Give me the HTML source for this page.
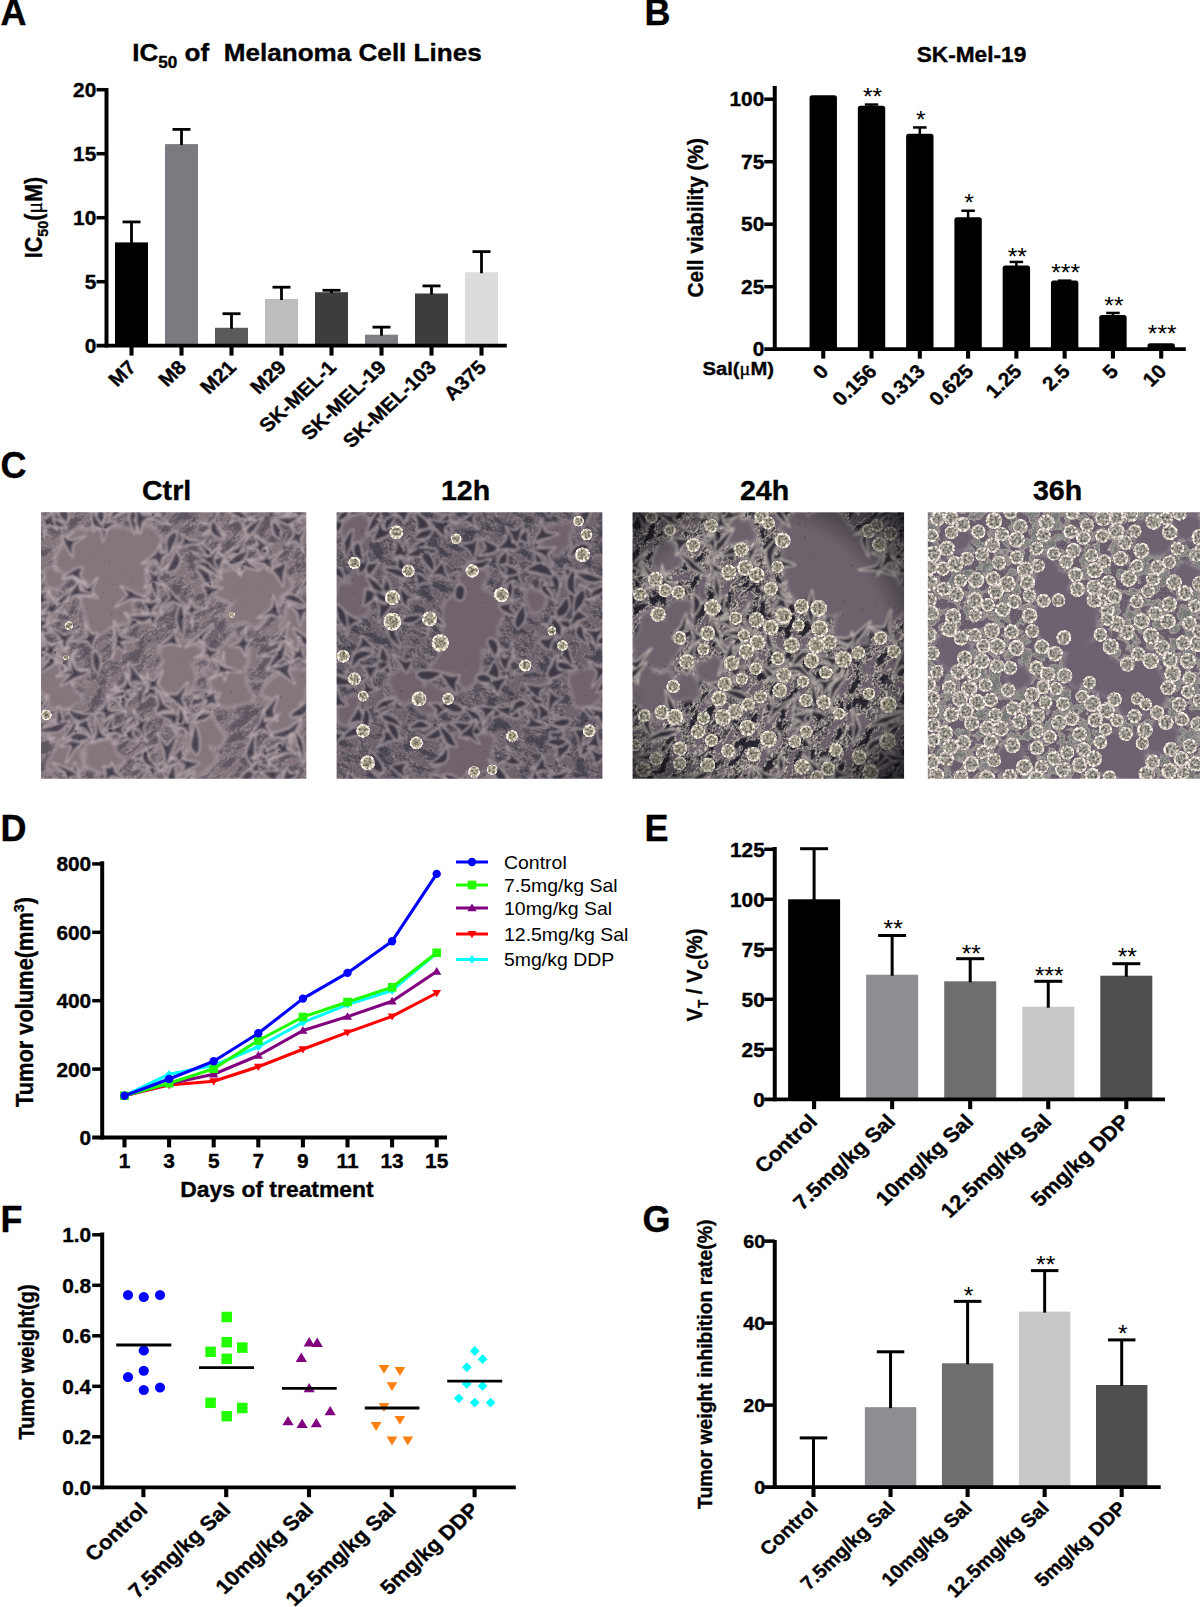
<!DOCTYPE html>
<html lang="en"><head><meta charset="utf-8"><title>Figure</title>
<style>
html,body{margin:0;padding:0;background:#fff}
svg{display:block}
text{font-family:"Liberation Sans",Arial,Helvetica,sans-serif}
.sym{font-family:"Liberation Serif","DejaVu Serif",serif;font-weight:normal}
</style></head><body>
<svg width="1200" height="1607" viewBox="0 0 1200 1607">
<rect width="1200" height="1607" fill="#fff"/>

<text transform="translate(0.50 25.00)" font-size="36" font-weight="bold" text-anchor="start" fill="#000" stroke="#000" stroke-width="0.35">A</text>
<text transform="translate(644.50 25.00)" font-size="36" font-weight="bold" text-anchor="start" fill="#000" stroke="#000" stroke-width="0.35">B</text>
<text transform="translate(0.50 478.30)" font-size="36" font-weight="bold" text-anchor="start" fill="#000" stroke="#000" stroke-width="0.35">C</text>
<text transform="translate(0.50 840.50)" font-size="36" font-weight="bold" text-anchor="start" fill="#000" stroke="#000" stroke-width="0.35">D</text>
<text transform="translate(644.50 840.50)" font-size="36" font-weight="bold" text-anchor="start" fill="#000" stroke="#000" stroke-width="0.35">E</text>
<text transform="translate(0.50 1231.80)" font-size="36" font-weight="bold" text-anchor="start" fill="#000" stroke="#000" stroke-width="0.35">F</text>
<text transform="translate(642.50 1231.80)" font-size="36" font-weight="bold" text-anchor="start" fill="#000" stroke="#000" stroke-width="0.35">G</text>
<g id="panelA">
<rect x="115.00" y="242.40" width="33.00" height="103.30" fill="#000000"/>
<line x1="131.50" y1="221.92" x2="131.50" y2="243.40" stroke="#000" stroke-width="2.8" stroke-linecap="butt"/>
<line x1="122.50" y1="221.92" x2="140.50" y2="221.92" stroke="#000" stroke-width="2.8" stroke-linecap="butt"/>
<rect x="165.00" y="144.10" width="33.00" height="201.60" fill="#7b7a80"/>
<line x1="181.50" y1="129.38" x2="181.50" y2="145.10" stroke="#000" stroke-width="2.8" stroke-linecap="butt"/>
<line x1="172.50" y1="129.38" x2="190.50" y2="129.38" stroke="#000" stroke-width="2.8" stroke-linecap="butt"/>
<rect x="215.00" y="327.78" width="33.00" height="17.92" fill="#5a5a5a"/>
<line x1="231.50" y1="313.70" x2="231.50" y2="328.78" stroke="#000" stroke-width="2.8" stroke-linecap="butt"/>
<line x1="222.50" y1="313.70" x2="240.50" y2="313.70" stroke="#000" stroke-width="2.8" stroke-linecap="butt"/>
<rect x="265.00" y="298.98" width="33.00" height="46.72" fill="#bdbdbd"/>
<line x1="281.50" y1="287.20" x2="281.50" y2="299.98" stroke="#000" stroke-width="2.8" stroke-linecap="butt"/>
<line x1="272.50" y1="287.20" x2="290.50" y2="287.20" stroke="#000" stroke-width="2.8" stroke-linecap="butt"/>
<rect x="315.00" y="292.20" width="33.00" height="53.50" fill="#3d3d3d"/>
<line x1="331.50" y1="290.28" x2="331.50" y2="293.20" stroke="#000" stroke-width="2.8" stroke-linecap="butt"/>
<line x1="322.50" y1="290.28" x2="340.50" y2="290.28" stroke="#000" stroke-width="2.8" stroke-linecap="butt"/>
<rect x="365.00" y="334.69" width="33.00" height="11.01" fill="#7f7e84"/>
<line x1="381.50" y1="327.14" x2="381.50" y2="335.69" stroke="#000" stroke-width="2.8" stroke-linecap="butt"/>
<line x1="372.50" y1="327.14" x2="390.50" y2="327.14" stroke="#000" stroke-width="2.8" stroke-linecap="butt"/>
<rect x="415.00" y="293.48" width="33.00" height="52.22" fill="#3d3d3d"/>
<line x1="431.50" y1="285.92" x2="431.50" y2="294.48" stroke="#000" stroke-width="2.8" stroke-linecap="butt"/>
<line x1="422.50" y1="285.92" x2="440.50" y2="285.92" stroke="#000" stroke-width="2.8" stroke-linecap="butt"/>
<rect x="465.00" y="272.23" width="33.00" height="73.47" fill="#dcdcdc"/>
<line x1="481.50" y1="251.62" x2="481.50" y2="273.23" stroke="#000" stroke-width="2.8" stroke-linecap="butt"/>
<line x1="472.50" y1="251.62" x2="490.50" y2="251.62" stroke="#000" stroke-width="2.8" stroke-linecap="butt"/>
<line x1="106.50" y1="87.90" x2="106.50" y2="347.60" stroke="#000" stroke-width="4.0" stroke-linecap="butt"/>
<line x1="96.50" y1="345.70" x2="506.80" y2="345.70" stroke="#000" stroke-width="3.8" stroke-linecap="butt"/>
<line x1="96.50" y1="281.70" x2="106.50" y2="281.70" stroke="#000" stroke-width="3.5" stroke-linecap="butt"/>
<line x1="96.50" y1="217.70" x2="106.50" y2="217.70" stroke="#000" stroke-width="3.5" stroke-linecap="butt"/>
<line x1="96.50" y1="153.70" x2="106.50" y2="153.70" stroke="#000" stroke-width="3.5" stroke-linecap="butt"/>
<line x1="96.50" y1="89.70" x2="106.50" y2="89.70" stroke="#000" stroke-width="3.5" stroke-linecap="butt"/>
<line x1="131.50" y1="345.70" x2="131.50" y2="355.60" stroke="#000" stroke-width="4.1" stroke-linecap="butt"/>
<line x1="181.50" y1="345.70" x2="181.50" y2="355.60" stroke="#000" stroke-width="4.1" stroke-linecap="butt"/>
<line x1="231.50" y1="345.70" x2="231.50" y2="355.60" stroke="#000" stroke-width="4.1" stroke-linecap="butt"/>
<line x1="281.50" y1="345.70" x2="281.50" y2="355.60" stroke="#000" stroke-width="4.1" stroke-linecap="butt"/>
<line x1="331.50" y1="345.70" x2="331.50" y2="355.60" stroke="#000" stroke-width="4.1" stroke-linecap="butt"/>
<line x1="381.50" y1="345.70" x2="381.50" y2="355.60" stroke="#000" stroke-width="4.1" stroke-linecap="butt"/>
<line x1="431.50" y1="345.70" x2="431.50" y2="355.60" stroke="#000" stroke-width="4.1" stroke-linecap="butt"/>
<line x1="481.50" y1="345.70" x2="481.50" y2="355.60" stroke="#000" stroke-width="4.1" stroke-linecap="butt"/>
<text transform="translate(96.30 353.00) scale(1.07 1)" font-size="19.5" font-weight="bold" text-anchor="end" fill="#000" stroke="#000" stroke-width="0.35">0</text>
<text transform="translate(96.30 289.00) scale(1.07 1)" font-size="19.5" font-weight="bold" text-anchor="end" fill="#000" stroke="#000" stroke-width="0.35">5</text>
<text transform="translate(96.30 225.00) scale(1.07 1)" font-size="19.5" font-weight="bold" text-anchor="end" fill="#000" stroke="#000" stroke-width="0.35">10</text>
<text transform="translate(96.30 161.00) scale(1.07 1)" font-size="19.5" font-weight="bold" text-anchor="end" fill="#000" stroke="#000" stroke-width="0.35">15</text>
<text transform="translate(96.30 97.00) scale(1.07 1)" font-size="19.5" font-weight="bold" text-anchor="end" fill="#000" stroke="#000" stroke-width="0.35">20</text>
<text transform="translate(307.00 61.00) scale(1.07 1)" font-size="24.4" font-weight="bold" text-anchor="middle" fill="#000" stroke="#000" stroke-width="0.35">IC<tspan font-size="16" dy="6.5">50</tspan><tspan dy="-6.5"> of&#160; Melanoma Cell Lines</tspan></text>
<text transform="translate(42.20 217.50) scale(1.07 1) rotate(-90)" font-size="21.6" font-weight="bold" text-anchor="middle" fill="#000" stroke="#000" stroke-width="0.35">IC<tspan font-size="14.4" dy="5.5">50</tspan><tspan dy="-5.5">(</tspan><tspan class="sym">μ</tspan>M)</text>
<text transform="translate(137.50 368.50) scale(1.07 1) rotate(-45)" font-size="19.5" font-weight="bold" text-anchor="end" fill="#000" stroke="#000" stroke-width="0.35">M7</text>
<text transform="translate(187.50 368.50) scale(1.07 1) rotate(-45)" font-size="19.5" font-weight="bold" text-anchor="end" fill="#000" stroke="#000" stroke-width="0.35">M8</text>
<text transform="translate(237.50 368.50) scale(1.07 1) rotate(-45)" font-size="19.5" font-weight="bold" text-anchor="end" fill="#000" stroke="#000" stroke-width="0.35">M21</text>
<text transform="translate(287.50 368.50) scale(1.07 1) rotate(-45)" font-size="19.5" font-weight="bold" text-anchor="end" fill="#000" stroke="#000" stroke-width="0.35">M29</text>
<text transform="translate(337.50 368.50) scale(1.07 1) rotate(-45)" font-size="19.5" font-weight="bold" text-anchor="end" fill="#000" stroke="#000" stroke-width="0.35">SK-MEL-1</text>
<text transform="translate(387.50 368.50) scale(1.07 1) rotate(-45)" font-size="19.5" font-weight="bold" text-anchor="end" fill="#000" stroke="#000" stroke-width="0.35">SK-MEL-19</text>
<text transform="translate(437.50 368.50) scale(1.07 1) rotate(-45)" font-size="19.5" font-weight="bold" text-anchor="end" fill="#000" stroke="#000" stroke-width="0.35">SK-MEL-103</text>
<text transform="translate(487.50 368.50) scale(1.07 1) rotate(-45)" font-size="19.5" font-weight="bold" text-anchor="end" fill="#000" stroke="#000" stroke-width="0.35">A375</text>
</g>
<g id="panelB">
<rect x="809.55" y="95.30" width="27.4" height="254.90" rx="2.6" fill="#000"/>
<rect x="857.83" y="105.80" width="27.4" height="244.40" rx="2.6" fill="#000"/>
<line x1="871.53" y1="104.55" x2="871.53" y2="107.80" stroke="#000" stroke-width="2.5" stroke-linecap="butt"/>
<line x1="864.78" y1="104.55" x2="878.28" y2="104.55" stroke="#000" stroke-width="2.5" stroke-linecap="butt"/>
<text transform="translate(872.53 105.20) scale(1.07 1)" font-size="23" font-weight="normal" text-anchor="middle" fill="#000">**</text>
<rect x="906.11" y="133.80" width="27.4" height="216.40" rx="2.6" fill="#000"/>
<line x1="919.81" y1="127.45" x2="919.81" y2="135.80" stroke="#000" stroke-width="2.5" stroke-linecap="butt"/>
<line x1="913.06" y1="127.45" x2="926.56" y2="127.45" stroke="#000" stroke-width="2.5" stroke-linecap="butt"/>
<text transform="translate(920.81 127.70) scale(1.07 1)" font-size="23" font-weight="normal" text-anchor="middle" fill="#000">*</text>
<rect x="954.39" y="217.30" width="27.4" height="132.90" rx="2.6" fill="#000"/>
<line x1="968.09" y1="210.75" x2="968.09" y2="219.30" stroke="#000" stroke-width="2.5" stroke-linecap="butt"/>
<line x1="961.34" y1="210.75" x2="974.84" y2="210.75" stroke="#000" stroke-width="2.5" stroke-linecap="butt"/>
<text transform="translate(969.09 211.20) scale(1.07 1)" font-size="23" font-weight="normal" text-anchor="middle" fill="#000">*</text>
<rect x="1002.67" y="265.50" width="27.4" height="84.70" rx="2.6" fill="#000"/>
<line x1="1016.37" y1="261.95" x2="1016.37" y2="267.50" stroke="#000" stroke-width="2.5" stroke-linecap="butt"/>
<line x1="1009.62" y1="261.95" x2="1023.12" y2="261.95" stroke="#000" stroke-width="2.5" stroke-linecap="butt"/>
<text transform="translate(1017.37 264.70) scale(1.07 1)" font-size="23" font-weight="normal" text-anchor="middle" fill="#000">**</text>
<rect x="1050.95" y="280.50" width="27.4" height="69.70" rx="2.6" fill="#000"/>
<line x1="1064.65" y1="280.65" x2="1064.65" y2="282.50" stroke="#000" stroke-width="2.5" stroke-linecap="butt"/>
<line x1="1057.90" y1="280.65" x2="1071.40" y2="280.65" stroke="#000" stroke-width="2.5" stroke-linecap="butt"/>
<text transform="translate(1065.65 281.00) scale(1.07 1)" font-size="23" font-weight="normal" text-anchor="middle" fill="#000">***</text>
<rect x="1099.23" y="315.00" width="27.4" height="35.20" rx="2.6" fill="#000"/>
<line x1="1112.93" y1="312.95" x2="1112.93" y2="317.00" stroke="#000" stroke-width="2.5" stroke-linecap="butt"/>
<line x1="1106.18" y1="312.95" x2="1119.68" y2="312.95" stroke="#000" stroke-width="2.5" stroke-linecap="butt"/>
<text transform="translate(1113.93 313.50) scale(1.07 1)" font-size="23" font-weight="normal" text-anchor="middle" fill="#000">**</text>
<rect x="1147.51" y="343.30" width="27.4" height="6.90" rx="2.6" fill="#000"/>
<text transform="translate(1162.21 342.00) scale(1.07 1)" font-size="23" font-weight="normal" text-anchor="middle" fill="#000">***</text>
<line x1="774.75" y1="86.00" x2="774.75" y2="351.10" stroke="#000" stroke-width="4.0" stroke-linecap="butt"/>
<line x1="764.25" y1="349.20" x2="1185.80" y2="349.20" stroke="#000" stroke-width="3.8" stroke-linecap="butt"/>
<line x1="764.25" y1="286.70" x2="774.75" y2="286.70" stroke="#000" stroke-width="3.5" stroke-linecap="butt"/>
<line x1="764.25" y1="224.20" x2="774.75" y2="224.20" stroke="#000" stroke-width="3.5" stroke-linecap="butt"/>
<line x1="764.25" y1="161.70" x2="774.75" y2="161.70" stroke="#000" stroke-width="3.5" stroke-linecap="butt"/>
<line x1="764.25" y1="99.20" x2="774.75" y2="99.20" stroke="#000" stroke-width="3.5" stroke-linecap="butt"/>
<line x1="823.25" y1="349.20" x2="823.25" y2="358.60" stroke="#000" stroke-width="4.1" stroke-linecap="butt"/>
<line x1="871.53" y1="349.20" x2="871.53" y2="358.60" stroke="#000" stroke-width="4.1" stroke-linecap="butt"/>
<line x1="919.81" y1="349.20" x2="919.81" y2="358.60" stroke="#000" stroke-width="4.1" stroke-linecap="butt"/>
<line x1="968.09" y1="349.20" x2="968.09" y2="358.60" stroke="#000" stroke-width="4.1" stroke-linecap="butt"/>
<line x1="1016.37" y1="349.20" x2="1016.37" y2="358.60" stroke="#000" stroke-width="4.1" stroke-linecap="butt"/>
<line x1="1064.65" y1="349.20" x2="1064.65" y2="358.60" stroke="#000" stroke-width="4.1" stroke-linecap="butt"/>
<line x1="1112.93" y1="349.20" x2="1112.93" y2="358.60" stroke="#000" stroke-width="4.1" stroke-linecap="butt"/>
<line x1="1161.21" y1="349.20" x2="1161.21" y2="358.60" stroke="#000" stroke-width="4.1" stroke-linecap="butt"/>
<text transform="translate(764.30 356.20) scale(1.07 1)" font-size="19.5" font-weight="bold" text-anchor="end" fill="#000" stroke="#000" stroke-width="0.35">0</text>
<text transform="translate(764.30 293.70) scale(1.07 1)" font-size="19.5" font-weight="bold" text-anchor="end" fill="#000" stroke="#000" stroke-width="0.35">25</text>
<text transform="translate(764.30 231.20) scale(1.07 1)" font-size="19.5" font-weight="bold" text-anchor="end" fill="#000" stroke="#000" stroke-width="0.35">50</text>
<text transform="translate(764.30 168.70) scale(1.07 1)" font-size="19.5" font-weight="bold" text-anchor="end" fill="#000" stroke="#000" stroke-width="0.35">75</text>
<text transform="translate(764.30 106.20) scale(1.07 1)" font-size="19.5" font-weight="bold" text-anchor="end" fill="#000" stroke="#000" stroke-width="0.35">100</text>
<text transform="translate(971.50 61.80) scale(1.07 1)" font-size="21.2" font-weight="bold" text-anchor="middle" fill="#000" stroke="#000" stroke-width="0.35">SK-Mel-19</text>
<text transform="translate(702.80 217.80) scale(1.07 1) rotate(-90)" font-size="20.8" font-weight="bold" text-anchor="middle" fill="#000" stroke="#000" stroke-width="0.35">Cell viability (%)</text>
<text transform="translate(774.00 374.60) scale(1.07 1)" font-size="18.9" font-weight="bold" text-anchor="end" fill="#000" stroke="#000" stroke-width="0.35">Sal(<tspan class="sym">μ</tspan>M)</text>
<text transform="translate(829.75 372.50) scale(1.07 1) rotate(-45)" font-size="19.5" font-weight="bold" text-anchor="end" fill="#000" stroke="#000" stroke-width="0.35">0</text>
<text transform="translate(878.03 372.50) scale(1.07 1) rotate(-45)" font-size="19.5" font-weight="bold" text-anchor="end" fill="#000" stroke="#000" stroke-width="0.35">0.156</text>
<text transform="translate(926.31 372.50) scale(1.07 1) rotate(-45)" font-size="19.5" font-weight="bold" text-anchor="end" fill="#000" stroke="#000" stroke-width="0.35">0.313</text>
<text transform="translate(974.59 372.50) scale(1.07 1) rotate(-45)" font-size="19.5" font-weight="bold" text-anchor="end" fill="#000" stroke="#000" stroke-width="0.35">0.625</text>
<text transform="translate(1022.87 372.50) scale(1.07 1) rotate(-45)" font-size="19.5" font-weight="bold" text-anchor="end" fill="#000" stroke="#000" stroke-width="0.35">1.25</text>
<text transform="translate(1071.15 372.50) scale(1.07 1) rotate(-45)" font-size="19.5" font-weight="bold" text-anchor="end" fill="#000" stroke="#000" stroke-width="0.35">2.5</text>
<text transform="translate(1119.43 372.50) scale(1.07 1) rotate(-45)" font-size="19.5" font-weight="bold" text-anchor="end" fill="#000" stroke="#000" stroke-width="0.35">5</text>
<text transform="translate(1167.71 372.50) scale(1.07 1) rotate(-45)" font-size="19.5" font-weight="bold" text-anchor="end" fill="#000" stroke="#000" stroke-width="0.35">10</text>
</g>
<g id="panelC">
<defs>
<clipPath id="pc0"><rect x="41.0" y="512.3" width="265.3" height="266.5"/></clipPath>
<clipPath id="pc1"><rect x="336.6" y="512.3" width="265.8" height="266.5"/></clipPath>
<clipPath id="pc2"><rect x="632.5" y="512.3" width="271.6" height="266.5"/></clipPath>
<clipPath id="pc3"><rect x="927.8" y="512.3" width="272.2" height="266.5"/></clipPath>
<filter id="lens" x="0" y="0" width="1" height="1"><feGaussianBlur stdDeviation="0.65"/></filter>
<filter id="soft" x="-0.1" y="-0.1" width="1.2" height="1.2"><feGaussianBlur stdDeviation="2.2"/></filter>
<filter id="soft2" x="-0.1" y="-0.1" width="1.2" height="1.2"><feGaussianBlur stdDeviation="0.8"/></filter>
<radialGradient id="rc"><stop offset="0" stop-color="#8d8678"/><stop offset="0.55" stop-color="#a39c8c"/><stop offset="0.8" stop-color="#efe9dc"/><stop offset="0.93" stop-color="#d9c8cc"/><stop offset="1" stop-color="#d9c8cc" stop-opacity="0"/></radialGradient>
<radialGradient id="rc2"><stop offset="0" stop-color="#aaa596"/><stop offset="0.5" stop-color="#8d887e"/><stop offset="0.78" stop-color="#dad5c4"/><stop offset="0.93" stop-color="#c4b5bc"/><stop offset="1" stop-color="#c4b5bc" stop-opacity="0"/></radialGradient>
<radialGradient id="rc3"><stop offset="0" stop-color="#a29e97"/><stop offset="0.5" stop-color="#8e8a87"/><stop offset="0.76" stop-color="#dad4c8"/><stop offset="0.9" stop-color="#cbb9c1"/><stop offset="1" stop-color="#c9b3bf" stop-opacity="0"/></radialGradient>
<radialGradient id="vg" cx="0.47" cy="0.5" r="0.75"><stop offset="0.62" stop-color="#000" stop-opacity="0"/><stop offset="1" stop-color="#05030c" stop-opacity="0.85"/></radialGradient>
<filter id="tx0" x="0" y="0" width="1" height="1" color-interpolation-filters="sRGB">
<feTurbulence type="fractalNoise" baseFrequency="0.055 0.125" numOctaves="3" seed="11" result="n"/>
<feColorMatrix in="n" type="matrix" values="3.4 0 0 0 -1.28  3.4 0 0 0 -1.28  3.4 0 0 0 -1.28  0 0 0 0 1" result="g"/>
<feComponentTransfer in="g" result="t"><feFuncR type="table" tableValues="0.376 0.416 0.541 0.439 0.400 0.455 0.612 0.549 0.522 0.518 0.518"/><feFuncG type="table" tableValues="0.345 0.384 0.494 0.404 0.369 0.416 0.561 0.494 0.467 0.463 0.463"/><feFuncB type="table" tableValues="0.388 0.424 0.522 0.439 0.412 0.447 0.580 0.518 0.494 0.490 0.490"/></feComponentTransfer>
<feTurbulence type="fractalNoise" baseFrequency="0.55" numOctaves="2" seed="18" result="f"/>
<feColorMatrix in="f" type="matrix" values="1 0 0 0 0  1 0 0 0 0  1 0 0 0 0  0 0 0 0 1" result="fg"/>
<feComposite in="t" in2="fg" operator="arithmetic" k1="0" k2="1" k3="0.12" k4="-0.06"/>
</filter>
<filter id="tx1" x="0" y="0" width="1" height="1" color-interpolation-filters="sRGB">
<feTurbulence type="fractalNoise" baseFrequency="0.065 0.120" numOctaves="3" seed="23" result="n"/>
<feColorMatrix in="n" type="matrix" values="3.4 0 0 0 -1.22  3.4 0 0 0 -1.22  3.4 0 0 0 -1.22  0 0 0 0 1" result="g"/>
<feComponentTransfer in="g" result="t"><feFuncR type="table" tableValues="0.290 0.345 0.478 0.369 0.314 0.384 0.557 0.478 0.443 0.435 0.435"/><feFuncG type="table" tableValues="0.271 0.322 0.435 0.341 0.294 0.353 0.510 0.431 0.396 0.392 0.392"/><feFuncB type="table" tableValues="0.318 0.365 0.467 0.380 0.337 0.388 0.537 0.459 0.431 0.427 0.427"/></feComponentTransfer>
<feTurbulence type="fractalNoise" baseFrequency="0.55" numOctaves="2" seed="30" result="f"/>
<feColorMatrix in="f" type="matrix" values="1 0 0 0 0  1 0 0 0 0  1 0 0 0 0  0 0 0 0 1" result="fg"/>
<feComposite in="t" in2="fg" operator="arithmetic" k1="0" k2="1" k3="0.18" k4="-0.09"/>
</filter>
<filter id="tx2" x="0" y="0" width="1" height="1" color-interpolation-filters="sRGB">
<feTurbulence type="fractalNoise" baseFrequency="0.060 0.125" numOctaves="3" seed="5" result="n"/>
<feColorMatrix in="n" type="matrix" values="3.4 0 0 0 -1.25  3.4 0 0 0 -1.25  3.4 0 0 0 -1.25  0 0 0 0 1" result="g"/>
<feComponentTransfer in="g" result="t"><feFuncR type="table" tableValues="0.157 0.439 0.784 0.337 0.204 0.518 0.839 0.502 0.431 0.424 0.424"/><feFuncG type="table" tableValues="0.149 0.416 0.753 0.314 0.192 0.494 0.808 0.455 0.392 0.384 0.384"/><feFuncB type="table" tableValues="0.188 0.416 0.706 0.353 0.235 0.471 0.761 0.475 0.427 0.424 0.424"/></feComponentTransfer>
<feTurbulence type="fractalNoise" baseFrequency="0.55" numOctaves="2" seed="12" result="f"/>
<feColorMatrix in="f" type="matrix" values="1 0 0 0 0  1 0 0 0 0  1 0 0 0 0  0 0 0 0 1" result="fg"/>
<feComposite in="t" in2="fg" operator="arithmetic" k1="0" k2="1" k3="0.26" k4="-0.13"/>
</filter>
<filter id="tx3" x="0" y="0" width="1" height="1" color-interpolation-filters="sRGB">
<feTurbulence type="fractalNoise" baseFrequency="0.10 0.10" numOctaves="2" seed="31" result="n"/>
<feColorMatrix in="n" type="matrix" values="3.2 0 0 0 -1.0  3.2 0 0 0 -1.0  3.2 0 0 0 -1.0  0 0 0 0 1" result="g"/>
<feComponentTransfer in="g" result="t"><feFuncR type="table" tableValues="0.471 0.588 0.431 0.627 0.510 0.588 0.667 0.471 0.424 0.416 0.416"/><feFuncG type="table" tableValues="0.486 0.588 0.439 0.620 0.510 0.573 0.627 0.431 0.384 0.376 0.376"/><feFuncB type="table" tableValues="0.478 0.557 0.471 0.580 0.510 0.549 0.627 0.471 0.439 0.431 0.431"/></feComponentTransfer>
<feTurbulence type="fractalNoise" baseFrequency="0.55" numOctaves="2" seed="38" result="f"/>
<feColorMatrix in="f" type="matrix" values="1 0 0 0 0  1 0 0 0 0  1 0 0 0 0  0 0 0 0 1" result="fg"/>
<feComposite in="t" in2="fg" operator="arithmetic" k1="0" k2="1" k3="0.2" k4="-0.1"/>
</filter>
<filter id="cellgrain" x="0" y="0" width="1" height="1" color-interpolation-filters="sRGB"><feTurbulence type="fractalNoise" baseFrequency="0.42" numOctaves="2" seed="4" result="f"/><feColorMatrix in="f" type="matrix" values="1 0 0 0 0  1 0 0 0 0  0.97 0 0 0 0  0 0 0 0 1" result="fg"/><feGaussianBlur in="SourceGraphic" stdDeviation="0.55" result="b"/><feComposite in="b" in2="fg" operator="arithmetic" k1="1.5" k2="0.25" k3="0" k4="0"/><feComposite in2="b" operator="in"/></filter>
</defs>
<g clip-path="url(#pc0)"><g filter="url(#lens)">
<rect x="41.0" y="512.3" width="265.3" height="266.5" fill="#84767d"/>
<rect x="-19.0" y="452.29999999999995" width="385.3" height="386.5" filter="url(#tx0)" transform="rotate(-38 173.65 645.55)"/>
<g filter="url(#soft)" fill="#84767d" stroke="#d9c9cc" stroke-width="1.8" stroke-linejoin="round">
<path d="M67.9 535.1C74.6 528.6 87.3 529.1 95.5 527.8C103.7 526.4 109.7 526.4 117.1 527.1C124.6 527.8 132.9 528.5 140.2 532.0C147.5 535.4 160.0 541.3 160.9 547.7C161.8 554.1 148.1 562.7 145.7 570.5C143.4 578.3 150.9 589.0 147.0 594.3C143.1 599.6 130.6 601.3 122.5 602.2C114.4 603.2 104.4 603.1 98.6 600.0C92.7 596.9 94.6 589.1 87.4 583.5C80.2 578.0 58.7 574.9 55.4 566.8C52.2 558.7 61.2 541.6 67.9 535.1Z"/>
<path d="M85.3 616.5C83.2 610.7 82.6 607.1 81.8 602.2C80.9 597.3 77.7 590.2 80.4 587.1C83.0 584.0 93.3 584.9 98.0 583.4C102.7 582.0 105.2 578.0 108.6 578.5C112.0 579.0 115.4 584.1 118.4 586.4C121.4 588.8 124.3 589.3 126.8 592.4C129.2 595.5 132.5 600.1 133.1 605.0C133.7 610.0 133.7 618.6 130.5 622.0C127.3 625.3 119.7 622.8 113.8 625.4C107.8 627.9 99.4 638.6 94.6 637.2C89.9 635.7 87.5 622.4 85.3 616.5Z"/>
<path d="M160.3 544.7C160.7 547.9 163.7 552.9 162.7 555.9C161.8 558.9 157.7 561.6 154.5 562.8C151.4 563.9 147.4 563.7 143.9 562.7C140.5 561.8 136.3 559.2 133.9 556.9C131.5 554.6 131.2 552.3 129.7 548.8C128.2 545.4 123.6 539.0 125.1 536.4C126.6 533.7 135.4 534.8 138.7 532.9C142.0 531.1 142.2 525.8 144.8 525.3C147.4 524.7 151.8 527.5 154.4 529.4C157.0 531.4 159.3 534.5 160.3 537.1C161.3 539.7 159.9 541.6 160.3 544.7Z"/>
<path d="M89.7 536.2C92.1 539.2 89.4 543.2 92.7 546.1C96.0 549.0 109.8 551.0 109.6 553.3C109.4 555.6 95.1 557.1 91.5 559.9C87.9 562.6 90.2 568.1 87.9 569.8C85.6 571.4 81.3 570.0 77.5 569.7C73.6 569.4 66.4 570.3 64.6 568.0C62.8 565.6 67.5 559.5 66.9 555.8C66.3 552.2 60.5 548.9 60.8 546.0C61.2 543.1 66.1 541.6 68.9 538.6C71.8 535.6 74.7 528.5 78.2 528.1C81.6 527.7 87.3 533.2 89.7 536.2Z"/>
<path d="M245.6 588.6C243.5 591.0 242.1 591.6 240.1 594.1C238.1 596.5 236.3 602.2 233.6 603.2C231.0 604.1 227.3 601.3 224.0 599.8C220.8 598.3 215.1 596.9 214.2 594.2C213.4 591.5 218.5 587.2 218.7 583.5C219.0 579.8 214.4 574.0 215.7 572.1C217.1 570.1 223.6 572.2 226.9 571.7C230.2 571.1 233.3 568.5 235.6 569.0C237.9 569.4 238.0 572.5 240.9 574.2C243.8 575.9 252.5 576.8 253.3 579.2C254.1 581.6 247.8 586.1 245.6 588.6Z"/>
<path d="M256.5 628.1C252.1 627.8 250.1 612.2 246.2 606.8C242.4 601.3 234.6 599.6 233.4 595.4C232.1 591.2 237.0 586.2 238.6 581.4C240.2 576.5 240.0 569.1 243.0 566.1C246.0 563.1 251.6 564.5 256.6 563.3C261.6 562.2 268.6 558.1 272.9 559.4C277.2 560.7 279.2 566.6 282.6 571.1C286.0 575.5 293.9 581.7 293.2 586.1C292.5 590.6 281.8 594.0 278.4 597.7C275.0 601.4 276.4 603.4 272.7 608.5C269.1 613.6 260.9 628.4 256.5 628.1Z"/>
<path d="M255.2 627.9C252.4 628.2 249.3 622.1 244.9 621.6C240.5 621.0 231.5 626.6 228.8 624.6C226.2 622.6 227.6 613.6 228.8 609.6C230.0 605.6 234.3 604.0 236.3 600.5C238.3 597.0 238.3 591.1 240.9 588.9C243.6 586.7 248.4 586.9 252.2 587.3C256.0 587.8 259.0 590.2 263.9 591.8C268.8 593.4 280.9 593.6 281.6 596.9C282.4 600.2 271.9 608.0 268.6 611.8C265.2 615.5 263.9 616.8 261.7 619.5C259.4 622.1 258.0 627.5 255.2 627.9Z"/>
<path d="M290.2 601.6C292.6 601.2 297.6 612.4 300.3 615.2C303.0 618.1 304.3 617.0 306.4 618.7C308.6 620.3 312.5 622.7 313.3 625.4C314.2 628.1 313.4 632.6 311.7 634.8C310.0 636.9 306.0 635.3 303.1 638.4C300.2 641.5 297.3 653.0 294.4 653.2C291.5 653.5 287.4 643.6 285.6 640.1C283.7 636.6 283.8 634.9 283.1 632.3C282.4 629.6 281.1 626.8 281.6 624.4C282.0 622.0 284.5 621.7 286.0 617.9C287.4 614.1 287.8 602.1 290.2 601.6Z"/>
<path d="M315.9 674.8C316.6 678.3 306.9 685.8 305.2 689.8C303.5 693.8 307.0 696.1 305.6 698.7C304.2 701.2 300.4 702.8 296.8 705.1C293.3 707.4 287.7 713.0 284.4 712.2C281.1 711.4 280.6 703.3 276.8 700.2C272.9 697.1 262.3 696.9 261.4 693.5C260.4 690.1 268.0 682.9 271.1 679.8C274.1 676.6 276.4 676.1 279.5 674.6C282.6 673.1 286.1 671.7 289.7 670.8C293.2 669.9 296.4 668.4 300.8 669.1C305.1 669.7 315.1 671.4 315.9 674.8Z"/>
<path d="M298.5 718.1C297.8 721.8 300.6 728.2 299.0 731.4C297.3 734.6 292.2 737.3 288.6 737.6C284.9 737.9 281.1 734.8 277.2 733.2C273.3 731.7 267.0 731.4 265.2 728.4C263.4 725.3 266.4 719.3 266.4 715.1C266.4 710.8 263.4 705.6 265.3 702.7C267.2 699.9 273.9 699.6 277.8 698.1C281.6 696.6 285.2 693.4 288.3 693.9C291.4 694.4 293.9 698.5 296.4 701.1C298.8 703.8 302.6 706.9 303.0 709.8C303.3 712.6 299.1 714.5 298.5 718.1Z"/>
<path d="M166.3 639.6C168.9 638.3 172.9 641.2 176.0 641.3C179.1 641.5 181.8 639.9 184.6 640.4C187.5 640.9 190.1 642.4 193.2 644.3C196.3 646.2 202.7 648.9 203.0 652.0C203.3 655.1 197.7 660.4 194.8 662.8C191.9 665.2 188.6 664.8 185.7 666.6C182.8 668.3 180.9 672.1 177.6 673.1C174.2 674.2 168.0 675.1 165.5 672.9C163.0 670.7 163.4 663.8 162.4 659.9C161.5 655.9 159.4 652.6 160.1 649.2C160.7 645.8 163.6 640.9 166.3 639.6Z"/>
<path d="M158.3 670.9C159.8 667.8 161.6 665.1 164.5 662.4C167.5 659.7 172.0 655.2 176.0 655.0C180.1 654.9 185.4 658.5 188.7 661.6C191.9 664.7 194.6 669.7 195.4 673.7C196.2 677.6 195.0 682.2 193.5 685.4C191.9 688.6 188.7 691.1 185.9 692.9C183.2 694.7 180.3 694.8 177.0 696.0C173.6 697.3 168.7 701.4 165.8 700.4C162.9 699.5 161.5 693.7 159.7 690.5C158.0 687.2 155.5 684.2 155.3 681.0C155.0 677.7 156.7 674.0 158.3 670.9Z"/>
<path d="M247.9 654.1C248.1 656.6 248.2 658.5 247.3 661.5C246.5 664.5 245.4 671.0 242.8 672.0C240.3 673.0 235.4 668.5 231.8 667.6C228.2 666.7 223.2 668.6 221.2 666.9C219.2 665.2 219.9 660.4 219.6 657.3C219.3 654.3 218.2 651.1 219.5 648.7C220.7 646.4 225.0 645.6 227.2 643.3C229.5 641.0 230.6 635.0 233.0 634.8C235.3 634.7 239.0 640.6 241.3 642.5C243.5 644.4 245.3 644.3 246.4 646.2C247.5 648.1 247.8 651.5 247.9 654.1Z"/>
<path d="M244.8 671.2C246.8 674.4 244.7 680.4 246.3 684.8C247.8 689.3 254.6 694.6 254.1 697.8C253.6 701.0 247.3 702.5 243.4 703.9C239.6 705.4 234.7 706.0 230.8 706.4C227.0 706.8 224.7 707.1 220.4 706.4C216.1 705.7 206.3 705.3 204.9 702.1C203.6 698.9 212.5 692.8 212.1 687.0C211.7 681.3 200.5 669.6 202.4 667.5C204.2 665.4 217.9 674.8 223.3 674.5C228.6 674.1 231.1 665.7 234.7 665.2C238.3 664.6 242.9 667.9 244.8 671.2Z"/>
<path d="M73.0 660.5C74.8 662.6 68.5 672.1 68.4 676.4C68.2 680.7 72.5 683.5 72.1 686.3C71.7 689.1 68.3 690.4 65.8 693.1C63.2 695.8 60.0 702.2 56.9 702.7C53.7 703.1 49.9 697.8 46.8 695.6C43.7 693.4 40.3 692.1 38.3 689.4C36.3 686.8 35.8 683.4 34.7 679.6C33.7 675.8 29.8 669.6 31.8 666.8C33.8 664.0 42.5 663.3 46.8 662.8C51.0 662.4 53.1 664.5 57.4 664.1C61.8 663.7 71.2 658.5 73.0 660.5Z"/>
<path d="M73.3 681.8C75.1 683.4 72.8 688.3 74.5 691.1C76.3 694.0 83.8 696.8 83.7 699.0C83.7 701.2 77.0 702.8 74.3 704.4C71.5 706.0 69.7 708.2 67.3 708.7C64.9 709.3 62.9 707.8 60.0 707.6C57.1 707.4 51.6 709.2 49.7 707.5C47.8 705.9 48.9 700.9 48.8 697.9C48.6 694.9 47.6 691.8 48.8 689.6C49.9 687.3 53.0 685.8 55.5 684.5C58.0 683.1 60.8 681.9 63.8 681.5C66.7 681.1 71.5 680.2 73.3 681.8Z"/>
<path d="M115.0 743.4C116.5 745.7 113.7 749.1 115.3 752.3C116.9 755.5 125.1 760.3 124.7 762.8C124.2 765.3 116.2 765.7 112.6 767.3C109.0 769.0 106.2 772.3 103.1 772.6C100.0 773.0 97.2 771.0 94.1 769.5C91.0 768.1 85.9 766.7 84.7 764.1C83.5 761.4 86.4 757.0 86.6 753.6C86.9 750.3 84.2 745.8 86.0 743.9C87.8 742.0 94.0 743.2 97.3 742.4C100.7 741.6 103.1 738.7 106.0 738.9C109.0 739.0 113.5 741.2 115.0 743.4Z"/>
<path d="M50.8 757.3C52.2 754.0 53.9 752.8 55.7 749.8C57.5 746.9 58.7 740.6 61.5 739.5C64.3 738.4 69.3 741.7 72.4 743.4C75.4 745.2 78.3 747.2 79.8 749.7C81.3 752.2 80.8 755.3 81.4 758.4C82.0 761.4 84.6 765.9 83.3 767.9C82.0 770.0 76.2 769.9 73.5 770.8C70.8 771.6 69.3 773.3 67.2 773.1C65.2 772.9 64.5 770.3 61.2 769.7C57.9 769.1 49.1 771.6 47.3 769.5C45.6 767.4 49.4 760.5 50.8 757.3Z"/>
<path d="M209.6 746.6C206.4 746.8 204.9 746.8 201.2 747.4C197.4 748.1 189.5 752.1 187.1 750.2C184.8 748.4 187.1 740.4 187.2 736.2C187.3 732.1 186.0 728.2 187.6 725.5C189.3 722.8 194.0 722.6 197.0 720.1C200.0 717.6 202.6 710.4 205.5 710.5C208.3 710.5 212.2 717.3 214.3 720.2C216.5 723.1 216.6 725.2 218.3 727.9C219.9 730.5 224.0 733.1 224.3 736.3C224.6 739.4 222.5 744.8 220.1 746.5C217.6 748.2 212.7 746.4 209.6 746.6Z"/>
<path d="M190.5 750.6C192.4 749.0 193.4 748.5 195.7 746.6C198.0 744.7 202.0 738.7 204.3 739.0C206.6 739.3 207.7 745.8 209.6 748.3C211.5 750.8 215.0 751.5 215.9 754.0C216.7 756.5 215.7 761.0 214.5 763.2C213.2 765.3 210.5 765.3 208.3 767.0C206.1 768.7 204.2 771.7 201.1 773.3C198.1 775.0 192.4 778.4 190.0 776.8C187.5 775.2 187.7 767.3 186.7 763.8C185.8 760.4 183.7 758.3 184.3 756.1C184.9 753.9 188.6 752.2 190.5 750.6Z"/>
<path d="M51.8 566.5C53.8 567.0 55.3 571.2 57.2 572.1C59.1 573.1 61.8 571.2 63.0 572.2C64.1 573.3 64.1 576.3 64.1 578.3C64.2 580.3 64.2 582.6 63.4 584.2C62.6 585.7 60.9 586.8 59.2 587.5C57.6 588.1 55.4 587.9 53.6 587.9C51.8 587.9 49.8 588.3 48.4 587.4C47.1 586.4 46.1 583.9 45.6 582.2C45.1 580.4 45.6 579.1 45.5 576.9C45.4 574.8 44.1 571.0 45.1 569.3C46.2 567.5 49.7 566.1 51.8 566.5Z"/>
</g>
<g filter="url(#soft)" fill="#84767d">
<path d="M69.8 536.2C76.2 530.0 88.4 530.5 96.2 529.2C104.1 527.9 109.9 527.8 117.0 528.5C124.2 529.2 132.1 529.9 139.1 533.2C146.1 536.5 158.1 542.1 159.0 548.3C159.9 554.5 146.7 562.7 144.5 570.2C142.2 577.6 149.4 588.0 145.7 593.1C141.9 598.1 129.9 599.8 122.2 600.7C114.4 601.6 104.8 601.5 99.2 598.5C93.6 595.5 95.3 588.0 88.4 582.7C81.5 577.4 60.9 574.4 57.8 566.6C54.6 558.9 63.4 542.5 69.8 536.2Z"/>
<path d="M86.2 615.9C84.2 610.3 83.6 606.9 82.8 602.1C82.0 597.4 78.8 590.6 81.4 587.6C84.0 584.6 93.8 585.5 98.3 584.1C102.9 582.7 105.3 578.9 108.5 579.3C111.8 579.8 115.1 584.8 118.0 587.0C120.9 589.2 123.6 589.7 126.0 592.7C128.4 595.7 131.5 600.1 132.1 604.8C132.7 609.6 132.7 617.8 129.6 621.1C126.5 624.3 119.2 621.9 113.5 624.4C107.8 626.8 99.7 637.1 95.1 635.7C90.6 634.3 88.3 621.5 86.2 615.9Z"/>
<path d="M159.8 544.7C160.2 547.7 163.0 552.6 162.1 555.5C161.2 558.3 157.3 560.9 154.2 562.0C151.2 563.1 147.4 562.9 144.1 562.0C140.7 561.1 136.7 558.7 134.4 556.4C132.2 554.2 131.8 552.0 130.4 548.7C129.0 545.4 124.5 539.2 126.0 536.7C127.4 534.1 135.9 535.1 139.1 533.4C142.2 531.6 142.4 526.6 144.9 526.0C147.4 525.5 151.6 528.1 154.1 530.0C156.6 531.9 158.8 534.9 159.8 537.4C160.7 539.8 159.4 541.7 159.8 544.7Z"/>
<path d="M89.4 536.8C91.7 539.7 89.1 543.6 92.3 546.4C95.4 549.1 108.7 551.1 108.5 553.3C108.3 555.5 94.6 556.9 91.1 559.6C87.6 562.2 89.9 567.5 87.6 569.1C85.4 570.7 81.3 569.3 77.6 569.0C73.9 568.8 66.9 569.6 65.3 567.3C63.6 565.1 68.1 559.2 67.5 555.7C66.8 552.2 61.3 549.0 61.6 546.2C61.9 543.5 66.6 542.0 69.4 539.2C72.2 536.3 74.9 529.4 78.3 529.0C81.6 528.6 87.0 533.9 89.4 536.8Z"/>
<path d="M245.1 588.4C243.0 590.8 241.7 591.3 239.8 593.7C237.9 596.0 236.2 601.5 233.6 602.4C231.0 603.3 227.5 600.6 224.3 599.1C221.2 597.7 215.8 596.4 215.0 593.8C214.1 591.2 219.0 587.1 219.3 583.6C219.5 580.0 215.1 574.5 216.4 572.6C217.7 570.7 223.9 572.7 227.1 572.2C230.3 571.7 233.2 569.2 235.5 569.6C237.7 570.0 237.7 573.0 240.5 574.6C243.4 576.2 251.7 577.1 252.4 579.4C253.2 581.7 247.2 586.0 245.1 588.4Z"/>
<path d="M256.7 626.4C252.4 626.2 250.5 611.2 246.8 606.0C243.1 600.8 235.7 599.1 234.5 595.1C233.3 591.0 238.0 586.3 239.5 581.6C241.1 576.9 240.8 569.9 243.7 567.0C246.6 564.1 252.0 565.4 256.8 564.3C261.6 563.2 268.3 559.2 272.4 560.5C276.6 561.7 278.5 567.4 281.8 571.7C285.0 576.0 292.6 581.9 292.0 586.2C291.3 590.4 281.0 593.7 277.7 597.3C274.4 600.9 275.8 602.8 272.3 607.6C268.7 612.5 260.9 626.7 256.7 626.4Z"/>
<path d="M255.0 627.1C252.3 627.4 249.3 621.6 245.1 621.1C240.9 620.5 232.3 625.9 229.7 623.9C227.1 622.0 228.5 613.4 229.7 609.6C230.9 605.7 234.9 604.1 236.9 600.8C238.8 597.5 238.8 591.8 241.3 589.7C243.9 587.6 248.5 587.7 252.1 588.2C255.8 588.6 258.7 590.9 263.4 592.4C268.1 594.0 279.7 594.2 280.4 597.4C281.1 600.6 271.0 608.0 267.8 611.6C264.6 615.2 263.4 616.4 261.2 619.0C259.1 621.6 257.7 626.7 255.0 627.1Z"/>
<path d="M290.4 602.6C292.7 602.2 297.5 613.0 300.1 615.7C302.7 618.4 303.9 617.4 306.0 619.0C308.1 620.6 311.8 622.9 312.6 625.5C313.5 628.0 312.7 632.4 311.0 634.5C309.4 636.5 305.6 635.0 302.8 638.0C300.1 640.9 297.3 651.9 294.4 652.2C291.6 652.4 287.8 642.9 286.0 639.6C284.2 636.2 284.2 634.5 283.6 632.0C283.0 629.5 281.7 626.8 282.1 624.5C282.6 622.2 285.0 621.9 286.4 618.3C287.7 614.7 288.1 603.1 290.4 602.6Z"/>
<path d="M314.9 675.4C315.6 678.7 306.2 685.9 304.6 689.7C303.0 693.6 306.4 695.8 305.0 698.3C303.7 700.7 300.0 702.3 296.6 704.4C293.2 706.6 287.8 712.0 284.6 711.2C281.4 710.4 281.0 702.7 277.3 699.7C273.6 696.7 263.4 696.6 262.5 693.3C261.6 690.0 268.9 683.1 271.8 680.1C274.7 677.1 277.0 676.6 279.9 675.1C282.9 673.7 286.3 672.4 289.7 671.5C293.1 670.6 296.1 669.2 300.3 669.8C304.5 670.5 314.2 672.1 314.9 675.4Z"/>
<path d="M297.9 718.0C297.3 721.5 300.0 727.6 298.4 730.7C296.8 733.9 291.9 736.4 288.4 736.6C284.9 736.9 281.2 734.0 277.5 732.5C273.8 731.0 267.8 730.7 266.0 727.8C264.3 724.9 267.2 719.1 267.2 715.0C267.2 710.9 264.3 705.9 266.1 703.2C267.9 700.5 274.4 700.2 278.0 698.8C281.7 697.3 285.2 694.3 288.1 694.7C291.1 695.2 293.6 699.1 295.9 701.7C298.3 704.2 301.9 707.3 302.2 710.0C302.6 712.7 298.6 714.6 297.9 718.0Z"/>
<path d="M166.8 640.2C169.3 638.9 173.2 641.7 176.1 641.8C179.1 641.9 181.7 640.4 184.4 640.9C187.2 641.4 189.7 642.8 192.6 644.7C195.6 646.5 201.8 649.1 202.0 652.0C202.3 655.0 197.0 660.1 194.2 662.4C191.4 664.8 188.2 664.4 185.4 666.0C182.7 667.7 180.8 671.3 177.6 672.4C174.4 673.4 168.5 674.3 166.1 672.2C163.6 670.0 164.0 663.4 163.1 659.6C162.2 655.8 160.2 652.6 160.8 649.4C161.4 646.1 164.2 641.5 166.8 640.2Z"/>
<path d="M158.9 671.3C160.4 668.3 162.0 665.7 164.9 663.1C167.7 660.6 172.1 656.2 175.9 656.0C179.8 655.9 185.0 659.3 188.1 662.3C191.2 665.3 193.8 670.1 194.5 673.9C195.3 677.7 194.2 682.1 192.7 685.2C191.2 688.3 188.1 690.7 185.4 692.4C182.8 694.1 180.1 694.2 176.9 695.4C173.6 696.6 168.9 700.5 166.1 699.6C163.3 698.8 162.0 693.2 160.3 690.1C158.6 687.0 156.2 684.1 156.0 680.9C155.8 677.8 157.4 674.3 158.9 671.3Z"/>
<path d="M247.4 654.1C247.5 656.5 247.6 658.3 246.8 661.2C246.0 664.1 245.0 670.3 242.5 671.3C240.0 672.2 235.4 667.9 231.9 667.0C228.5 666.2 223.7 668.0 221.7 666.4C219.8 664.7 220.5 660.1 220.2 657.2C219.9 654.3 218.9 651.2 220.1 648.9C221.3 646.7 225.4 646.0 227.5 643.7C229.7 641.5 230.8 635.7 233.0 635.6C235.3 635.4 238.9 641.1 241.0 643.0C243.2 644.8 244.9 644.7 246.0 646.5C247.0 648.4 247.2 651.6 247.4 654.1Z"/>
<path d="M244.2 671.9C246.1 675.0 244.1 680.7 245.6 685.0C247.1 689.2 253.6 694.3 253.1 697.4C252.7 700.4 246.6 701.9 242.9 703.3C239.1 704.7 234.5 705.3 230.8 705.6C227.1 706.0 224.9 706.3 220.7 705.6C216.6 705.0 207.2 704.7 205.9 701.6C204.6 698.5 213.2 692.6 212.8 687.1C212.4 681.5 201.7 670.3 203.4 668.3C205.2 666.3 218.3 675.4 223.5 675.0C228.7 674.6 231.0 666.6 234.5 666.1C237.9 665.6 242.3 668.7 244.2 671.9Z"/>
<path d="M72.3 661.3C74.0 663.3 68.0 672.4 67.8 676.5C67.7 680.6 71.8 683.4 71.4 686.1C71.0 688.7 67.7 690.0 65.3 692.6C62.9 695.2 59.8 701.4 56.8 701.8C53.7 702.2 50.1 697.1 47.1 695.0C44.1 692.9 40.9 691.6 39.0 689.1C37.0 686.5 36.6 683.2 35.5 679.6C34.5 676.0 30.8 670.0 32.7 667.3C34.7 664.7 43.0 664.0 47.1 663.5C51.2 663.1 53.1 665.1 57.3 664.7C61.5 664.4 70.5 659.4 72.3 661.3Z"/>
<path d="M72.9 682.4C74.6 683.9 72.4 688.6 74.1 691.3C75.8 694.1 83.0 696.8 82.9 698.9C82.9 701.0 76.5 702.5 73.9 704.1C71.2 705.6 69.4 707.7 67.2 708.2C64.9 708.7 63.0 707.3 60.1 707.1C57.3 706.9 52.1 708.6 50.3 707.1C48.5 705.6 49.5 700.7 49.4 697.8C49.2 695.0 48.3 692.0 49.3 689.8C50.4 687.7 53.5 686.2 55.9 685.0C58.3 683.7 60.9 682.5 63.7 682.1C66.6 681.7 71.2 680.8 72.9 682.4Z"/>
<path d="M114.5 743.9C116.0 746.0 113.2 749.3 114.8 752.4C116.3 755.5 124.2 760.0 123.8 762.4C123.3 764.9 115.6 765.2 112.2 766.8C108.7 768.4 106.0 771.6 103.1 771.9C100.1 772.3 97.3 770.3 94.4 768.9C91.5 767.6 86.6 766.2 85.4 763.7C84.2 761.1 87.1 756.9 87.3 753.7C87.5 750.4 84.9 746.1 86.7 744.3C88.4 742.5 94.3 743.7 97.5 742.9C100.7 742.1 103.1 739.3 105.9 739.5C108.7 739.7 113.0 741.7 114.5 743.9Z"/>
<path d="M51.5 757.4C52.8 754.2 54.4 753.1 56.2 750.2C57.9 747.4 59.1 741.4 61.7 740.3C64.4 739.3 69.2 742.5 72.2 744.1C75.1 745.8 77.8 747.8 79.3 750.1C80.7 752.5 80.3 755.5 80.8 758.5C81.4 761.4 83.9 765.6 82.6 767.6C81.4 769.6 75.8 769.5 73.3 770.3C70.7 771.2 69.2 772.7 67.2 772.6C65.3 772.4 64.7 769.9 61.5 769.3C58.3 768.8 49.8 771.1 48.1 769.1C46.5 767.2 50.1 760.5 51.5 757.4Z"/>
<path d="M209.4 746.1C206.4 746.2 204.9 746.3 201.3 746.9C197.8 747.5 190.1 751.4 187.9 749.6C185.6 747.8 187.9 740.1 188.0 736.1C188.0 732.2 186.8 728.4 188.3 725.8C189.9 723.2 194.5 723.1 197.4 720.7C200.2 718.3 202.7 711.4 205.5 711.4C208.2 711.4 211.9 718.0 214.0 720.7C216.0 723.5 216.2 725.5 217.7 728.1C219.3 730.7 223.3 733.2 223.5 736.1C223.8 739.1 221.8 744.3 219.5 746.0C217.1 747.6 212.4 745.9 209.4 746.1Z"/>
<path d="M190.9 750.9C192.7 749.4 193.6 748.9 195.9 747.0C198.1 745.2 201.9 739.5 204.1 739.8C206.4 740.0 207.4 746.3 209.2 748.7C211.1 751.1 214.4 751.7 215.2 754.1C216.0 756.5 215.1 760.9 213.9 762.9C212.7 765.0 210.1 765.0 208.0 766.6C205.8 768.2 204.0 771.1 201.1 772.7C198.2 774.3 192.7 777.5 190.4 776.0C188.1 774.5 188.2 766.9 187.2 763.6C186.3 760.3 184.3 758.3 184.9 756.2C185.5 754.0 189.1 752.4 190.9 750.9Z"/>
<path d="M51.9 567.0C53.8 567.5 55.3 571.5 57.1 572.4C58.9 573.3 61.5 571.5 62.6 572.5C63.7 573.5 63.7 576.4 63.7 578.3C63.8 580.3 63.8 582.5 63.0 584.0C62.2 585.4 60.6 586.5 59.0 587.1C57.5 587.7 55.3 587.5 53.6 587.5C51.9 587.5 49.9 587.9 48.7 587.0C47.4 586.1 46.4 583.7 45.9 582.0C45.5 580.4 45.9 579.1 45.8 577.0C45.8 575.0 44.5 571.3 45.5 569.7C46.5 568.0 49.9 566.6 51.9 567.0Z"/>
</g>
<g filter="url(#soft2)" fill="#4d4754" stroke="#bdaeb3" stroke-width="1.4" stroke-linejoin="round" opacity="1.0"><path d="M226 536C226 536 219 532 217 531C215 531 215 530 213 531C211 531 202 536 202 535C202 535 210 530 211 528C213 527 213 528 212 527C210 526 200 523 200 522C200 522 208 523 210 523C212 523 213 523 214 521C215 519 218 511 218 511C219 511 219 520 219 523C219 525 219 526 220 528C221 530 227 535 226 536Z"/><path d="M98 674C97 674 94 669 93 666C92 664 92 660 92 658C92 655 94 650 95 650C96 650 99 655 100 657C101 659 101 662 101 664C100 667 99 674 98 674Z"/><path d="M38 523C38 522 46 519 49 518C51 518 56 519 58 520C61 521 66 526 66 527C66 528 58 528 56 527C53 527 52 527 50 526C47 526 39 524 38 523Z"/><path d="M114 631C115 631 119 636 121 638C122 640 123 643 124 645C125 647 126 652 125 653C125 653 122 650 121 649C119 649 118 649 117 649C116 649 114 653 114 652C113 652 113 649 113 647C113 645 114 643 114 641C114 639 113 631 114 631Z"/><path d="M106 695C106 694 116 697 119 698C121 698 121 699 120 697C119 695 114 684 114 684C115 683 120 693 122 695C124 697 123 697 125 696C127 696 136 693 137 693C137 694 130 698 128 700C127 701 126 702 126 704C125 706 127 713 126 714C125 714 122 707 121 706C119 704 119 703 117 701C115 700 105 695 106 695Z"/><path d="M145 684C144 685 139 682 137 682C136 682 134 682 133 682C132 683 129 685 129 685C128 684 129 680 129 679C129 677 130 676 130 674C130 671 127 662 128 662C128 661 134 668 135 670C137 672 138 674 140 676C141 678 145 684 145 684Z"/><path d="M160 600C160 600 157 604 156 606C155 607 154 608 153 610C152 613 152 622 151 622C151 622 149 613 148 611C147 608 147 608 146 607C145 605 142 603 142 602C143 601 146 602 148 602C149 602 151 602 152 602C154 602 159 599 160 600Z"/><path d="M189 693C189 692 200 690 203 690C206 690 208 690 210 691C213 692 220 696 220 697C219 698 212 699 209 699C207 699 205 698 202 697C200 696 189 694 189 693Z"/><path d="M73 669C73 670 68 668 67 668C66 667 65 667 65 668C64 670 62 677 62 677C61 677 61 670 60 668C60 666 60 664 60 662C59 660 58 656 58 655C59 655 61 657 62 658C64 658 64 660 66 659C69 657 78 648 78 649C79 649 70 659 69 662C67 664 68 664 69 665C69 666 74 669 73 669Z"/><path d="M261 569C260 569 260 559 260 556C259 554 259 552 259 549C259 546 256 535 257 535C258 535 265 545 267 547C268 550 268 552 267 555C267 558 263 569 261 569Z"/><path d="M181 747C182 747 183 752 183 754C184 756 183 758 184 761C185 764 192 775 191 776C190 776 182 767 180 765C178 763 178 763 175 764C173 764 163 769 163 769C162 768 170 761 172 759C174 756 175 755 176 753C178 752 180 747 181 747Z"/><path d="M137 499C138 499 138 509 138 512C138 515 137 515 137 518C137 521 136 534 135 534C134 534 130 523 129 519C129 516 129 513 131 511C132 508 136 499 137 499Z"/><path d="M66 652C65 652 63 645 61 643C60 641 60 639 59 637C57 635 48 627 49 626C49 626 60 632 62 633C65 635 64 635 66 634C68 634 78 629 79 630C80 630 72 635 71 637C69 639 68 640 67 642C67 644 67 652 66 652Z"/><path d="M95 741C94 741 87 732 85 730C84 728 84 728 82 728C81 728 75 729 74 729C74 728 77 726 78 724C79 723 81 721 82 720C83 719 84 716 85 716C86 716 88 719 88 721C89 723 89 725 90 727C91 730 95 740 95 741Z"/><path d="M209 654C209 654 202 644 201 643C199 641 200 641 198 642C196 642 185 648 185 648C184 647 194 640 196 638C198 636 198 637 200 634C203 632 214 623 214 623C215 624 206 634 204 637C203 639 203 638 204 641C204 643 210 653 209 654Z"/><path d="M174 732C174 732 172 725 172 724C171 722 171 721 169 720C167 719 158 716 158 715C158 714 167 713 170 713C173 713 176 714 178 714C181 715 188 717 188 718C188 719 182 720 180 721C179 722 177 723 176 724C176 726 175 732 174 732Z"/><path d="M35 620C35 619 39 622 41 623C43 624 44 626 46 627C47 629 51 632 51 632C50 633 44 633 42 633C40 632 38 631 37 629C36 627 34 621 35 620Z"/><path d="M253 766C252 767 247 759 246 756C245 754 246 751 247 748C248 745 253 734 255 734C256 734 255 745 255 748C255 751 255 753 255 756C254 758 255 766 253 766Z"/><path d="M163 694C163 693 170 694 172 694C175 694 176 695 178 693C180 691 187 682 188 682C189 683 184 693 183 696C182 698 182 699 183 701C184 704 191 713 190 714C189 714 180 705 177 704C175 702 175 702 173 700C171 699 163 694 163 694Z"/><path d="M132 699C131 700 127 699 125 699C123 698 122 697 119 697C117 697 107 699 107 698C107 697 116 693 119 692C121 691 120 692 122 689C124 687 128 675 129 674C130 674 128 685 128 688C128 691 128 692 129 694C130 696 132 699 132 699Z"/><path d="M178 792C177 792 171 787 169 786C168 784 167 783 166 780C165 778 163 771 164 770C164 770 170 774 172 775C173 777 175 780 176 782C176 785 179 791 178 792Z"/><path d="M27 613C27 613 36 603 37 601C39 600 38 600 37 600C36 600 29 601 28 600C28 599 33 597 35 596C37 595 39 594 41 593C43 592 47 590 48 590C49 591 46 594 46 595C45 596 44 597 46 598C48 598 60 598 60 599C60 600 49 602 46 602C43 603 42 603 40 605C37 606 28 614 27 613Z"/><path d="M189 608C189 609 178 603 175 603C173 602 173 601 170 603C168 604 159 611 159 610C158 610 167 601 168 599C170 597 170 598 169 596C168 593 161 582 161 582C162 581 170 591 173 593C175 596 173 595 176 597C178 599 190 607 189 608Z"/><path d="M169 758C169 757 182 759 186 760C189 760 189 760 191 761C193 761 199 762 199 763C200 764 196 766 194 767C193 768 190 769 188 770C185 771 178 777 178 777C177 776 183 769 184 767C184 765 185 765 183 764C181 762 168 758 169 758Z"/><path d="M125 726C125 727 117 730 115 732C113 733 112 733 110 734C108 735 101 741 100 740C100 740 103 733 104 731C106 729 107 727 108 725C109 722 113 713 113 713C114 713 113 722 113 724C113 726 113 727 115 727C117 727 125 725 125 726Z"/><path d="M75 762C76 762 79 775 79 778C79 782 77 784 75 786C74 787 69 789 68 789C67 788 68 785 68 783C69 781 70 780 71 777C72 774 74 761 75 762Z"/><path d="M191 706C190 705 192 699 194 697C196 695 200 694 203 693C207 693 220 692 221 693C221 694 209 700 206 701C203 703 202 703 200 704C197 705 192 707 191 706Z"/><path d="M152 513C151 513 139 511 137 511C134 510 135 510 132 510C129 511 117 514 117 514C116 513 127 508 130 507C132 506 132 506 132 504C132 502 130 492 130 492C131 491 134 500 136 502C137 504 136 505 139 506C141 508 152 512 152 513Z"/><path d="M295 731C296 730 301 737 302 739C303 741 303 742 304 746C304 749 305 764 304 764C303 764 299 750 298 747C297 744 297 744 296 742C296 739 294 731 295 731Z"/><path d="M251 758C251 757 258 755 260 754C261 752 262 751 262 750C262 749 262 746 262 746C263 746 265 747 266 748C268 749 268 751 271 751C273 752 285 753 285 754C285 754 274 755 272 756C270 757 269 756 269 759C269 761 271 774 270 774C269 774 266 762 265 760C264 758 264 758 262 757C260 757 251 759 251 758Z"/><path d="M287 604C288 604 296 607 298 608C300 608 300 609 302 608C305 607 316 601 316 602C317 602 309 609 307 611C305 613 304 614 303 616C302 618 301 626 300 626C299 626 298 618 298 616C297 614 297 613 295 611C294 610 287 605 287 604Z"/><path d="M103 542C102 542 102 535 102 533C101 531 100 530 100 529C99 528 95 527 95 526C96 525 99 523 101 523C102 522 106 522 108 522C110 522 116 521 116 522C117 523 111 527 109 528C108 529 108 529 107 531C106 533 104 542 103 542Z"/><path d="M120 703C120 703 123 694 123 692C124 690 124 690 122 690C120 689 110 691 110 690C110 690 120 687 123 686C125 685 125 686 125 684C126 682 125 673 126 672C126 672 128 681 129 682C130 684 130 685 132 686C134 687 142 689 142 689C142 690 133 690 131 690C129 690 129 690 127 691C126 693 121 703 120 703Z"/><path d="M306 518C306 519 299 518 297 518C295 518 293 516 289 516C286 515 274 514 274 513C274 512 287 511 290 510C293 509 293 509 294 508C295 507 298 503 298 503C299 503 299 506 299 508C299 509 299 511 300 512C301 514 306 517 306 518Z"/><path d="M202 572C203 572 210 579 212 581C213 583 213 585 213 587C212 589 210 593 209 593C208 594 207 590 206 589C206 587 206 585 205 583C205 580 201 572 202 572Z"/><path d="M150 600C150 601 138 599 135 599C132 599 132 599 129 600C126 601 116 608 115 607C115 607 124 598 126 596C128 594 127 595 126 593C126 592 120 587 120 586C121 586 127 589 130 590C132 590 132 591 135 593C138 594 150 599 150 600Z"/><path d="M158 599C157 599 152 589 151 587C150 584 150 583 152 580C153 577 160 564 161 564C162 564 159 577 158 580C158 584 158 584 158 586C157 589 159 599 158 599Z"/><path d="M134 520C134 519 146 516 148 515C151 514 151 514 150 512C150 510 144 501 145 501C145 501 151 509 153 511C154 512 153 513 155 511C157 510 165 499 165 499C166 500 159 510 158 512C157 514 157 514 159 516C160 518 171 524 171 525C171 526 159 521 156 520C153 519 153 519 150 519C147 519 134 521 134 520Z"/><path d="M104 722C103 722 104 717 104 716C104 714 104 714 103 713C101 713 95 714 95 713C94 713 99 711 100 710C101 709 103 708 104 706C105 704 107 697 108 697C109 697 108 706 108 708C109 709 108 710 110 710C113 711 126 710 126 711C126 712 115 714 113 715C110 716 109 717 108 718C106 719 104 723 104 722Z"/><path d="M57 613C57 612 57 605 57 603C57 601 58 600 60 598C63 596 73 587 74 587C75 588 67 598 66 601C64 604 64 604 62 606C61 608 58 613 57 613Z"/><path d="M253 639C253 639 249 643 248 645C247 646 246 647 246 648C246 650 246 657 246 657C245 657 243 651 242 650C241 649 241 648 239 647C237 647 229 647 229 646C229 645 235 644 237 643C239 642 240 641 241 639C243 637 246 626 246 626C247 626 245 637 246 639C246 641 246 641 247 641C248 641 253 638 253 639Z"/><path d="M270 645C270 644 276 639 278 638C279 636 280 636 282 633C283 631 289 621 289 621C290 621 286 632 286 635C286 637 286 637 287 638C288 639 293 641 293 642C293 643 289 642 288 642C287 643 286 643 285 644C284 645 284 648 283 648C283 648 282 645 281 644C281 644 280 642 279 642C277 642 270 646 270 645Z"/><path d="M58 706C59 706 63 716 63 719C63 722 62 725 61 726C59 728 54 731 53 731C52 730 54 726 55 724C55 722 56 722 56 719C57 716 57 706 58 706Z"/><path d="M67 670C67 670 58 659 55 657C53 655 53 655 52 655C50 654 43 654 42 653C42 653 48 652 49 652C50 651 50 650 50 649C50 648 46 645 46 645C47 644 51 646 53 647C55 648 56 648 58 649C61 649 70 647 70 647C70 648 61 651 59 652C58 653 57 652 58 655C59 657 67 669 67 670Z"/><path d="M213 520C214 520 216 524 217 525C217 527 218 528 219 530C220 532 225 539 224 539C223 540 215 537 213 535C211 534 210 529 210 527C210 525 212 520 213 520Z"/><path d="M167 573C166 572 168 567 169 565C170 563 171 561 172 559C173 557 175 551 176 551C178 552 181 558 181 560C181 563 178 568 176 570C174 572 168 573 167 573Z"/><path d="M157 698C157 699 154 696 152 695C151 695 151 694 150 695C148 696 143 703 143 702C142 702 144 696 144 694C145 691 146 690 147 687C147 684 147 672 147 672C148 672 150 683 151 685C152 687 151 688 153 686C154 685 161 673 162 674C162 674 157 685 157 688C156 691 156 692 156 694C157 695 158 698 157 698Z"/><path d="M243 506C244 506 244 511 244 512C244 514 244 514 245 515C247 517 255 520 255 520C255 521 249 519 247 519C246 520 245 519 244 521C244 523 245 531 245 531C244 531 242 524 241 522C240 520 239 520 238 520C236 520 230 523 230 523C230 522 234 517 235 516C237 514 238 512 239 511C241 509 243 506 243 506Z"/><path d="M240 551C241 551 237 557 236 559C236 561 235 562 235 564C236 566 242 576 241 576C241 576 233 567 231 565C229 564 229 564 227 563C226 563 221 563 221 562C221 562 225 561 226 561C227 561 229 561 227 560C225 558 214 550 214 550C214 550 225 556 228 557C230 558 230 558 232 557C233 556 239 551 240 551Z"/><path d="M126 781C126 782 117 777 114 777C112 776 112 776 110 778C109 779 103 789 102 789C102 789 105 779 105 777C106 774 105 772 105 771C105 769 103 767 103 766C104 766 106 767 107 767C108 767 109 767 110 767C111 766 111 762 112 762C112 762 113 766 114 767C115 769 115 770 116 772C118 774 126 781 126 781Z"/><path d="M301 720C301 721 296 731 294 734C292 736 289 738 285 738C282 738 270 737 270 736C269 734 280 731 283 730C285 729 286 729 289 728C291 726 300 719 301 720Z"/><path d="M243 543C242 543 245 533 246 530C247 527 249 526 251 524C254 522 262 517 263 518C263 519 257 527 256 529C255 531 254 531 252 533C250 535 244 544 243 543Z"/><path d="M194 562C194 561 201 561 203 561C205 561 206 561 208 559C210 558 215 549 216 549C216 550 213 559 213 561C213 563 212 564 213 566C215 569 222 577 222 578C221 579 212 572 209 571C206 569 205 568 203 567C201 566 194 563 194 562Z"/><path d="M192 630C192 630 191 617 191 615C190 612 190 613 189 613C188 612 183 613 183 613C182 612 186 610 187 610C188 609 189 608 190 607C190 605 189 599 190 599C190 598 192 604 193 605C194 606 194 607 196 608C199 608 209 607 209 608C209 608 198 611 196 612C194 612 194 611 194 614C193 617 192 630 192 630Z"/><path d="M285 562C286 562 286 566 286 568C285 570 284 573 284 575C283 578 284 586 283 587C282 587 279 580 278 578C276 576 275 574 274 573C272 572 266 570 266 569C266 568 272 568 274 567C276 567 278 566 280 565C281 564 285 561 285 562Z"/><path d="M288 517C289 517 295 530 296 532C298 534 297 534 299 533C300 532 309 524 310 525C311 525 304 532 303 535C302 537 301 537 301 540C301 543 305 553 304 553C304 554 299 544 297 543C296 541 295 541 294 541C292 542 286 546 286 545C286 545 291 539 292 538C293 536 294 536 293 533C293 530 288 517 288 517Z"/><path d="M181 646C181 647 176 645 175 645C173 645 173 644 170 644C167 645 157 648 156 647C156 646 165 642 167 640C169 638 170 638 171 636C172 635 175 629 176 629C176 629 175 636 176 637C176 639 176 640 177 641C178 643 181 646 181 646Z"/><path d="M124 612C125 612 131 617 133 618C135 619 136 619 137 620C139 620 144 619 144 620C144 621 140 623 138 624C137 625 136 625 134 626C131 627 123 633 123 633C122 633 128 626 129 624C131 622 131 622 130 621C129 619 124 613 124 612Z"/><path d="M83 737C83 738 79 735 77 735C76 734 75 734 73 734C71 735 63 740 63 739C62 739 67 733 68 731C70 729 71 727 72 725C73 724 75 720 75 720C76 720 77 724 78 726C79 728 79 730 80 731C81 733 84 737 83 737Z"/><path d="M293 628C293 627 302 633 304 635C307 636 307 637 310 639C313 640 324 645 324 646C323 647 311 647 307 646C304 646 302 644 300 641C298 639 292 629 293 628Z"/><path d="M93 649C93 650 90 645 89 644C88 643 88 642 85 641C83 641 70 642 70 642C70 641 83 638 86 637C88 636 88 637 87 635C87 633 85 624 85 623C85 623 89 630 90 632C91 633 92 633 93 634C94 634 97 632 98 633C98 633 97 636 96 637C96 639 94 641 94 642C93 644 94 649 93 649Z"/><path d="M207 607C206 607 206 598 206 595C206 593 205 592 205 591C204 590 202 586 202 585C203 585 205 585 207 585C208 585 211 587 213 587C215 588 223 587 223 588C223 588 216 592 214 593C212 594 211 594 210 596C209 598 208 607 207 607Z"/><path d="M69 615C68 615 59 611 56 610C54 609 55 609 52 610C50 610 39 615 38 614C38 614 46 608 48 607C50 605 50 604 50 602C50 600 48 592 48 592C49 592 54 600 55 602C56 604 56 604 58 606C60 608 69 614 69 615Z"/><path d="M77 724C78 724 76 736 76 738C76 741 77 741 78 741C79 741 83 739 83 740C84 741 81 744 80 746C78 747 76 748 75 750C73 753 67 764 66 763C65 763 70 750 71 748C71 745 71 746 70 746C68 746 60 747 60 746C60 746 66 743 67 742C69 741 70 742 72 739C73 737 77 725 77 724Z"/><path d="M274 544C274 544 267 547 265 548C264 549 263 548 263 550C263 552 263 560 263 560C262 561 260 554 259 552C258 551 258 550 256 549C255 549 249 549 248 548C248 548 255 546 256 546C257 545 258 545 258 544C257 542 254 535 254 535C255 534 259 539 261 540C262 542 263 543 265 543C267 544 274 543 274 544Z"/><path d="M253 766C254 765 266 769 269 770C273 770 273 770 276 771C278 771 285 770 286 770C286 771 280 774 279 775C278 776 277 777 277 778C277 780 280 785 279 785C278 785 274 783 272 782C270 780 269 778 266 776C264 774 253 767 253 766Z"/><path d="M175 547C175 548 166 554 165 556C163 558 162 558 162 561C161 563 163 575 163 575C162 575 158 564 157 562C156 560 156 560 154 560C152 560 142 564 142 564C141 563 151 557 153 555C155 554 155 554 156 552C157 550 160 544 160 544C161 544 160 549 160 551C160 552 160 553 162 553C164 552 175 547 175 547Z"/><path d="M44 538C44 537 45 528 45 526C45 523 46 523 44 522C43 520 34 514 34 514C34 513 43 517 45 518C47 518 47 518 48 517C49 516 52 512 52 512C53 512 53 516 53 518C54 519 54 522 54 524C55 525 58 530 57 530C57 530 52 526 51 526C49 525 49 524 48 526C47 528 44 538 44 538Z"/><path d="M120 500C120 500 115 506 114 508C113 510 113 510 113 511C114 512 118 515 118 516C118 516 112 514 111 513C110 513 109 513 108 514C107 514 104 519 104 519C103 518 105 514 105 513C106 511 106 511 105 510C104 508 99 505 99 504C99 504 105 506 106 506C108 507 108 507 110 506C112 505 119 500 120 500Z"/><path d="M221 580C220 580 217 568 216 566C215 564 215 564 213 563C211 562 204 560 204 559C205 558 211 558 213 558C215 558 217 558 218 557C220 557 224 555 224 555C225 556 224 559 223 560C223 562 221 563 221 566C221 569 222 580 221 580Z"/><path d="M278 721C278 722 273 719 272 719C270 718 268 718 267 719C266 719 263 722 262 721C261 721 261 716 262 714C263 712 265 710 267 708C269 705 277 695 278 696C279 696 275 707 274 709C274 712 274 713 275 715C275 717 279 720 278 721Z"/><path d="M287 767C287 767 289 771 289 772C290 772 290 773 292 773C293 773 299 771 299 771C300 772 296 776 295 778C293 779 291 780 288 782C286 784 276 792 275 791C274 791 281 781 283 778C284 775 284 774 285 772C285 771 286 767 287 767Z"/><path d="M215 691C216 692 215 694 215 695C216 696 215 699 216 700C216 701 220 705 220 705C219 706 215 704 214 704C212 704 211 703 209 705C206 706 200 715 199 714C199 714 205 704 206 702C207 700 207 700 205 700C203 699 194 698 194 698C194 697 203 696 205 696C207 695 209 695 210 694C212 693 214 691 215 691Z"/><path d="M196 540C196 539 205 546 207 548C210 549 210 550 211 552C212 554 214 559 213 560C213 560 208 557 207 556C206 555 205 554 204 552C202 549 195 540 196 540Z"/><path d="M307 663C307 663 302 660 301 659C299 658 299 658 297 659C296 659 293 662 292 661C291 661 293 658 293 657C293 656 295 655 294 652C293 650 286 641 287 641C287 640 294 649 296 650C298 651 298 652 298 650C299 648 299 636 299 636C300 636 302 647 302 650C303 653 304 654 304 656C305 658 308 663 307 663Z"/><path d="M242 573C241 573 240 570 240 568C240 566 240 565 239 562C238 559 232 549 233 548C233 547 242 555 245 557C247 560 248 561 250 563C252 564 260 570 259 571C259 572 250 568 248 568C246 567 246 568 245 569C244 569 242 573 242 573Z"/><path d="M36 659C35 658 37 653 38 651C39 649 42 646 44 645C46 644 49 642 50 643C51 643 52 648 51 650C50 652 47 655 44 657C42 658 37 660 36 659Z"/><path d="M242 796C241 796 239 784 240 781C240 777 243 774 245 772C248 770 257 766 258 767C259 768 254 775 253 777C252 780 250 781 249 784C247 786 243 797 242 796Z"/><path d="M251 771C251 770 253 765 255 764C257 763 261 762 265 763C268 764 278 768 278 769C278 770 268 771 265 771C262 772 260 772 258 772C256 772 252 772 251 771Z"/><path d="M133 758C132 757 138 753 140 752C142 751 143 750 146 749C148 748 157 744 157 745C158 746 151 753 149 755C147 757 145 757 143 758C141 758 133 759 133 758Z"/><path d="M74 653C74 653 73 664 73 666C74 669 73 669 76 669C78 670 89 669 88 669C88 670 77 672 75 673C73 674 73 673 73 675C72 677 73 685 73 686C72 686 70 679 69 678C69 676 68 675 66 675C64 675 56 677 56 677C56 676 64 672 66 671C68 670 68 671 69 668C70 665 73 653 74 653Z"/><path d="M98 577C98 577 94 586 93 588C92 590 92 590 93 592C94 593 98 597 98 598C97 599 93 597 91 597C90 597 87 596 86 596C84 596 79 598 79 598C78 597 81 594 82 592C83 591 84 590 83 588C81 586 72 577 73 577C73 577 84 585 86 587C89 588 88 588 89 587C91 585 97 577 98 577Z"/><path d="M68 598C67 598 70 593 71 591C72 589 74 588 75 586C76 585 78 582 79 582C80 582 79 585 80 587C80 588 79 589 81 590C83 591 95 594 95 595C95 596 84 595 81 595C78 595 77 595 75 596C73 596 68 599 68 598Z"/><path d="M90 671C91 672 83 676 80 677C78 678 77 678 74 679C71 681 60 687 60 686C59 685 67 678 69 675C71 673 71 673 71 670C71 668 69 659 70 658C71 658 74 666 76 668C77 670 78 670 80 671C82 671 90 670 90 671Z"/><path d="M165 585C165 586 160 584 158 583C156 583 155 583 153 583C151 584 144 588 144 588C143 588 148 582 149 581C150 579 151 578 150 577C150 575 145 569 146 569C146 568 151 573 153 573C154 574 155 575 157 574C159 573 168 564 169 564C169 565 160 575 159 577C158 579 158 579 159 580C160 581 166 585 165 585Z"/><path d="M176 797C175 797 169 784 168 781C167 778 167 776 168 774C169 772 173 764 174 764C175 764 176 771 176 773C176 775 176 777 176 781C176 784 177 797 176 797Z"/><path d="M23 726C23 725 33 724 36 723C39 723 39 723 42 722C45 722 56 718 56 719C57 719 46 725 44 726C43 728 42 726 43 729C45 731 54 742 53 743C53 743 43 734 41 732C38 730 39 730 36 729C34 728 23 727 23 726Z"/><path d="M32 612C33 612 37 617 39 618C40 619 40 620 43 620C46 620 59 619 60 620C60 620 49 623 46 625C44 626 43 626 42 628C42 631 43 644 42 644C41 644 37 632 36 629C35 626 34 623 33 621C33 619 32 613 32 612Z"/><path d="M34 731C34 730 47 727 50 726C54 725 54 725 56 724C59 723 69 720 70 721C70 722 63 729 61 731C58 733 55 733 52 733C48 733 34 732 34 731Z"/><path d="M177 548C176 548 181 544 182 543C183 541 183 541 183 539C183 538 180 533 180 533C181 532 185 537 187 538C188 539 187 539 190 540C193 540 205 541 205 542C205 543 194 544 191 545C188 545 187 545 185 546C183 546 177 549 177 548Z"/><path d="M163 670C163 671 159 679 158 681C158 683 157 683 158 685C160 687 169 697 169 697C169 698 159 690 156 689C154 687 154 688 152 688C150 689 145 693 144 693C144 692 148 688 149 686C149 685 150 684 149 683C147 681 139 676 139 675C139 675 149 679 151 680C153 681 153 681 155 679C156 678 162 670 163 670Z"/><path d="M196 724C197 724 199 736 200 739C200 742 200 745 200 747C200 749 199 754 197 755C196 755 192 751 191 749C190 747 190 743 191 740C192 736 194 724 196 724Z"/><path d="M273 570C273 570 269 568 267 567C266 566 266 565 263 564C260 563 248 560 248 560C248 559 260 560 262 559C265 559 265 559 265 557C266 555 266 546 266 546C267 546 268 555 268 556C269 558 268 559 270 558C272 557 283 550 283 550C284 551 275 558 273 560C271 562 272 563 272 564C272 566 274 570 273 570Z"/><path d="M225 553C225 553 232 550 234 549C235 548 236 549 238 547C240 544 247 533 248 533C249 534 243 546 242 549C241 552 241 551 241 554C242 556 245 566 245 567C244 567 239 559 238 557C236 556 236 555 234 554C232 554 225 554 225 553Z"/><path d="M283 598C283 597 287 594 289 594C291 593 295 595 298 596C300 598 308 605 307 606C307 607 297 604 295 603C292 602 291 602 289 601C287 601 283 599 283 598Z"/><path d="M180 730C179 730 178 726 177 724C177 722 177 720 178 717C178 715 179 707 180 707C181 707 184 714 185 717C185 719 185 722 184 724C183 726 181 730 180 730Z"/><path d="M168 556C167 556 166 546 166 543C166 540 168 536 170 534C171 533 175 531 176 531C177 532 178 536 177 538C177 539 175 542 174 545C173 547 169 556 168 556Z"/><path d="M123 500C124 500 124 505 124 507C123 509 121 512 119 514C117 515 109 521 108 520C108 520 112 512 114 509C115 507 116 506 117 504C119 503 122 499 123 500Z"/><path d="M272 521C273 521 278 524 279 526C280 527 281 530 281 532C281 534 281 539 280 539C279 540 276 537 275 536C274 534 272 530 272 528C272 526 271 522 272 521Z"/><path d="M264 709C265 709 264 718 265 720C265 721 264 722 266 721C268 721 279 714 280 714C280 715 270 722 268 724C266 726 266 726 267 727C268 729 273 736 273 736C272 737 267 732 265 731C263 730 262 729 260 730C258 731 249 738 249 737C249 737 256 728 257 726C259 723 259 723 260 721C261 718 264 709 264 709Z"/><path d="M235 670C235 670 229 672 228 673C226 673 226 674 226 675C225 676 226 680 225 681C225 681 223 676 223 676C222 675 223 674 221 674C219 675 209 680 208 680C208 680 217 673 219 672C221 670 221 671 221 668C222 665 223 651 224 651C224 651 224 665 225 668C225 670 225 669 227 670C228 670 235 669 235 670Z"/><path d="M229 565C228 564 231 559 232 558C233 556 237 554 239 553C241 552 247 550 248 551C249 552 245 558 244 560C242 562 239 563 237 564C235 565 230 566 229 565Z"/><path d="M305 514C305 515 294 522 291 524C289 525 287 525 285 524C283 523 276 520 275 519C275 518 281 517 284 517C286 517 288 517 291 517C294 516 305 513 305 514Z"/><path d="M49 589C49 589 52 602 53 604C54 607 53 607 55 606C57 605 68 600 69 600C69 601 60 608 58 609C55 611 55 611 53 614C52 616 47 626 46 626C46 626 49 616 50 614C50 611 50 612 49 612C47 612 42 615 42 615C41 615 45 611 46 609C47 608 48 607 49 604C49 601 48 589 49 589Z"/><path d="M218 503C219 502 231 505 234 506C238 507 238 508 240 510C243 512 251 520 250 520C250 521 240 518 237 517C235 516 234 515 231 513C228 511 218 504 218 503Z"/><path d="M38 592C37 592 36 586 35 584C34 582 35 582 32 581C30 580 17 577 17 576C17 575 28 576 31 575C34 575 36 574 38 574C39 573 43 571 43 572C44 573 43 576 43 578C42 580 41 583 40 585C40 587 39 592 38 592Z"/><path d="M150 718C150 718 146 723 146 724C145 726 144 726 144 728C144 731 147 742 147 742C146 743 142 734 140 732C139 730 138 729 136 729C135 728 127 729 127 729C127 728 135 726 137 725C138 724 139 725 138 723C138 720 132 709 133 709C133 708 139 717 140 719C142 721 143 721 144 720C145 720 150 717 150 718Z"/><path d="M262 656C262 656 273 652 275 650C278 649 278 649 279 647C280 645 284 636 284 636C285 636 283 646 283 648C283 650 283 650 284 652C286 655 295 662 294 663C294 664 285 659 282 658C279 657 279 656 276 656C273 656 262 657 262 656Z"/><path d="M273 595C274 595 276 604 277 606C278 609 278 609 278 611C279 612 281 616 281 617C281 618 278 617 276 617C275 616 274 615 271 615C268 615 257 619 257 618C257 618 267 612 269 610C271 608 271 608 272 606C273 604 272 595 273 595Z"/><path d="M162 762C162 763 158 766 157 767C156 768 156 769 157 769C158 770 163 771 163 771C163 772 159 772 158 772C157 773 156 772 155 774C154 776 154 789 154 789C153 789 152 777 151 774C150 772 151 772 149 771C146 770 133 767 133 767C133 766 145 765 148 765C151 764 153 764 155 764C157 763 162 762 162 762Z"/><path d="M66 788C66 787 66 779 66 776C66 774 67 775 65 773C63 771 52 764 52 763C53 762 64 767 67 768C70 769 71 770 73 771C75 772 80 776 80 777C80 777 75 776 74 777C72 777 71 777 70 778C69 780 67 788 66 788Z"/><path d="M54 643C55 643 57 654 57 657C57 661 56 663 53 665C50 668 37 675 37 674C36 674 46 663 48 661C50 658 49 659 50 657C51 654 53 643 54 643Z"/><path d="M186 721C186 720 192 716 194 715C196 713 198 713 201 713C204 713 212 712 213 713C213 714 207 719 205 720C202 721 199 722 196 722C194 722 186 722 186 721Z"/><path d="M90 737C90 738 85 741 83 741C81 742 78 742 76 741C74 741 69 739 69 738C69 737 72 734 74 733C76 732 81 733 83 733C85 734 90 736 90 737Z"/><path d="M139 741C138 742 134 740 132 740C130 740 130 739 127 739C124 740 112 745 112 744C112 744 122 736 124 734C127 732 127 732 129 730C130 729 133 725 134 725C135 726 133 730 133 732C133 733 133 734 134 736C135 737 139 741 139 741Z"/><path d="M97 735C97 734 111 729 114 728C117 727 116 728 118 726C121 725 132 717 133 717C133 717 125 726 123 728C122 730 122 730 123 731C123 733 127 736 127 736C127 737 121 735 120 735C118 734 117 733 114 733C111 733 97 736 97 735Z"/><path d="M149 766C150 767 142 779 140 781C139 784 139 784 136 785C133 787 123 793 122 793C122 792 129 784 131 781C133 779 134 779 136 777C139 775 148 766 149 766Z"/><path d="M35 749C35 749 34 745 34 744C33 742 33 741 31 741C29 740 21 742 21 741C21 741 30 738 32 736C34 735 34 735 35 734C36 732 37 727 38 727C38 726 39 731 39 733C39 734 39 735 41 736C43 737 55 737 55 738C55 738 45 740 42 740C40 741 39 742 38 743C37 745 36 749 35 749Z"/><path d="M221 573C220 574 211 566 209 564C207 563 208 563 205 561C203 559 192 553 192 552C192 551 203 556 206 556C209 557 208 557 210 556C212 554 220 545 221 545C221 545 216 555 215 557C214 560 214 560 215 563C215 565 222 573 221 573Z"/><path d="M166 766C165 766 164 756 164 753C163 750 163 750 162 747C161 744 156 733 157 732C157 732 164 742 166 744C167 745 167 746 168 744C170 743 177 731 178 732C179 732 175 743 174 746C173 749 172 751 171 754C170 757 167 766 166 766Z"/><path d="M278 748C278 748 271 756 270 758C269 761 269 761 268 763C268 764 269 768 269 768C268 769 267 767 266 766C265 766 264 765 263 765C262 766 260 769 259 769C259 769 261 764 261 763C261 762 261 761 260 760C260 759 255 757 255 756C255 756 259 756 261 755C262 755 264 756 266 755C269 754 277 747 278 748Z"/><path d="M296 501C296 501 299 506 300 507C302 509 302 510 304 511C306 512 312 515 312 516C312 516 304 515 303 515C301 515 301 515 300 516C300 517 299 523 299 523C298 524 298 518 297 517C297 515 297 515 295 514C294 514 285 514 285 514C285 513 292 512 294 511C295 510 296 510 296 508C296 507 295 501 296 501Z"/><path d="M286 640C287 641 285 653 284 656C283 659 283 659 280 661C278 663 268 671 267 671C266 670 271 661 273 658C275 655 276 654 278 651C280 649 285 640 286 640Z"/><path d="M181 604C182 604 184 610 184 613C185 615 185 616 184 620C184 623 184 637 183 637C181 638 177 625 176 621C176 618 176 615 177 613C177 610 180 604 181 604Z"/><path d="M63 641C63 641 56 648 55 649C53 651 53 651 53 653C54 655 58 662 57 663C57 663 52 657 51 656C49 655 48 654 47 654C45 653 42 653 42 653C41 652 45 651 46 650C47 649 48 650 47 648C47 645 39 633 40 633C40 632 47 642 49 644C51 646 52 646 53 645C55 645 62 640 63 641Z"/><path d="M292 741C293 742 288 751 286 753C284 755 281 756 278 757C275 758 263 761 263 760C262 759 273 753 276 751C278 749 278 750 280 748C283 747 291 741 292 741Z"/><path d="M93 532C92 532 94 523 95 521C95 518 96 516 97 513C98 511 99 502 101 503C102 503 104 512 105 515C105 518 104 519 103 522C101 524 94 532 93 532Z"/><path d="M86 536C86 536 77 542 75 543C73 545 73 545 73 547C72 549 74 557 73 557C72 558 69 551 67 549C66 547 65 545 64 543C64 541 61 536 61 535C62 535 67 538 68 539C70 539 70 540 73 540C75 539 86 535 86 536Z"/><path d="M140 640C140 641 127 641 124 642C121 643 122 642 120 644C118 646 112 658 112 658C111 658 115 645 116 642C116 639 117 640 116 637C116 634 113 620 114 620C114 619 119 632 120 635C122 637 121 637 124 637C126 638 140 639 140 640Z"/><path d="M107 530C107 531 98 528 95 527C93 526 92 524 92 521C91 519 92 510 93 509C93 509 96 516 97 518C98 520 99 521 100 523C102 524 108 530 107 530Z"/><path d="M290 716C289 715 293 711 295 710C296 709 299 708 301 706C302 705 307 701 308 702C309 703 308 710 307 712C306 714 301 717 299 717C296 718 290 717 290 716Z"/><path d="M313 563C314 563 312 574 312 576C312 578 312 578 314 578C315 577 322 572 322 573C323 573 319 579 317 581C316 583 314 585 313 587C312 589 309 597 309 597C308 597 309 588 309 586C309 585 309 584 308 585C306 586 298 594 297 594C296 594 302 585 304 582C305 580 306 579 308 576C309 573 313 563 313 563Z"/><path d="M156 714C156 714 156 711 156 710C156 708 158 707 158 704C158 700 155 688 156 687C157 687 162 700 163 702C165 705 165 705 167 706C168 707 174 710 174 711C174 711 168 711 166 711C164 711 163 712 161 712C160 713 157 715 156 714Z"/><path d="M91 743C91 742 94 738 95 736C95 734 96 734 96 731C96 728 94 715 95 715C96 715 100 728 101 731C102 734 102 733 103 734C104 735 109 738 109 738C109 739 105 739 103 739C102 739 100 739 98 740C96 740 92 743 91 743Z"/><path d="M195 771C196 771 190 779 189 781C188 783 189 783 189 784C190 785 193 787 193 787C192 788 188 787 187 787C186 787 185 786 184 787C183 789 180 794 179 794C179 794 181 789 181 788C181 786 181 786 180 785C178 784 169 784 169 783C169 783 177 781 179 780C182 780 183 780 185 778C187 777 195 770 195 771Z"/><path d="M163 611C164 612 158 616 157 618C156 619 156 620 155 621C155 623 157 627 156 627C156 628 153 624 152 623C151 622 150 622 149 621C147 621 142 623 142 622C141 622 145 620 146 619C147 618 147 618 147 617C146 616 141 612 141 612C141 612 148 614 149 614C151 614 152 615 154 614C156 614 163 611 163 611Z"/><path d="M209 662C208 662 208 659 208 657C207 656 208 655 206 655C204 655 195 658 194 658C194 658 202 654 204 653C205 651 206 651 205 649C204 647 198 639 199 639C199 639 207 647 209 648C211 650 211 650 213 650C214 650 218 650 219 650C219 651 217 653 216 654C215 655 213 656 212 657C211 659 209 662 209 662Z"/><path d="M67 523C66 523 61 519 60 517C59 515 58 512 58 509C58 506 57 497 59 496C60 496 65 503 66 505C68 508 68 512 69 514C69 517 68 522 67 523Z"/><path d="M93 714C93 715 86 720 83 721C80 722 77 721 74 719C72 718 67 710 68 709C68 708 74 711 77 712C79 712 81 713 83 713C85 714 93 713 93 714Z"/><path d="M86 585C86 585 79 579 77 578C75 577 75 576 72 576C70 577 62 579 62 578C62 578 68 573 71 571C73 570 75 569 76 568C78 568 82 567 83 567C84 568 82 570 82 571C81 572 80 574 81 576C81 578 87 585 86 585Z"/><path d="M211 584C210 585 207 584 205 583C204 581 202 578 201 576C199 574 195 568 196 567C196 566 204 569 207 571C209 572 211 575 211 577C212 579 212 583 211 584Z"/><path d="M214 678C213 677 217 672 218 671C218 669 219 669 218 667C218 666 213 659 213 659C214 658 220 663 221 665C223 666 223 666 226 667C229 668 242 671 242 672C242 673 229 672 226 672C223 672 223 673 221 673C219 674 214 678 214 678Z"/><path d="M157 614C157 615 149 620 146 622C144 623 141 623 139 622C136 621 128 617 128 616C128 615 136 615 139 615C141 615 142 615 145 615C147 615 157 613 157 614Z"/><path d="M168 726C168 725 179 724 181 723C183 723 184 724 184 721C185 718 185 705 185 705C185 705 186 718 187 721C187 723 186 723 189 722C191 721 201 712 202 712C202 712 193 722 191 724C190 726 190 726 190 728C190 730 192 735 192 735C191 736 187 732 186 731C185 729 184 728 182 728C179 727 168 726 168 726Z"/><path d="M266 668C266 667 276 667 279 666C282 666 283 665 285 664C287 664 290 662 291 662C292 663 290 666 290 667C290 669 288 670 289 672C290 675 296 683 295 684C294 684 287 678 284 676C282 674 281 674 279 672C276 671 266 669 266 668Z"/><path d="M42 720C41 720 40 711 39 709C38 707 39 707 37 708C35 708 28 713 28 713C27 712 34 706 35 705C36 703 36 702 37 701C37 699 37 695 37 695C37 694 39 698 40 699C40 700 41 701 42 700C43 699 47 695 48 695C48 696 45 701 44 703C43 704 43 705 42 707C42 709 42 719 42 720Z"/><path d="M293 733C294 734 287 744 285 746C283 749 281 750 278 751C275 752 263 757 262 756C262 755 273 747 275 745C278 743 277 744 280 742C282 740 292 733 293 733Z"/><path d="M159 770C158 771 148 766 145 764C143 762 141 757 142 755C142 753 145 749 146 749C147 749 148 753 148 755C149 756 148 756 150 759C151 761 160 770 159 770Z"/><path d="M136 504C137 503 140 511 141 512C143 514 142 515 145 515C148 515 160 514 161 514C161 515 149 518 147 519C144 521 144 521 143 523C142 525 141 534 140 534C140 534 137 526 136 523C136 520 136 517 136 515C136 512 135 504 136 504Z"/><path d="M273 747C273 746 277 746 279 745C281 745 282 745 284 743C286 742 291 733 292 733C292 734 288 744 287 746C287 749 286 748 288 749C290 750 301 754 301 754C301 755 290 753 288 753C285 753 285 753 282 754C280 755 270 760 270 760C269 759 277 754 278 752C280 751 279 750 278 749C278 749 273 748 273 747Z"/></g>
<g fill="#3c3846" opacity="0.7"><circle cx="214.4" cy="527.2" r="1.0"/><circle cx="97.0" cy="661.0" r="1.4"/><circle cx="52.4" cy="524.0" r="1.1"/><circle cx="119.1" cy="644.3" r="1.7"/><circle cx="123.0" cy="699.4" r="1.8"/><circle cx="134.4" cy="677.0" r="1.2"/><circle cx="150.0" cy="606.5" r="1.8"/><circle cx="206.1" cy="694.2" r="1.2"/><circle cx="63.9" cy="663.2" r="1.1"/><circle cx="264.7" cy="550.9" r="1.7"/><circle cx="179.2" cy="758.2" r="1.4"/><circle cx="133.5" cy="516.0" r="1.1"/><circle cx="64.4" cy="637.8" r="1.4"/><circle cx="84.9" cy="726.0" r="1.5"/><circle cx="200.8" cy="637.5" r="1.2"/><circle cx="174.0" cy="718.7" r="1.4"/><circle cx="41.2" cy="629.0" r="1.4"/><circle cx="249.8" cy="752.0" r="1.4"/><circle cx="176.9" cy="698.8" r="1.3"/><circle cx="122.3" cy="693.9" r="1.3"/><circle cx="169.2" cy="781.4" r="1.4"/><circle cx="41.0" cy="599.7" r="1.3"/><circle cx="172.9" cy="597.5" r="1.3"/><circle cx="187.7" cy="763.7" r="1.5"/><circle cx="110.4" cy="730.5" r="1.8"/><circle cx="74.0" cy="781.2" r="1.8"/><circle cx="200.4" cy="699.9" r="1.2"/><circle cx="133.7" cy="507.5" r="1.1"/><circle cx="300.4" cy="743.7" r="1.0"/><circle cx="265.3" cy="753.3" r="1.5"/><circle cx="300.8" cy="610.5" r="1.6"/><circle cx="105.5" cy="527.0" r="1.5"/><circle cx="128.0" cy="686.9" r="1.8"/><circle cx="293.5" cy="511.5" r="1.5"/><circle cx="209.9" cy="584.1" r="1.1"/><circle cx="131.6" cy="594.8" r="1.3"/><circle cx="153.4" cy="583.8" r="1.6"/><circle cx="153.1" cy="514.8" r="1.2"/><circle cx="106.2" cy="711.0" r="1.2"/><circle cx="61.2" cy="601.2" r="1.2"/><circle cx="242.3" cy="644.1" r="1.6"/><circle cx="283.2" cy="638.8" r="1.7"/><circle cx="59.4" cy="722.7" r="1.1"/><circle cx="54.9" cy="652.6" r="1.0"/><circle cx="213.7" cy="530.0" r="1.6"/><circle cx="175.0" cy="563.2" r="1.2"/><circle cx="150.4" cy="690.7" r="1.7"/><circle cx="241.2" cy="516.4" r="1.1"/><circle cx="230.8" cy="562.0" r="1.3"/><circle cx="110.8" cy="773.0" r="1.6"/><circle cx="287.4" cy="732.4" r="1.3"/><circle cx="251.4" cy="528.1" r="1.1"/><circle cx="207.3" cy="565.4" r="1.2"/><circle cx="192.0" cy="609.4" r="1.0"/><circle cx="279.2" cy="570.5" r="1.6"/><circle cx="296.9" cy="535.4" r="1.0"/><circle cx="173.3" cy="640.6" r="1.5"/><circle cx="134.8" cy="621.7" r="1.0"/><circle cx="75.6" cy="731.4" r="1.2"/><circle cx="305.6" cy="641.0" r="1.5"/><circle cx="89.0" cy="638.3" r="1.4"/><circle cx="208.9" cy="592.5" r="1.7"/><circle cx="54.2" cy="606.1" r="1.8"/><circle cx="72.6" cy="745.3" r="1.2"/><circle cx="260.3" cy="547.3" r="1.0"/><circle cx="272.7" cy="774.5" r="1.6"/><circle cx="157.6" cy="555.7" r="1.0"/><circle cx="47.5" cy="522.3" r="1.7"/><circle cx="109.4" cy="509.4" r="1.5"/><circle cx="217.5" cy="562.1" r="1.0"/><circle cx="268.2" cy="712.6" r="1.5"/><circle cx="288.4" cy="777.1" r="1.3"/><circle cx="209.1" cy="698.1" r="1.1"/><circle cx="208.0" cy="552.3" r="1.2"/><circle cx="298.6" cy="654.1" r="1.1"/><circle cx="244.2" cy="564.3" r="1.6"/><circle cx="43.7" cy="649.7" r="1.2"/><circle cx="246.0" cy="778.2" r="1.1"/><circle cx="260.9" cy="766.7" r="1.3"/><circle cx="145.5" cy="754.0" r="1.8"/><circle cx="70.6" cy="672.4" r="1.2"/><circle cx="88.9" cy="589.9" r="1.1"/><circle cx="76.6" cy="591.0" r="1.4"/><circle cx="75.1" cy="674.5" r="1.2"/><circle cx="155.3" cy="579.5" r="1.3"/><circle cx="170.8" cy="776.5" r="1.4"/><circle cx="39.3" cy="726.2" r="1.3"/><circle cx="39.3" cy="622.3" r="1.7"/><circle cx="55.3" cy="728.2" r="1.2"/><circle cx="186.5" cy="541.3" r="1.4"/><circle cx="153.1" cy="683.2" r="1.5"/><circle cx="195.5" cy="744.3" r="1.5"/><circle cx="266.6" cy="561.0" r="1.5"/><circle cx="237.4" cy="551.6" r="1.5"/><circle cx="293.4" cy="598.3" r="1.4"/><circle cx="180.4" cy="721.5" r="1.7"/><circle cx="172.3" cy="539.7" r="1.0"/><circle cx="117.9" cy="509.0" r="1.6"/><circle cx="278.3" cy="530.3" r="1.3"/><circle cx="263.1" cy="724.8" r="1.1"/><circle cx="224.0" cy="670.8" r="1.0"/><circle cx="238.1" cy="559.3" r="1.7"/><circle cx="287.1" cy="522.3" r="1.4"/><circle cx="51.9" cy="608.4" r="1.5"/><circle cx="236.7" cy="511.9" r="1.2"/><circle cx="36.8" cy="580.0" r="1.6"/><circle cx="140.5" cy="725.4" r="1.7"/><circle cx="279.4" cy="652.5" r="1.4"/><circle cx="274.9" cy="609.5" r="1.6"/><circle cx="152.3" cy="769.5" r="1.3"/><circle cx="68.1" cy="773.7" r="1.8"/><circle cx="51.3" cy="660.7" r="1.8"/><circle cx="199.7" cy="717.8" r="1.4"/><circle cx="79.7" cy="738.1" r="1.4"/><circle cx="128.9" cy="734.1" r="1.5"/><circle cx="117.1" cy="729.4" r="1.2"/><circle cx="137.2" cy="780.7" r="1.6"/><circle cx="36.7" cy="738.2" r="1.1"/><circle cx="209.1" cy="559.3" r="1.7"/><circle cx="166.3" cy="748.4" r="1.2"/><circle cx="264.0" cy="759.5" r="1.4"/><circle cx="299.8" cy="511.6" r="1.1"/><circle cx="279.5" cy="656.9" r="1.7"/><circle cx="181.5" cy="617.3" r="1.7"/><circle cx="51.3" cy="650.6" r="1.6"/><circle cx="278.9" cy="751.4" r="1.0"/><circle cx="100.9" cy="518.0" r="1.1"/><circle cx="70.0" cy="543.1" r="1.7"/><circle cx="119.1" cy="639.0" r="1.7"/><circle cx="95.8" cy="522.0" r="1.2"/><circle cx="299.6" cy="712.4" r="1.7"/><circle cx="310.6" cy="581.2" r="1.4"/><circle cx="162.6" cy="707.2" r="1.3"/><circle cx="99.7" cy="735.5" r="1.6"/><circle cx="185.1" cy="783.0" r="1.2"/><circle cx="152.8" cy="618.3" r="1.8"/><circle cx="209.9" cy="653.1" r="1.3"/><circle cx="63.0" cy="511.1" r="1.1"/><circle cx="79.2" cy="717.8" r="1.5"/><circle cx="75.6" cy="573.9" r="1.4"/><circle cx="206.3" cy="576.8" r="1.8"/><circle cx="222.0" cy="668.3" r="1.4"/><circle cx="142.0" cy="618.3" r="1.0"/><circle cx="185.3" cy="725.6" r="1.2"/><circle cx="283.0" cy="670.3" r="1.1"/><circle cx="40.3" cy="703.5" r="1.3"/><circle cx="279.7" cy="745.6" r="1.8"/><circle cx="145.5" cy="757.5" r="1.2"/><circle cx="140.0" cy="518.4" r="1.5"/><circle cx="283.9" cy="748.7" r="1.8"/></g>
<g fill="#4a4452" opacity="0.55"><circle cx="104.1" cy="657.3" r="0.5"/><circle cx="201.2" cy="679.1" r="0.4"/><circle cx="44.5" cy="735.5" r="0.5"/><circle cx="103.2" cy="777.6" r="0.5"/><circle cx="262.9" cy="639.2" r="0.6"/><circle cx="81.0" cy="681.5" r="0.7"/><circle cx="179.8" cy="709.8" r="0.6"/><circle cx="58.0" cy="714.4" r="0.6"/><circle cx="120.9" cy="520.6" r="0.7"/><circle cx="166.4" cy="703.9" r="0.7"/><circle cx="230.5" cy="757.8" r="0.5"/><circle cx="253.5" cy="630.8" r="0.7"/><circle cx="274.2" cy="538.3" r="0.4"/><circle cx="98.6" cy="769.6" r="0.5"/><circle cx="207.2" cy="592.5" r="0.6"/><circle cx="143.4" cy="605.8" r="0.6"/><circle cx="196.0" cy="753.3" r="0.6"/><circle cx="287.4" cy="740.5" r="0.7"/><circle cx="219.1" cy="555.8" r="0.7"/><circle cx="296.9" cy="753.4" r="0.6"/><circle cx="230.4" cy="568.6" r="0.6"/><circle cx="193.2" cy="588.2" r="0.4"/><circle cx="267.6" cy="776.1" r="0.4"/><circle cx="253.4" cy="621.7" r="0.4"/><circle cx="119.0" cy="717.2" r="0.7"/><circle cx="52.7" cy="676.1" r="0.4"/><circle cx="231.6" cy="600.5" r="0.7"/><circle cx="301.2" cy="647.0" r="0.7"/><circle cx="123.2" cy="532.8" r="0.6"/><circle cx="49.3" cy="564.9" r="0.5"/><circle cx="203.0" cy="553.9" r="0.4"/><circle cx="271.2" cy="595.9" r="0.7"/><circle cx="278.9" cy="613.0" r="0.5"/><circle cx="179.0" cy="683.9" r="0.6"/><circle cx="189.4" cy="677.6" r="0.7"/><circle cx="175.5" cy="627.2" r="0.6"/><circle cx="104.0" cy="592.5" r="0.7"/><circle cx="179.3" cy="658.5" r="0.4"/><circle cx="151.2" cy="666.9" r="0.4"/><circle cx="204.4" cy="680.8" r="0.4"/><circle cx="207.4" cy="636.6" r="0.6"/><circle cx="134.5" cy="700.7" r="0.6"/><circle cx="46.9" cy="528.4" r="0.6"/><circle cx="296.6" cy="579.2" r="0.5"/><circle cx="198.2" cy="597.6" r="0.5"/><circle cx="124.0" cy="610.7" r="0.6"/><circle cx="120.7" cy="612.8" r="0.6"/><circle cx="48.1" cy="664.0" r="0.6"/><circle cx="123.2" cy="571.6" r="0.6"/><circle cx="104.3" cy="562.2" r="0.5"/><circle cx="226.2" cy="539.4" r="0.5"/><circle cx="129.5" cy="734.4" r="0.5"/><circle cx="268.0" cy="557.4" r="0.5"/><circle cx="213.5" cy="748.1" r="0.5"/><circle cx="100.7" cy="544.5" r="0.6"/><circle cx="91.6" cy="727.3" r="0.7"/><circle cx="89.7" cy="586.5" r="0.6"/><circle cx="211.3" cy="727.2" r="0.5"/><circle cx="75.4" cy="590.1" r="0.6"/><circle cx="112.9" cy="604.6" r="0.5"/><circle cx="152.4" cy="621.4" r="0.7"/><circle cx="82.4" cy="513.5" r="0.7"/><circle cx="274.5" cy="775.3" r="0.5"/><circle cx="293.1" cy="759.4" r="0.5"/><circle cx="238.8" cy="735.3" r="0.6"/><circle cx="178.7" cy="589.3" r="0.5"/><circle cx="101.3" cy="530.4" r="0.6"/><circle cx="117.1" cy="728.2" r="0.4"/><circle cx="280.7" cy="697.2" r="0.7"/><circle cx="278.9" cy="752.1" r="0.6"/><circle cx="44.5" cy="710.9" r="0.5"/><circle cx="120.6" cy="689.0" r="0.6"/><circle cx="150.8" cy="762.6" r="0.6"/><circle cx="131.6" cy="579.6" r="0.7"/><circle cx="167.6" cy="720.8" r="0.5"/><circle cx="93.4" cy="654.8" r="0.6"/><circle cx="86.4" cy="723.3" r="0.7"/><circle cx="254.8" cy="731.8" r="0.4"/><circle cx="207.8" cy="742.2" r="0.4"/><circle cx="113.0" cy="583.9" r="0.6"/><circle cx="153.2" cy="638.3" r="0.6"/><circle cx="41.5" cy="526.9" r="0.4"/><circle cx="74.1" cy="530.5" r="0.7"/><circle cx="267.7" cy="535.3" r="0.6"/><circle cx="124.8" cy="596.1" r="0.5"/><circle cx="212.6" cy="668.6" r="0.5"/><circle cx="91.7" cy="599.9" r="0.4"/><circle cx="188.4" cy="703.1" r="0.5"/><circle cx="62.2" cy="559.9" r="0.5"/><circle cx="201.4" cy="720.9" r="0.5"/><circle cx="253.5" cy="678.3" r="0.5"/><circle cx="139.8" cy="644.5" r="0.6"/><circle cx="152.6" cy="697.3" r="0.5"/><circle cx="106.0" cy="655.1" r="0.6"/><circle cx="60.0" cy="625.5" r="0.5"/><circle cx="274.4" cy="761.9" r="0.5"/><circle cx="279.2" cy="723.1" r="0.5"/><circle cx="164.1" cy="545.1" r="0.6"/><circle cx="216.7" cy="748.8" r="0.6"/><circle cx="218.1" cy="707.8" r="0.6"/><circle cx="68.4" cy="668.9" r="0.4"/><circle cx="79.1" cy="718.7" r="0.4"/><circle cx="65.4" cy="538.8" r="0.7"/><circle cx="88.5" cy="518.6" r="0.7"/><circle cx="73.2" cy="737.2" r="0.6"/><circle cx="262.8" cy="766.1" r="0.6"/><circle cx="252.9" cy="522.0" r="0.6"/><circle cx="176.7" cy="702.9" r="0.4"/><circle cx="239.7" cy="761.4" r="0.4"/><circle cx="127.0" cy="662.6" r="0.6"/><circle cx="105.2" cy="560.2" r="0.5"/><circle cx="204.4" cy="713.1" r="0.5"/><circle cx="138.5" cy="618.0" r="0.5"/><circle cx="152.0" cy="534.5" r="0.6"/><circle cx="299.2" cy="622.3" r="0.6"/><circle cx="83.6" cy="696.4" r="0.6"/><circle cx="219.8" cy="650.1" r="0.5"/><circle cx="211.6" cy="751.5" r="0.4"/><circle cx="66.4" cy="711.7" r="0.7"/><circle cx="178.2" cy="630.4" r="0.6"/><circle cx="90.4" cy="583.6" r="0.5"/><circle cx="196.4" cy="596.2" r="0.5"/><circle cx="224.4" cy="766.4" r="0.5"/><circle cx="228.1" cy="622.4" r="0.7"/><circle cx="196.1" cy="583.5" r="0.5"/><circle cx="47.1" cy="640.1" r="0.5"/><circle cx="86.7" cy="608.4" r="0.5"/><circle cx="246.4" cy="550.6" r="0.7"/><circle cx="168.2" cy="671.9" r="0.5"/><circle cx="262.4" cy="731.3" r="0.6"/><circle cx="168.7" cy="704.4" r="0.7"/><circle cx="147.2" cy="707.8" r="0.7"/><circle cx="165.0" cy="573.5" r="0.5"/><circle cx="231.4" cy="692.3" r="0.7"/><circle cx="267.5" cy="576.8" r="0.5"/><circle cx="109.6" cy="562.2" r="0.6"/><circle cx="268.8" cy="752.1" r="0.5"/><circle cx="270.5" cy="595.8" r="0.5"/><circle cx="234.4" cy="535.2" r="0.4"/><circle cx="262.2" cy="590.1" r="0.5"/><circle cx="195.0" cy="692.3" r="0.4"/><circle cx="129.8" cy="628.6" r="0.5"/><circle cx="96.7" cy="668.2" r="0.7"/><circle cx="144.7" cy="657.4" r="0.4"/><circle cx="113.9" cy="689.6" r="0.4"/><circle cx="276.4" cy="754.5" r="0.4"/><circle cx="290.7" cy="612.0" r="0.6"/><circle cx="241.9" cy="591.1" r="0.6"/><circle cx="214.5" cy="727.1" r="0.5"/><circle cx="241.1" cy="768.5" r="0.6"/><circle cx="183.2" cy="542.5" r="0.5"/><circle cx="134.4" cy="703.7" r="0.6"/><circle cx="191.3" cy="560.8" r="0.6"/><circle cx="208.4" cy="560.0" r="0.7"/><circle cx="214.9" cy="545.1" r="0.7"/><circle cx="78.5" cy="600.7" r="0.6"/><circle cx="199.5" cy="660.2" r="0.6"/><circle cx="162.4" cy="595.6" r="0.5"/><circle cx="59.2" cy="703.1" r="0.6"/><circle cx="185.1" cy="709.4" r="0.5"/><circle cx="111.5" cy="614.5" r="0.7"/><circle cx="52.2" cy="646.8" r="0.5"/><circle cx="245.0" cy="606.7" r="0.5"/><circle cx="148.0" cy="656.6" r="0.6"/><circle cx="134.6" cy="738.0" r="0.4"/><circle cx="112.8" cy="538.9" r="0.4"/><circle cx="247.7" cy="706.1" r="0.5"/><circle cx="91.2" cy="623.3" r="0.6"/><circle cx="257.4" cy="711.8" r="0.6"/><circle cx="79.9" cy="618.5" r="0.5"/><circle cx="181.0" cy="663.8" r="0.5"/><circle cx="107.4" cy="720.6" r="0.4"/><circle cx="254.1" cy="749.8" r="0.7"/><circle cx="142.6" cy="659.6" r="0.6"/><circle cx="209.1" cy="772.7" r="0.6"/><circle cx="120.4" cy="741.5" r="0.5"/><circle cx="200.5" cy="706.0" r="0.4"/><circle cx="245.4" cy="688.7" r="0.5"/><circle cx="179.9" cy="635.0" r="0.5"/><circle cx="181.5" cy="522.2" r="0.6"/><circle cx="212.4" cy="630.7" r="0.6"/><circle cx="295.4" cy="750.0" r="0.4"/><circle cx="251.2" cy="678.4" r="0.4"/><circle cx="136.5" cy="574.5" r="0.4"/><circle cx="184.0" cy="760.1" r="0.5"/><circle cx="271.9" cy="697.4" r="0.4"/><circle cx="268.7" cy="672.5" r="0.7"/><circle cx="230.9" cy="709.4" r="0.5"/><circle cx="255.0" cy="760.6" r="0.7"/><circle cx="156.9" cy="714.0" r="0.5"/><circle cx="70.0" cy="523.7" r="0.4"/><circle cx="94.1" cy="555.2" r="0.5"/><circle cx="226.5" cy="655.5" r="0.5"/><circle cx="213.2" cy="593.5" r="0.5"/><circle cx="241.9" cy="619.3" r="0.5"/><circle cx="279.6" cy="704.1" r="0.5"/><circle cx="139.4" cy="653.4" r="0.6"/><circle cx="100.4" cy="513.0" r="0.5"/><circle cx="248.8" cy="550.5" r="0.5"/><circle cx="92.8" cy="568.1" r="0.5"/><circle cx="148.1" cy="557.1" r="0.4"/><circle cx="70.2" cy="557.1" r="0.5"/><circle cx="56.8" cy="518.3" r="0.5"/><circle cx="149.2" cy="699.8" r="0.4"/><circle cx="148.0" cy="618.0" r="0.4"/><circle cx="297.2" cy="570.6" r="0.4"/><circle cx="166.9" cy="556.2" r="0.6"/><circle cx="132.9" cy="545.3" r="0.4"/><circle cx="234.1" cy="585.6" r="0.6"/><circle cx="164.5" cy="760.9" r="0.5"/><circle cx="107.3" cy="583.1" r="0.6"/><circle cx="207.9" cy="604.2" r="0.4"/><circle cx="222.0" cy="770.6" r="0.6"/><circle cx="42.0" cy="520.4" r="0.4"/><circle cx="86.2" cy="522.1" r="0.4"/><circle cx="214.6" cy="752.2" r="0.5"/><circle cx="299.4" cy="639.4" r="0.6"/><circle cx="284.4" cy="762.8" r="0.4"/><circle cx="121.8" cy="674.0" r="0.7"/><circle cx="64.3" cy="590.5" r="0.7"/><circle cx="71.4" cy="616.2" r="0.5"/><circle cx="221.4" cy="759.8" r="0.5"/><circle cx="237.3" cy="707.9" r="0.7"/><circle cx="187.8" cy="758.4" r="0.5"/><circle cx="151.0" cy="573.4" r="0.6"/><circle cx="168.5" cy="584.1" r="0.5"/><circle cx="232.2" cy="673.7" r="0.6"/><circle cx="143.6" cy="642.1" r="0.4"/><circle cx="229.5" cy="518.4" r="0.5"/><circle cx="242.2" cy="692.8" r="0.4"/><circle cx="103.9" cy="737.1" r="0.6"/><circle cx="274.1" cy="744.8" r="0.5"/><circle cx="278.9" cy="707.6" r="0.5"/><circle cx="139.2" cy="531.5" r="0.5"/><circle cx="294.5" cy="540.3" r="0.6"/><circle cx="70.2" cy="533.9" r="0.6"/><circle cx="104.9" cy="525.3" r="0.4"/><circle cx="212.0" cy="668.4" r="0.4"/><circle cx="102.0" cy="770.1" r="0.5"/><circle cx="190.2" cy="624.1" r="0.6"/><circle cx="201.3" cy="722.5" r="0.6"/><circle cx="90.9" cy="559.6" r="0.4"/><circle cx="260.0" cy="542.3" r="0.4"/><circle cx="297.4" cy="565.4" r="0.7"/><circle cx="63.8" cy="636.3" r="0.5"/><circle cx="261.1" cy="676.3" r="0.6"/><circle cx="243.0" cy="744.6" r="0.5"/><circle cx="201.0" cy="631.1" r="0.4"/><circle cx="262.6" cy="670.7" r="0.6"/><circle cx="95.6" cy="656.0" r="0.5"/><circle cx="234.1" cy="532.9" r="0.5"/><circle cx="169.5" cy="531.4" r="0.6"/><circle cx="236.1" cy="625.0" r="0.6"/><circle cx="201.7" cy="569.4" r="0.5"/><circle cx="305.2" cy="601.6" r="0.5"/><circle cx="63.3" cy="570.4" r="0.4"/><circle cx="288.0" cy="705.9" r="0.7"/><circle cx="302.7" cy="675.4" r="0.7"/><circle cx="183.1" cy="623.9" r="0.7"/><circle cx="280.6" cy="765.4" r="0.5"/></g>
<g filter="url(#cellgrain)"><circle cx="68.9" cy="625.6" r="4.8" fill="url(#rc)"/><circle cx="46.3" cy="714.8" r="5.8" fill="url(#rc)"/><circle cx="66.2" cy="657.5" r="3.2" fill="url(#rc)"/><circle cx="232.0" cy="614.9" r="3.2" fill="url(#rc)"/></g>
</g></g>
<g clip-path="url(#pc1)"><g filter="url(#lens)">
<rect x="336.6" y="512.3" width="265.8" height="266.5" fill="#6f636c"/>
<rect x="276.6" y="452.29999999999995" width="385.8" height="386.5" filter="url(#tx1)" transform="rotate(25 469.5 645.55)"/>
<g filter="url(#soft)" fill="#6f636c" stroke="#bfb0b6" stroke-width="1.8" stroke-linejoin="round">
<path d="M472.7 585.9C478.0 585.6 483.2 588.0 488.8 591.7C494.4 595.3 504.8 602.1 506.4 607.6C508.0 613.2 500.2 618.4 498.3 625.0C496.5 631.6 499.2 643.2 495.4 647.3C491.5 651.5 481.4 650.2 475.3 649.8C469.3 649.3 464.4 646.5 459.1 644.6C453.8 642.7 446.2 642.2 443.6 638.2C441.0 634.1 443.5 626.0 443.7 620.2C443.8 614.5 442.2 608.2 444.4 603.7C446.6 599.3 452.3 596.4 457.0 593.4C461.7 590.4 467.4 586.2 472.7 585.9Z"/>
<path d="M480.1 638.0C482.6 640.9 481.2 646.7 481.4 650.7C481.7 654.8 482.1 658.2 481.6 662.2C481.1 666.3 481.2 670.6 478.5 675.1C475.7 679.6 469.5 689.8 465.1 689.5C460.7 689.2 458.6 675.7 452.3 673.3C445.9 670.9 429.1 677.9 426.9 674.9C424.8 672.0 436.8 660.9 439.2 655.5C441.6 650.2 439.4 646.1 441.6 642.7C443.7 639.2 448.0 636.5 452.1 634.8C456.1 633.2 461.3 632.3 466.0 632.8C470.7 633.3 477.5 635.0 480.1 638.0Z"/>
<path d="M464.5 591.8C462.4 591.0 462.6 587.6 461.6 585.1C460.6 582.5 458.2 578.9 458.7 576.5C459.1 574.1 462.4 573.2 464.4 570.4C466.3 567.6 467.9 560.2 470.2 559.9C472.5 559.5 475.4 566.6 478.2 568.4C480.9 570.1 485.0 568.8 486.5 570.3C488.0 571.9 487.5 575.6 487.0 577.7C486.5 579.8 484.4 580.9 483.5 582.9C482.6 584.9 482.9 588.3 481.4 589.5C479.9 590.6 477.3 589.6 474.5 590.0C471.7 590.4 466.7 592.6 464.5 591.8Z"/>
<path d="M336.4 595.1C337.6 591.9 337.5 585.3 339.7 583.5C341.9 581.8 346.2 584.7 349.6 584.7C352.9 584.7 356.9 582.1 359.7 583.6C362.5 585.1 365.0 590.3 366.3 593.5C367.6 596.7 367.1 599.1 367.3 602.5C367.6 605.9 369.8 611.4 367.8 613.9C365.8 616.3 359.2 616.8 355.4 617.4C351.6 618.0 348.1 618.6 344.9 617.6C341.8 616.6 338.5 613.7 336.4 611.3C334.2 608.8 332.3 605.7 332.3 603.0C332.3 600.3 335.1 598.4 336.4 595.1Z"/>
<path d="M373.5 573.6C373.8 576.2 372.3 578.7 371.8 581.2C371.3 583.7 372.0 587.4 370.5 588.6C369.1 589.9 365.1 588.7 362.9 588.6C360.7 588.6 359.0 588.6 357.2 588.1C355.4 587.7 353.4 587.2 352.0 585.8C350.5 584.4 348.3 581.9 348.4 579.9C348.4 578.0 351.2 576.1 352.2 574.1C353.1 572.1 352.7 569.5 354.3 568.1C355.8 566.7 358.6 566.1 361.2 565.6C363.9 565.2 368.0 563.9 370.0 565.2C372.1 566.5 373.2 570.9 373.5 573.6Z"/>
<path d="M395.9 697.4C393.7 695.1 393.5 692.9 392.3 689.8C391.1 686.6 387.8 681.6 388.6 678.6C389.4 675.7 394.2 674.2 397.1 672.0C400.0 669.8 402.9 665.3 406.0 665.3C409.1 665.3 413.2 669.9 415.7 671.9C418.3 673.8 419.9 674.7 421.2 677.1C422.6 679.4 422.8 682.5 423.9 685.9C425.0 689.3 429.6 695.5 427.9 697.7C426.3 700.0 417.6 698.4 413.8 699.4C410.0 700.4 408.1 704.1 405.1 703.7C402.2 703.4 398.0 699.7 395.9 697.4Z"/>
<path d="M445.8 703.6C444.1 706.2 440.2 706.2 438.1 707.8C436.1 709.5 435.6 712.6 433.5 713.6C431.4 714.6 428.2 714.1 425.7 713.7C423.2 713.2 420.1 712.5 418.4 710.8C416.6 709.1 416.4 706.3 415.4 703.5C414.3 700.7 411.1 696.3 412.1 694.1C413.2 691.8 418.8 692.1 421.7 690.2C424.6 688.2 426.8 682.4 429.5 682.2C432.1 681.9 434.7 686.8 437.8 688.5C440.9 690.1 446.7 689.7 448.1 692.2C449.4 694.8 447.4 701.0 445.8 703.6Z"/>
<path d="M442.5 744.0C444.2 739.9 450.5 737.2 454.3 734.6C458.1 731.9 461.2 728.3 465.3 728.0C469.5 727.7 474.3 731.3 479.1 732.7C484.0 734.2 492.3 733.5 494.4 736.7C496.4 739.9 491.4 747.0 491.4 751.9C491.4 756.8 496.1 762.5 494.3 766.1C492.4 769.7 485.1 769.7 480.2 773.5C475.3 777.4 468.8 790.1 464.9 789.2C461.0 788.4 460.1 773.6 456.7 768.5C453.3 763.4 446.9 762.8 444.5 758.7C442.1 754.7 440.9 748.0 442.5 744.0Z"/>
<path d="M453.8 782.4C450.7 782.2 448.0 780.8 445.1 779.8C442.3 778.9 437.8 778.8 436.7 776.5C435.6 774.3 437.7 769.1 438.6 766.2C439.4 763.3 439.8 760.4 441.7 759.1C443.6 757.8 447.3 759.8 450.0 758.4C452.8 757.0 456.3 750.2 458.3 750.7C460.2 751.2 459.7 759.0 461.6 761.5C463.4 764.0 468.3 763.7 469.3 765.7C470.3 767.7 468.5 771.1 467.5 773.7C466.6 776.2 465.9 779.7 463.6 781.1C461.3 782.6 456.9 782.6 453.8 782.4Z"/>
<path d="M597.1 701.5C594.2 704.0 591.1 706.2 587.4 706.9C583.7 707.5 577.6 707.8 575.2 705.4C572.7 703.0 573.3 696.1 572.5 692.5C571.6 689.0 570.2 687.1 569.9 684.0C569.5 680.9 568.3 676.1 570.2 673.9C572.0 671.8 577.3 672.0 580.7 671.1C584.1 670.2 586.6 669.1 590.6 668.7C594.6 668.3 602.4 666.5 604.7 668.7C607.0 670.9 604.4 678.0 604.4 681.9C604.3 685.7 605.7 688.7 604.5 691.9C603.3 695.2 599.9 699.0 597.1 701.5Z"/>
<path d="M573.3 523.0C574.6 525.2 569.2 533.5 568.7 537.2C568.3 540.8 571.3 543.1 570.6 545.0C569.9 546.8 566.5 546.3 564.4 548.3C562.2 550.3 560.1 556.5 557.8 556.9C555.4 557.3 552.9 552.3 550.2 550.5C547.5 548.7 542.8 548.2 541.7 546.0C540.6 543.8 542.9 540.1 543.4 537.4C544.0 534.7 543.4 532.0 544.9 530.0C546.4 528.0 549.7 526.2 552.4 525.2C555.1 524.2 557.6 524.3 561.1 524.0C564.6 523.6 572.1 520.8 573.3 523.0Z"/>
<path d="M545.7 596.5C545.9 598.3 545.1 600.3 544.7 602.2C544.4 604.0 544.7 605.9 543.7 607.5C542.6 609.2 540.4 611.3 538.4 612.1C536.4 612.9 533.3 613.6 531.7 612.5C530.1 611.5 529.6 607.7 528.7 605.8C527.7 603.8 526.4 602.6 526.0 600.8C525.6 599.0 525.8 597.1 526.3 594.8C526.8 592.6 527.3 587.8 529.0 587.3C530.7 586.8 534.2 591.2 536.7 591.9C539.1 592.5 542.2 590.5 543.7 591.3C545.2 592.1 545.6 594.7 545.7 596.5Z"/>
<path d="M365.4 517.3C367.6 519.6 369.2 522.1 370.0 524.9C370.8 527.6 371.3 531.7 370.2 533.9C369.0 536.1 364.8 536.6 362.8 538.2C360.9 539.9 360.3 543.0 358.4 543.6C356.4 544.3 353.7 542.7 351.2 542.1C348.8 541.4 345.1 541.4 343.6 539.7C342.2 538.1 343.1 535.0 342.4 532.3C341.7 529.5 338.4 525.2 339.4 523.3C340.4 521.3 345.9 522.5 348.7 520.4C351.5 518.4 353.5 511.8 356.3 511.2C359.1 510.7 363.1 515.0 365.4 517.3Z"/>
<path d="M359.2 696.3C360.8 698.2 357.5 704.8 358.2 707.6C358.9 710.5 363.2 711.3 363.5 713.1C363.7 715.0 361.2 717.0 359.7 718.7C358.2 720.4 356.7 722.1 354.6 723.4C352.4 724.6 349.4 726.4 346.8 726.1C344.3 725.9 340.9 723.9 339.4 722.0C337.9 720.0 338.2 716.8 337.8 714.4C337.5 712.1 336.3 709.7 337.2 707.9C338.2 706.0 341.5 705.6 343.4 703.6C345.4 701.6 346.2 697.1 348.9 695.9C351.5 694.6 357.7 694.3 359.2 696.3Z"/>
</g>
<g filter="url(#soft)" fill="#6f636c">
<path d="M472.6 587.2C477.7 586.9 482.6 589.3 488.0 592.8C493.4 596.2 503.4 602.8 504.9 608.1C506.4 613.4 498.9 618.4 497.2 624.7C495.4 631.1 498.0 642.2 494.3 646.2C490.7 650.1 480.9 649.0 475.1 648.6C469.3 648.1 464.6 645.4 459.5 643.6C454.4 641.7 447.1 641.3 444.6 637.4C442.1 633.5 444.6 625.7 444.7 620.2C444.8 614.7 443.2 608.6 445.4 604.3C447.5 600.0 453.0 597.3 457.5 594.4C462.0 591.5 467.5 587.5 472.6 587.2Z"/>
<path d="M479.3 638.7C481.8 641.6 480.4 647.1 480.6 650.9C480.8 654.8 481.2 658.1 480.8 662.0C480.3 665.9 480.4 670.0 477.8 674.3C475.2 678.7 469.1 688.4 464.9 688.1C460.8 687.8 458.8 674.9 452.7 672.6C446.6 670.3 430.4 677.0 428.3 674.2C426.2 671.3 437.8 660.7 440.1 655.6C442.4 650.4 440.3 646.5 442.4 643.2C444.4 639.9 448.5 637.3 452.4 635.7C456.3 634.1 461.4 633.2 465.8 633.7C470.3 634.2 476.9 635.8 479.3 638.7Z"/>
<path d="M464.9 591.3C462.9 590.5 463.1 587.3 462.1 584.8C461.2 582.4 458.9 578.9 459.3 576.6C459.7 574.3 462.9 573.4 464.8 570.7C466.6 568.1 468.2 560.9 470.4 560.6C472.6 560.3 475.4 567.1 478.0 568.8C480.6 570.5 484.6 569.2 486.0 570.7C487.4 572.2 487.0 575.7 486.5 577.7C486.0 579.7 484.1 580.9 483.2 582.8C482.3 584.6 482.6 587.9 481.2 589.0C479.7 590.2 477.2 589.2 474.5 589.6C471.8 589.9 467.0 592.1 464.9 591.3Z"/>
<path d="M336.9 595.3C338.1 592.2 338.0 585.9 340.1 584.2C342.2 582.5 346.4 585.3 349.6 585.3C352.8 585.3 356.6 582.9 359.3 584.3C362.0 585.7 364.4 590.7 365.7 593.8C366.9 596.8 366.4 599.2 366.6 602.4C366.9 605.7 369.0 611.0 367.1 613.3C365.2 615.7 358.9 616.1 355.2 616.7C351.5 617.3 348.2 617.9 345.1 616.9C342.1 615.9 338.9 613.2 336.9 610.8C334.9 608.5 333.0 605.4 333.0 602.9C333.0 600.3 335.7 598.5 336.9 595.3Z"/>
<path d="M373.0 573.8C373.3 576.3 371.8 578.7 371.4 581.1C370.9 583.5 371.6 587.0 370.1 588.2C368.7 589.4 364.9 588.3 362.8 588.3C360.7 588.2 359.1 588.2 357.4 587.8C355.6 587.3 353.7 586.8 352.3 585.5C350.9 584.2 348.8 581.8 348.9 579.9C348.9 578.0 351.5 576.2 352.5 574.3C353.4 572.4 353.0 569.9 354.5 568.5C356.0 567.2 358.7 566.6 361.2 566.2C363.7 565.7 367.7 564.5 369.6 565.8C371.6 567.0 372.7 571.2 373.0 573.8Z"/>
<path d="M396.4 696.9C394.3 694.7 394.1 692.6 393.0 689.6C391.8 686.6 388.7 681.8 389.4 678.9C390.2 676.1 394.8 674.7 397.6 672.6C400.4 670.4 403.1 666.1 406.1 666.1C409.1 666.1 413.0 670.5 415.4 672.4C417.9 674.3 419.4 675.2 420.7 677.4C422.0 679.6 422.2 682.6 423.3 685.9C424.4 689.2 428.8 695.1 427.1 697.2C425.5 699.4 417.3 697.9 413.6 698.9C410.0 699.8 408.2 703.3 405.3 703.0C402.4 702.7 398.4 699.2 396.4 696.9Z"/>
<path d="M445.1 703.5C443.6 706.0 439.8 706.0 437.8 707.6C435.8 709.2 435.3 712.2 433.4 713.1C431.4 714.0 428.3 713.6 425.9 713.2C423.4 712.7 420.5 712.0 418.8 710.4C417.2 708.8 416.9 706.1 415.9 703.4C414.9 700.7 411.8 696.5 412.8 694.4C413.8 692.2 419.2 692.5 422.0 690.6C424.8 688.7 426.9 683.2 429.5 682.9C432.0 682.7 434.5 687.4 437.5 689.0C440.5 690.6 446.1 690.2 447.3 692.6C448.6 695.0 446.7 701.0 445.1 703.5Z"/>
<path d="M443.6 744.3C445.2 740.4 451.3 737.8 454.9 735.3C458.6 732.7 461.5 729.2 465.5 728.9C469.5 728.7 474.1 732.1 478.8 733.5C483.4 734.9 491.4 734.2 493.4 737.3C495.3 740.3 490.6 747.2 490.5 751.9C490.5 756.6 495.1 762.1 493.3 765.5C491.5 769.0 484.5 769.0 479.8 772.7C475.1 776.4 468.8 788.6 465.1 787.8C461.3 787.0 460.5 772.7 457.2 767.9C453.9 763.0 447.8 762.4 445.5 758.5C443.2 754.6 442.0 748.2 443.6 744.3Z"/>
<path d="M453.8 781.9C450.8 781.7 448.2 780.3 445.5 779.4C442.7 778.4 438.4 778.4 437.3 776.2C436.3 774.0 438.4 769.0 439.2 766.2C440.0 763.4 440.3 760.7 442.2 759.5C444.0 758.3 447.5 760.1 450.2 758.8C452.8 757.4 456.2 750.9 458.1 751.4C459.9 751.9 459.5 759.3 461.2 761.7C463.0 764.1 467.7 763.9 468.7 765.8C469.6 767.8 467.9 771.0 467.0 773.4C466.1 775.9 465.4 779.2 463.2 780.6C461.0 782.0 456.7 782.1 453.8 781.9Z"/>
<path d="M596.7 700.8C593.9 703.2 590.9 705.4 587.4 706.0C583.8 706.7 578.0 706.9 575.6 704.6C573.2 702.3 573.9 695.7 573.0 692.2C572.2 688.8 570.9 687.1 570.5 684.1C570.2 681.1 569.1 676.5 570.8 674.4C572.5 672.3 577.7 672.5 580.9 671.7C584.2 670.8 586.6 669.7 590.4 669.3C594.2 668.9 601.8 667.2 604.0 669.3C606.2 671.5 603.7 678.3 603.6 682.0C603.6 685.7 604.9 688.5 603.8 691.7C602.6 694.8 599.4 698.4 596.7 700.8Z"/>
<path d="M572.7 523.6C573.9 525.7 568.7 533.7 568.3 537.2C567.8 540.7 570.8 542.9 570.1 544.7C569.4 546.5 566.1 546.0 564.1 547.9C562.0 549.8 560.0 555.8 557.8 556.2C555.5 556.5 553.1 551.8 550.5 550.0C547.9 548.3 543.4 547.8 542.3 545.7C541.2 543.6 543.5 540.0 544.0 537.5C544.5 534.9 544.0 532.3 545.4 530.4C546.9 528.4 550.0 526.7 552.6 525.7C555.2 524.8 557.6 524.9 560.9 524.6C564.3 524.2 571.5 521.5 572.7 523.6Z"/>
<path d="M545.3 596.7C545.5 598.4 544.7 600.3 544.4 602.1C544.0 603.9 544.4 605.7 543.4 607.2C542.4 608.8 540.2 610.8 538.3 611.6C536.4 612.4 533.4 613.1 531.9 612.1C530.3 611.0 529.9 607.4 529.0 605.6C528.1 603.7 526.8 602.5 526.4 600.8C526.0 599.0 526.2 597.2 526.7 595.1C527.2 592.9 527.6 588.3 529.3 587.8C530.9 587.3 534.3 591.5 536.6 592.2C539.0 592.8 542.0 590.9 543.4 591.7C544.9 592.4 545.2 594.9 545.3 596.7Z"/>
<path d="M365.0 517.9C367.1 520.0 368.6 522.5 369.4 525.1C370.1 527.8 370.7 531.6 369.6 533.8C368.4 535.9 364.4 536.4 362.5 538.0C360.6 539.5 360.1 542.5 358.2 543.1C356.4 543.8 353.7 542.3 351.4 541.6C349.0 541.0 345.5 541.0 344.1 539.4C342.7 537.8 343.6 534.8 342.9 532.2C342.3 529.6 339.0 525.5 340.0 523.6C341.0 521.7 346.3 522.8 349.0 520.9C351.7 518.9 353.6 512.5 356.2 512.0C358.9 511.5 362.8 515.7 365.0 517.9Z"/>
<path d="M358.8 696.9C360.3 698.8 357.2 705.1 357.9 707.8C358.5 710.5 362.7 711.3 362.9 713.1C363.2 714.9 360.7 716.8 359.3 718.4C357.9 720.1 356.4 721.7 354.4 722.9C352.3 724.1 349.4 725.8 346.9 725.6C344.5 725.4 341.2 723.5 339.8 721.6C338.4 719.7 338.7 716.6 338.3 714.4C338.0 712.1 336.9 709.8 337.7 708.0C338.6 706.3 341.8 705.8 343.7 703.9C345.5 702.0 346.4 697.7 348.9 696.5C351.4 695.3 357.3 695.0 358.8 696.9Z"/>
</g>
<g filter="url(#soft2)" fill="#3d3945" stroke="#ab9da4" stroke-width="1.4" stroke-linejoin="round" opacity="1.0"><path d="M471 738C471 738 472 734 472 733C472 732 472 730 472 729C472 727 469 722 469 721C470 720 473 723 475 724C477 725 479 726 480 727C482 728 486 729 486 729C486 730 482 732 481 733C480 734 477 735 476 736C474 737 472 739 471 738Z"/><path d="M449 798C447 799 443 792 441 790C439 788 438 786 437 784C435 782 429 776 430 775C430 774 439 776 442 777C445 779 447 782 448 785C449 788 450 798 449 798Z"/><path d="M343 610C344 610 349 614 350 615C352 616 353 617 355 618C356 619 362 620 362 621C362 621 357 623 356 623C354 624 353 624 351 626C350 628 347 636 346 636C345 636 346 628 345 625C345 622 345 620 345 618C345 616 343 611 343 610Z"/><path d="M325 611C326 610 331 613 332 614C334 615 335 616 337 618C339 620 347 624 347 625C346 626 337 625 334 624C332 623 329 622 328 620C327 618 324 612 325 611Z"/><path d="M364 700C364 699 363 694 363 692C363 690 364 689 364 687C364 684 363 675 364 675C365 675 367 682 368 684C369 686 370 687 372 687C373 688 379 689 379 689C379 690 373 691 372 692C370 693 369 693 368 694C367 695 365 700 364 700Z"/><path d="M366 783C366 784 360 785 357 785C355 786 352 786 350 787C348 787 343 790 342 789C342 789 346 784 347 782C347 780 348 779 348 777C348 776 347 772 347 772C348 772 351 774 352 775C354 776 354 778 356 779C358 780 366 782 366 783Z"/><path d="M563 641C564 641 568 648 568 650C569 653 569 657 569 659C569 662 568 669 567 669C567 670 565 663 564 661C563 660 562 660 561 660C560 660 557 661 557 660C556 660 559 657 559 656C560 655 561 654 562 652C562 650 562 641 563 641Z"/><path d="M412 559C412 559 408 558 407 557C406 557 404 556 402 557C400 557 394 561 394 561C393 560 399 554 400 553C401 551 402 550 403 548C404 547 405 540 406 540C407 540 407 546 408 548C408 550 409 551 409 553C410 554 413 558 412 559Z"/><path d="M510 784C509 785 501 779 498 778C496 777 495 777 493 777C492 777 486 777 486 776C486 776 491 774 492 773C493 772 494 772 493 770C493 768 488 759 488 759C489 759 496 766 498 768C499 770 500 771 501 773C503 776 510 783 510 784Z"/><path d="M349 515C348 514 353 509 355 507C357 506 361 505 363 505C365 505 368 506 368 507C369 508 367 511 365 512C364 513 361 514 358 514C356 515 349 516 349 515Z"/><path d="M549 576C549 576 543 571 541 570C540 570 539 570 538 570C537 571 534 574 533 573C532 573 533 570 533 568C533 566 534 564 535 561C535 559 534 551 535 551C536 551 540 557 542 559C543 561 544 564 545 566C546 569 550 575 549 576Z"/><path d="M594 742C594 743 594 746 593 748C592 749 589 752 587 753C586 754 583 756 582 756C581 755 580 750 581 748C581 746 585 743 587 742C589 741 593 741 594 742Z"/><path d="M571 770C571 771 566 776 565 778C563 780 561 782 559 783C557 785 553 790 552 789C551 789 553 784 553 782C553 781 552 780 552 779C551 778 547 777 547 776C547 776 552 775 554 774C556 774 557 774 560 773C562 773 570 769 571 770Z"/><path d="M556 641C556 641 556 635 556 634C555 632 556 631 554 630C552 629 543 625 543 624C543 623 551 625 554 625C556 624 558 624 560 624C562 623 564 622 565 623C565 623 564 627 564 629C563 630 562 632 561 634C560 636 557 641 556 641Z"/><path d="M463 707C464 707 473 710 476 712C479 713 480 716 481 719C482 722 484 731 483 732C482 732 476 725 475 723C473 721 473 720 471 718C469 715 462 708 463 707Z"/><path d="M569 558C568 557 572 549 574 547C576 545 581 543 584 543C586 543 591 546 591 547C591 548 587 550 585 551C584 552 582 552 579 553C577 554 570 558 569 558Z"/><path d="M374 649C374 650 369 648 368 648C366 648 366 647 363 648C361 649 354 655 353 655C353 654 358 647 359 645C361 643 361 642 361 640C361 639 361 635 361 635C362 635 365 638 366 639C367 640 368 642 370 643C371 645 374 648 374 649Z"/><path d="M499 695C498 695 493 690 491 689C489 688 486 686 485 685C483 684 480 683 480 682C480 681 484 681 486 680C487 679 488 680 489 678C491 676 494 667 495 667C495 667 495 675 495 678C496 680 496 682 496 685C496 687 499 694 499 695Z"/><path d="M447 746C448 747 449 755 448 758C448 760 445 763 442 764C440 765 431 765 430 764C430 763 436 759 437 758C439 756 440 756 442 754C443 752 447 746 447 746Z"/><path d="M553 566C552 567 546 559 545 557C543 555 542 555 540 554C539 553 531 551 531 550C531 549 539 548 541 548C543 548 545 548 547 548C549 548 556 547 556 547C556 548 551 551 550 552C549 553 548 553 548 555C549 557 554 566 553 566Z"/><path d="M507 528C508 528 511 535 513 537C514 540 515 542 516 543C517 545 519 548 519 549C518 550 515 550 513 550C512 550 509 549 506 549C504 549 496 551 495 550C495 549 501 545 503 543C504 541 506 540 506 538C507 536 507 528 507 528Z"/><path d="M592 643C592 642 596 639 597 638C599 637 601 637 603 636C606 636 616 634 616 634C617 635 609 641 606 643C604 644 601 645 599 645C597 645 593 644 592 643Z"/><path d="M497 648C497 648 504 650 506 651C508 651 508 651 509 649C510 648 512 641 512 641C513 641 513 649 513 651C514 653 514 655 513 657C513 658 513 662 512 662C511 663 509 660 508 659C507 658 507 657 505 655C504 653 497 649 497 648Z"/><path d="M454 524C454 523 463 519 466 518C468 516 468 517 470 515C472 513 478 507 479 507C480 507 475 515 474 517C473 519 473 519 474 521C474 523 478 529 478 529C477 529 472 525 471 524C469 523 469 522 467 522C464 522 454 525 454 524Z"/><path d="M336 604C338 604 343 608 344 610C346 612 347 615 347 618C348 620 348 628 347 629C346 630 341 624 340 622C338 620 337 616 337 613C336 611 335 605 336 604Z"/><path d="M369 576C368 576 367 574 367 573C366 572 366 570 365 568C363 567 355 563 355 562C356 562 364 563 366 563C369 563 371 563 372 563C374 563 379 561 379 562C380 563 377 566 376 568C375 570 373 572 372 573C371 574 370 576 369 576Z"/><path d="M509 574C510 574 513 583 513 586C514 588 513 590 513 592C513 594 511 600 510 600C509 600 507 595 507 593C506 591 507 589 507 586C507 584 508 575 509 574Z"/><path d="M385 576C386 576 389 582 390 584C391 586 391 588 391 591C392 593 395 601 394 602C393 603 388 597 386 595C385 594 383 592 381 591C380 590 374 589 373 588C373 587 379 587 381 586C383 586 384 585 384 584C385 582 384 576 385 576Z"/><path d="M387 591C388 590 392 593 394 594C395 596 396 599 397 601C397 603 396 608 395 608C395 609 391 606 390 604C389 603 388 599 387 597C387 595 386 591 387 591Z"/><path d="M506 577C505 578 499 569 498 566C497 564 498 560 499 558C500 556 505 551 506 551C508 551 508 556 508 559C508 561 507 563 507 566C506 569 507 577 506 577Z"/><path d="M330 642C331 642 337 649 339 652C341 654 341 655 343 656C344 658 350 663 350 663C349 664 343 662 341 662C338 661 337 661 335 661C333 661 329 662 329 661C328 661 332 658 333 657C333 656 335 656 334 654C334 652 329 643 330 642Z"/><path d="M581 625C582 625 583 627 584 629C584 630 584 632 584 634C585 637 589 643 588 644C587 644 580 640 578 638C576 636 575 631 576 629C576 627 580 625 581 625Z"/><path d="M510 780C510 781 504 778 501 778C499 777 496 776 494 775C492 775 487 774 487 773C487 772 493 770 494 769C496 768 497 768 498 767C499 765 501 761 502 761C502 761 502 766 503 767C503 769 503 770 504 772C505 774 511 779 510 780Z"/><path d="M432 584C432 584 426 583 424 583C423 583 422 583 421 584C420 585 418 587 418 587C417 587 417 584 417 583C417 581 417 579 416 578C416 577 414 574 415 574C415 573 418 573 420 574C421 574 424 576 425 578C427 579 433 583 432 584Z"/><path d="M550 662C550 661 559 661 562 661C565 662 567 663 569 663C571 664 577 667 577 668C576 669 571 671 568 671C566 672 563 671 560 669C558 668 550 663 550 662Z"/><path d="M336 533C335 532 333 530 333 528C332 526 334 521 335 520C336 518 338 515 340 515C341 515 343 519 343 521C343 523 342 527 341 529C340 530 337 533 336 533Z"/><path d="M579 584C579 583 585 587 588 588C590 589 593 591 594 593C596 594 600 597 600 598C599 599 593 600 590 600C588 600 585 598 584 596C582 594 578 586 579 584Z"/><path d="M460 584C461 584 464 586 465 588C466 590 465 596 464 598C464 600 461 601 460 601C459 601 456 600 455 598C454 596 455 591 455 589C456 587 458 584 460 584Z"/><path d="M366 553C367 553 368 560 368 563C367 565 366 568 365 570C364 572 360 574 359 574C358 574 357 570 358 568C358 566 359 563 360 561C362 559 365 552 366 553Z"/><path d="M562 614C563 615 558 620 558 622C557 624 556 625 555 627C554 629 553 636 552 636C551 636 548 629 548 626C548 623 550 619 552 618C554 616 561 613 562 614Z"/><path d="M363 606C362 605 364 601 364 599C364 597 365 594 365 593C365 591 365 590 366 589C367 589 368 589 369 589C370 590 372 591 374 591C375 591 379 589 380 589C380 590 378 595 377 597C375 598 373 601 371 602C369 603 364 606 363 606Z"/><path d="M499 605C499 604 502 604 503 604C505 604 506 604 508 603C509 602 514 599 515 599C515 599 511 604 511 605C510 607 510 607 510 608C511 610 518 615 518 616C517 616 510 615 508 614C506 613 502 611 501 610C500 608 498 606 499 605Z"/><path d="M596 765C595 765 594 762 594 761C593 759 594 758 593 756C592 754 587 748 587 747C588 747 594 751 596 751C597 752 598 753 601 753C603 753 610 751 611 752C611 752 606 756 604 758C602 759 601 761 599 762C598 763 597 765 596 765Z"/><path d="M579 586C580 585 584 587 585 587C587 588 590 590 592 592C594 593 597 596 596 597C596 598 591 601 589 600C587 600 582 597 580 595C579 593 578 588 579 586Z"/><path d="M556 717C556 718 550 717 548 717C547 717 545 718 544 718C542 719 540 723 539 722C538 722 539 718 539 716C539 715 539 713 539 711C538 708 533 701 533 700C534 700 541 705 544 707C546 708 547 710 549 711C551 713 556 717 556 717Z"/><path d="M379 509C380 510 381 517 381 519C381 522 380 523 378 525C376 527 368 534 366 534C365 534 369 526 370 523C371 520 372 518 374 516C375 514 378 509 379 509Z"/><path d="M349 724C348 724 351 719 352 717C354 715 355 713 356 711C356 710 357 707 358 707C359 707 360 710 361 711C362 713 363 714 364 716C366 717 372 720 372 721C372 722 366 721 364 722C362 722 359 722 357 722C355 722 349 725 349 724Z"/><path d="M394 698C395 699 395 703 394 705C393 707 389 710 387 711C385 712 380 714 379 713C378 712 378 707 379 705C380 703 384 699 386 698C389 697 393 697 394 698Z"/><path d="M345 672C345 671 350 673 353 674C355 675 357 676 359 676C361 676 368 675 368 676C369 677 362 681 360 683C358 684 356 685 354 686C353 686 349 689 348 689C347 689 348 685 348 684C348 683 349 680 349 679C348 677 344 673 345 672Z"/><path d="M497 695C496 695 496 691 495 690C494 689 494 687 492 686C490 685 481 684 481 683C482 682 491 681 493 680C496 679 498 679 500 678C502 678 507 676 507 676C508 677 505 681 504 683C503 685 501 686 501 688C500 690 498 694 497 695Z"/><path d="M407 673C406 673 404 671 403 669C402 668 402 666 400 664C399 662 392 654 392 654C393 653 401 659 403 660C405 661 405 661 407 661C408 661 411 659 412 659C412 660 412 662 412 664C411 665 410 668 409 669C408 671 408 673 407 673Z"/><path d="M346 558C345 558 344 549 344 546C343 543 344 540 346 538C347 535 352 528 353 529C354 529 353 538 352 540C352 542 352 543 351 546C350 548 347 558 346 558Z"/><path d="M557 617C556 616 555 613 556 611C556 609 559 606 561 604C562 602 567 596 568 597C569 597 570 605 570 608C569 610 566 615 564 616C562 618 559 617 557 617Z"/><path d="M512 674C512 673 519 669 520 668C522 667 522 667 521 666C520 664 512 658 513 657C513 656 521 660 523 661C526 662 528 663 530 665C532 666 535 668 535 669C535 670 531 671 529 672C528 672 525 672 522 673C520 673 513 674 512 674Z"/><path d="M324 675C324 674 332 674 335 674C338 675 340 676 343 677C346 678 355 682 355 683C354 685 345 686 342 686C339 686 335 685 332 683C330 682 323 677 324 675Z"/><path d="M558 621C558 620 563 620 564 620C566 620 569 620 571 621C573 621 578 622 578 623C578 624 574 628 572 629C570 629 565 628 563 627C561 626 558 622 558 621Z"/><path d="M374 712C374 711 378 705 379 703C381 701 383 700 385 700C388 699 397 698 397 699C398 700 391 704 388 706C386 707 385 707 383 708C381 709 375 712 374 712Z"/><path d="M554 600C553 601 545 595 543 593C541 591 540 588 540 586C540 584 540 579 541 579C542 578 545 582 546 583C547 585 547 586 548 589C550 591 555 600 554 600Z"/><path d="M575 513C575 512 579 513 581 512C582 512 584 512 585 511C586 511 589 509 590 509C590 510 591 513 590 514C590 516 588 519 587 521C586 523 583 528 582 528C582 528 582 522 581 520C581 518 581 517 580 516C579 515 574 514 575 513Z"/><path d="M450 511C450 511 450 517 450 520C450 522 449 523 450 525C450 528 454 537 453 538C453 538 447 531 446 530C444 528 442 527 441 527C440 526 437 525 437 524C437 524 438 522 439 521C440 519 443 518 444 517C446 515 449 510 450 511Z"/><path d="M415 501C416 501 412 508 410 510C409 512 408 515 407 517C406 518 405 522 404 523C403 523 402 519 401 518C400 517 399 516 398 515C397 514 394 515 394 514C394 513 397 510 398 509C399 508 401 508 404 507C406 505 414 500 415 501Z"/><path d="M426 541C427 542 426 546 425 548C424 550 421 552 419 553C417 554 411 556 410 556C409 555 411 549 413 547C414 546 417 543 419 542C421 541 425 540 426 541Z"/><path d="M559 534C559 535 551 537 549 538C546 539 543 540 541 540C539 541 534 542 534 541C533 540 536 537 537 535C538 533 539 532 540 530C540 528 540 520 541 519C541 519 543 527 544 529C545 531 545 531 547 532C549 533 559 533 559 534Z"/><path d="M401 726C401 727 394 726 391 725C389 725 387 723 386 722C384 720 380 717 381 716C381 715 386 713 388 714C390 714 394 717 396 718C398 720 402 725 401 726Z"/><path d="M380 777C379 777 374 773 372 772C371 771 369 768 368 767C367 765 365 761 366 760C367 759 371 760 373 761C375 762 377 765 378 767C379 769 381 776 380 777Z"/><path d="M401 648C400 648 392 641 390 639C388 637 388 635 388 632C388 630 388 622 389 622C390 622 393 627 394 629C396 631 396 633 397 636C398 638 402 647 401 648Z"/><path d="M564 729C564 729 563 733 563 735C563 736 563 738 563 740C564 742 570 749 569 750C568 750 561 746 558 745C556 743 553 741 552 739C550 737 549 733 550 732C550 732 553 732 554 732C555 732 558 732 559 732C560 731 563 729 564 729Z"/><path d="M552 722C552 721 557 720 559 719C560 718 563 718 565 718C567 718 570 718 570 719C571 720 570 724 569 725C567 727 561 727 559 727C557 727 552 724 552 722Z"/><path d="M487 640C488 639 492 637 494 639C496 640 499 646 499 648C499 651 496 657 495 657C494 657 492 652 491 651C490 649 489 647 488 645C488 644 486 641 487 640Z"/><path d="M592 687C591 687 595 678 596 676C596 673 597 673 596 671C594 669 588 662 588 661C588 660 595 665 597 666C599 666 601 667 603 667C605 666 612 662 612 663C613 664 607 671 605 673C604 675 603 675 601 677C599 679 593 687 592 687Z"/><path d="M432 511C431 510 437 505 440 504C443 503 448 504 451 505C453 506 457 510 456 511C456 512 452 514 450 514C448 515 444 514 441 514C439 513 432 513 432 511Z"/><path d="M438 551C438 552 430 555 427 556C424 557 422 557 419 557C416 557 407 558 407 556C406 555 413 550 416 549C419 547 422 547 426 547C429 548 438 549 438 551Z"/><path d="M588 617C588 618 584 619 582 620C581 620 579 620 577 622C576 623 571 627 570 627C569 626 571 621 572 619C573 617 573 615 574 613C574 611 574 607 575 606C576 606 578 609 579 610C581 611 582 613 584 614C585 615 588 616 588 617Z"/><path d="M583 708C583 706 590 708 593 708C595 708 597 708 599 708C601 708 604 708 604 709C605 710 604 716 602 717C601 718 594 718 591 717C588 716 583 709 583 708Z"/><path d="M468 785C467 786 458 785 455 785C452 784 451 783 449 782C447 780 443 775 443 774C443 773 449 774 452 775C454 775 456 777 458 778C461 780 468 784 468 785Z"/><path d="M467 740C466 741 463 735 462 734C460 732 460 730 458 729C457 728 452 724 452 723C453 722 457 722 459 722C461 722 464 723 467 723C470 723 478 721 479 722C479 723 472 727 470 728C468 730 468 731 467 733C467 735 468 740 467 740Z"/><path d="M345 580C344 581 339 578 337 577C335 576 333 575 331 574C329 573 324 571 324 570C324 569 330 565 332 565C335 565 340 568 342 570C344 572 345 579 345 580Z"/><path d="M384 593C383 594 379 593 377 593C375 592 374 590 372 588C370 585 365 576 366 575C367 575 374 580 377 582C379 584 381 586 382 587C383 589 384 592 384 593Z"/><path d="M344 733C344 734 343 736 342 737C341 738 339 739 338 741C337 743 335 751 334 751C333 751 333 743 332 740C332 738 332 737 331 735C330 733 325 728 325 727C326 727 332 730 334 731C336 732 337 732 339 733C340 733 344 733 344 733Z"/><path d="M468 563C468 562 474 562 476 562C478 562 479 562 481 561C483 561 491 558 491 559C492 560 486 566 484 568C482 569 478 569 476 569C474 568 468 564 468 563Z"/><path d="M524 604C525 605 526 613 526 616C526 619 525 622 523 624C522 626 519 629 518 629C516 629 514 625 514 623C514 620 516 616 517 613C519 611 523 604 524 604Z"/><path d="M564 567C565 567 569 569 570 569C572 570 573 571 575 571C577 571 587 569 587 570C587 570 580 574 578 575C576 577 575 578 575 579C574 581 573 586 573 587C572 587 569 583 568 581C567 579 566 575 565 573C565 571 564 568 564 567Z"/><path d="M382 646C384 646 387 654 388 656C389 659 389 662 389 664C390 667 391 674 390 674C388 675 382 671 381 668C379 666 378 661 379 658C379 655 381 647 382 646Z"/><path d="M373 597C374 597 380 602 382 603C383 604 384 604 385 604C386 603 390 599 391 600C392 600 391 605 391 607C390 609 387 612 386 614C384 616 380 622 379 622C378 622 379 614 379 612C379 610 379 608 379 606C378 604 373 597 373 597Z"/><path d="M575 573C575 572 584 573 587 573C589 573 591 574 594 575C596 576 605 578 605 579C605 580 597 583 594 583C591 583 587 582 585 581C582 579 575 574 575 573Z"/><path d="M478 538C479 538 477 543 477 545C477 547 476 550 476 552C475 554 476 560 475 560C474 560 471 555 470 553C469 552 468 550 466 549C465 548 460 546 460 545C460 544 464 544 466 543C468 543 470 542 472 542C474 541 477 537 478 538Z"/><path d="M389 663C390 664 387 667 385 668C384 669 381 670 379 671C377 671 372 673 371 672C370 671 373 666 375 664C376 663 380 661 382 661C384 661 389 662 389 663Z"/><path d="M573 667C572 667 567 661 565 659C563 657 562 655 562 652C561 650 561 643 562 642C563 642 567 647 569 649C570 651 571 653 571 656C572 658 574 666 573 667Z"/><path d="M553 772C552 772 547 771 545 771C543 770 542 770 540 771C538 772 532 779 531 779C531 778 535 770 536 767C537 765 538 764 539 762C540 761 542 756 543 756C544 756 544 760 545 762C545 763 545 765 546 766C547 768 553 771 553 772Z"/><path d="M431 726C431 727 427 728 425 729C423 729 420 729 417 729C415 729 409 730 409 729C408 728 414 723 416 722C418 720 421 720 423 721C425 722 431 725 431 726Z"/><path d="M532 766C533 766 536 772 537 774C538 775 539 777 540 779C540 780 542 783 541 784C541 784 539 783 537 783C536 783 535 782 533 782C532 782 527 785 527 784C527 784 530 780 531 779C531 777 532 777 533 775C533 773 532 766 532 766Z"/><path d="M386 538C385 538 384 527 384 524C384 522 386 520 388 518C389 517 395 515 396 516C397 516 394 520 393 522C392 523 391 524 390 527C389 529 387 538 386 538Z"/><path d="M446 538C445 539 441 534 439 533C438 531 436 529 434 527C433 525 428 520 428 519C429 519 435 520 438 521C440 521 441 522 444 522C446 522 454 520 454 521C455 521 449 525 447 526C446 527 445 528 445 530C445 532 447 538 446 538Z"/><path d="M512 542C512 541 516 537 517 536C519 534 521 533 523 532C524 531 527 529 528 530C529 530 528 532 528 534C528 535 528 537 528 539C528 540 530 542 529 543C529 543 526 543 525 543C524 542 521 541 520 541C518 541 512 543 512 542Z"/><path d="M373 542C372 541 375 536 375 534C376 532 377 530 378 528C378 526 377 519 378 518C379 518 382 526 383 528C384 529 383 530 385 530C387 530 396 527 396 528C397 528 391 533 389 535C387 537 384 538 381 539C379 540 374 542 373 542Z"/><path d="M383 773C381 773 377 773 375 771C374 770 371 766 370 763C370 760 368 752 369 751C371 750 376 756 378 758C380 760 382 764 383 766C383 768 384 772 383 773Z"/><path d="M401 621C401 620 404 617 406 616C408 615 410 615 412 615C414 614 421 614 422 615C422 616 419 620 416 622C414 623 409 624 407 624C405 624 401 622 401 621Z"/><path d="M473 708C474 707 482 707 484 706C487 706 488 707 490 707C493 707 503 707 503 708C504 709 494 711 492 712C490 713 490 713 489 715C487 716 485 724 484 724C483 725 484 718 484 716C483 714 483 713 482 711C480 710 473 709 473 708Z"/><path d="M403 738C403 739 395 740 393 741C391 741 390 741 388 742C386 743 379 747 378 747C378 747 382 741 383 740C384 738 384 736 384 735C384 734 383 733 383 732C384 731 386 731 388 731C389 731 392 733 394 734C396 735 403 737 403 738Z"/><path d="M349 509C349 509 349 514 348 515C347 517 345 519 343 520C342 521 337 521 337 521C336 520 338 517 339 515C340 514 342 512 343 511C345 510 348 508 349 509Z"/><path d="M366 708C367 708 370 713 370 715C371 717 370 719 370 722C369 725 368 735 367 735C366 735 363 726 362 723C362 720 362 717 363 715C363 713 365 708 366 708Z"/><path d="M386 722C387 722 393 724 395 725C397 727 399 731 399 733C400 735 399 741 398 742C397 742 394 738 392 736C391 735 390 732 389 731C388 729 385 723 386 722Z"/><path d="M558 631C559 632 554 639 553 641C552 643 552 645 551 646C551 647 551 650 550 650C549 651 547 650 546 649C544 648 542 645 541 644C540 643 539 641 539 640C539 639 542 639 543 638C545 638 546 639 549 638C551 637 557 631 558 631Z"/><path d="M493 718C493 718 493 711 495 709C496 707 499 705 501 704C502 703 507 703 507 704C508 704 508 708 507 709C506 711 503 714 501 715C499 716 494 719 493 718Z"/><path d="M524 590C523 591 518 584 516 582C514 581 514 580 512 581C510 582 503 587 502 587C501 586 506 579 508 577C509 575 511 572 512 571C514 569 517 564 518 564C519 564 519 570 519 572C520 574 519 576 520 579C521 582 524 590 524 590Z"/><path d="M398 598C398 599 389 602 386 603C383 603 380 601 378 600C377 598 374 592 374 591C375 590 380 593 382 593C383 594 384 595 387 596C389 596 398 597 398 598Z"/><path d="M399 557C400 557 404 561 405 563C406 565 406 568 406 571C405 574 404 582 402 582C401 582 399 574 398 572C397 570 397 567 397 565C397 563 398 558 399 557Z"/><path d="M529 687C530 686 535 690 536 691C538 693 539 695 540 697C541 698 544 702 543 704C542 705 537 705 535 704C533 703 530 698 529 696C528 693 528 687 529 687Z"/><path d="M429 530C428 531 426 530 425 530C424 530 422 530 421 530C420 530 419 531 418 531C418 531 417 529 417 527C417 526 417 524 417 522C417 520 413 514 414 513C415 512 421 515 423 517C425 518 428 522 429 524C430 526 429 529 429 530Z"/><path d="M506 671C505 671 503 668 502 666C501 665 500 663 500 661C499 659 497 654 498 654C498 653 501 656 502 656C504 657 504 658 506 657C508 656 514 648 514 649C515 649 511 657 510 660C509 662 509 664 508 666C508 668 507 671 506 671Z"/><path d="M520 718C519 719 515 719 513 718C511 718 508 716 506 715C504 714 497 711 497 710C498 708 505 706 508 706C510 706 516 708 517 710C519 712 521 717 520 718Z"/><path d="M548 726C548 727 540 727 537 728C535 728 531 728 530 728C528 728 524 727 524 726C524 726 527 724 528 723C529 722 530 722 529 720C529 718 524 710 525 710C525 710 531 716 533 718C535 720 534 720 537 721C539 722 548 725 548 726Z"/><path d="M362 728C363 729 362 732 361 734C359 735 355 737 352 737C350 738 343 739 342 738C342 737 347 731 349 730C351 728 354 727 356 727C358 727 361 727 362 728Z"/><path d="M428 630C427 630 429 624 429 621C430 619 430 617 431 616C432 614 433 611 434 610C435 610 436 613 437 614C438 615 438 618 440 619C441 621 446 625 445 626C445 627 439 624 437 624C436 623 435 623 433 624C432 625 429 631 428 630Z"/><path d="M444 723C445 723 444 732 443 734C442 737 438 739 435 740C432 740 424 740 423 739C423 738 429 734 431 733C433 731 435 730 437 729C438 728 443 722 444 723Z"/><path d="M439 724C440 724 448 731 450 733C452 735 452 736 453 738C454 740 458 746 457 747C456 748 450 746 448 745C446 743 444 740 443 737C441 734 438 725 439 724Z"/><path d="M351 668C350 668 352 658 353 655C355 653 360 650 363 650C366 650 373 652 374 653C374 654 367 657 365 658C363 659 362 659 360 660C358 662 352 669 351 668Z"/><path d="M576 596C575 596 568 592 567 589C566 587 566 582 567 579C568 576 573 569 574 569C576 569 575 578 575 580C575 583 575 584 575 586C575 588 577 595 576 596Z"/><path d="M457 694C456 695 451 689 449 687C447 685 446 683 445 681C443 678 439 672 439 672C440 671 446 674 448 675C450 676 452 676 453 676C455 676 459 674 460 675C460 675 459 678 458 679C457 681 456 683 456 685C456 687 458 694 457 694Z"/><path d="M543 585C543 584 548 585 550 585C551 585 552 585 554 584C556 583 564 576 564 576C565 577 561 584 560 586C559 589 558 591 558 593C557 596 557 604 556 604C555 604 553 595 552 593C550 591 550 590 549 589C548 588 543 586 543 585Z"/><path d="M433 529C434 530 431 535 430 536C428 538 425 539 422 539C420 540 414 540 414 539C413 538 417 534 419 532C420 531 424 530 426 529C428 529 433 528 433 529Z"/><path d="M557 596C556 596 553 588 553 585C552 583 552 582 551 580C550 577 547 570 548 570C549 569 555 574 557 576C559 578 560 581 560 584C560 587 558 596 557 596Z"/><path d="M586 748C586 748 588 744 589 742C590 741 591 740 592 738C593 736 596 727 597 727C597 727 597 736 598 738C598 740 598 741 599 743C599 745 602 750 602 750C602 751 597 748 596 747C594 747 593 746 592 746C590 747 587 749 586 748Z"/><path d="M555 742C555 741 557 742 559 742C560 742 563 743 565 743C567 743 570 742 570 743C571 744 570 747 569 749C568 751 565 754 563 755C562 757 558 760 558 760C557 759 557 754 557 753C557 751 557 749 556 747C556 746 554 743 555 742Z"/><path d="M498 679C498 680 496 679 495 678C494 678 493 676 491 677C489 677 484 680 483 680C483 679 487 674 488 672C489 670 490 668 491 666C492 664 493 661 494 661C495 661 497 664 498 666C499 668 500 672 500 673C500 675 499 679 498 679Z"/><path d="M348 705C348 706 344 706 342 706C340 706 338 706 336 707C335 708 329 713 329 712C328 711 332 705 332 703C333 701 334 700 335 697C335 695 336 687 336 686C337 686 339 694 340 696C341 698 342 699 343 701C344 702 348 704 348 705Z"/><path d="M549 688C550 688 552 692 553 693C554 694 555 695 557 696C558 697 563 696 563 697C563 698 560 700 558 701C557 702 555 702 554 704C553 706 550 715 549 715C548 715 548 705 548 702C548 699 549 698 549 696C549 694 549 689 549 688Z"/><path d="M528 704C528 705 526 706 524 707C523 708 521 708 519 709C517 710 511 716 511 715C510 714 512 706 514 703C515 701 520 699 522 699C524 700 528 703 528 704Z"/><path d="M547 694C547 695 538 695 536 695C534 695 532 695 530 695C528 695 525 696 525 695C524 694 526 690 528 689C529 688 533 687 536 688C538 689 547 693 547 694Z"/><path d="M454 706C454 707 447 710 445 711C443 712 441 713 440 714C439 715 436 717 435 717C435 717 436 713 436 712C436 711 437 710 435 709C434 707 428 704 428 703C429 703 434 703 437 703C439 703 441 704 443 705C446 705 454 705 454 706Z"/><path d="M596 692C596 691 600 685 601 683C603 681 606 680 609 679C612 678 621 676 622 677C622 678 616 684 613 686C611 688 609 689 606 690C604 691 597 693 596 692Z"/><path d="M421 554C422 553 426 551 428 552C430 553 433 558 434 561C435 564 435 571 434 572C433 573 428 567 427 566C425 564 423 561 422 559C422 558 421 555 421 554Z"/><path d="M379 666C380 666 376 670 375 671C374 673 373 674 373 676C372 677 371 680 371 680C370 680 369 677 368 676C367 675 367 673 366 671C365 670 363 667 363 667C363 666 366 666 367 666C369 666 371 666 373 666C375 666 379 665 379 666Z"/><path d="M464 711C464 712 458 713 456 713C454 713 450 712 448 710C445 709 440 706 440 705C440 704 446 702 449 701C452 701 456 703 458 704C460 705 464 709 464 711Z"/><path d="M541 699C540 699 537 698 536 697C534 696 533 694 531 692C530 690 524 685 524 684C524 683 531 685 533 685C535 685 537 686 540 686C542 685 550 681 551 682C551 682 543 689 541 691C540 692 540 693 540 694C540 695 541 698 541 699Z"/><path d="M394 557C393 557 394 554 394 553C394 551 396 549 396 547C396 545 396 539 397 539C398 539 401 544 402 546C404 548 404 550 405 552C406 554 410 561 409 561C409 562 404 557 402 556C401 555 400 555 398 556C397 556 395 558 394 557Z"/><path d="M454 784C454 784 457 782 459 781C460 780 461 780 463 778C464 777 467 771 468 771C469 772 467 778 467 780C467 781 467 783 467 784C467 786 469 789 469 790C468 790 465 788 464 788C463 787 461 786 460 785C458 785 454 785 454 784Z"/><path d="M561 638C560 638 556 634 555 633C554 631 553 628 552 626C552 623 550 617 551 616C552 616 557 620 559 622C561 624 562 627 562 629C562 631 562 637 561 638Z"/><path d="M570 671C570 672 563 674 560 675C558 676 555 678 553 678C552 679 550 679 549 679C548 678 547 675 547 673C547 672 549 668 551 666C552 663 556 655 557 655C558 655 557 664 557 666C558 668 558 669 560 670C561 670 570 670 570 671Z"/><path d="M607 627C607 627 602 632 601 634C600 635 599 636 598 638C598 641 597 650 597 650C596 650 594 642 593 640C592 638 591 636 590 635C588 633 583 630 583 629C584 629 591 630 592 630C594 630 595 631 597 630C599 630 606 626 607 627Z"/><path d="M588 598C587 597 592 592 593 590C595 589 598 587 599 587C601 586 605 586 605 587C606 588 605 591 603 593C602 594 600 595 597 596C595 597 588 599 588 598Z"/><path d="M548 498C549 498 552 502 553 503C553 505 553 508 553 510C553 512 551 516 550 517C548 517 546 514 545 512C545 510 545 506 545 504C545 502 547 499 548 498Z"/><path d="M416 675C415 673 420 671 422 670C424 670 428 670 431 670C434 671 442 671 442 672C442 674 435 679 432 680C429 681 425 681 422 680C420 679 416 676 416 675Z"/><path d="M495 765C496 765 501 769 503 771C505 773 506 776 507 778C508 780 510 785 509 786C509 787 503 786 501 785C499 783 496 779 495 776C494 773 494 766 495 765Z"/><path d="M603 729C603 728 600 722 599 720C598 718 599 718 597 716C595 714 587 709 587 708C587 708 596 709 599 710C601 710 605 711 606 712C608 713 609 716 610 717C610 718 608 718 607 719C606 719 605 720 604 721C603 722 604 729 603 729Z"/><path d="M430 577C429 576 433 573 434 571C435 570 437 568 438 566C439 565 441 561 442 561C442 562 444 565 445 567C445 568 445 571 446 573C447 575 451 581 450 581C449 582 444 577 442 576C440 576 440 575 438 575C436 575 430 577 430 577Z"/><path d="M568 741C568 742 564 745 562 746C560 747 557 747 555 746C552 746 546 743 546 742C546 741 551 739 553 738C555 738 560 738 562 738C564 739 568 740 568 741Z"/><path d="M506 746C507 746 512 753 513 755C515 757 515 758 517 759C518 760 522 762 522 763C522 764 518 765 516 765C514 766 510 765 508 764C507 764 503 762 503 761C503 761 507 760 508 759C509 758 510 758 510 757C509 755 506 746 506 746Z"/><path d="M408 607C407 608 404 605 403 604C402 602 401 599 400 596C400 594 399 587 400 587C401 586 404 591 406 592C407 594 408 595 410 595C412 596 421 597 421 598C421 598 412 599 410 599C408 600 408 600 408 602C408 603 409 607 408 607Z"/><path d="M476 677C476 676 479 674 481 674C483 673 487 674 488 675C490 676 492 678 492 680C492 681 490 683 488 683C486 684 481 682 479 682C478 681 475 678 476 677Z"/><path d="M581 751C580 751 578 741 578 739C577 736 576 735 576 734C575 732 573 730 573 729C574 728 576 729 577 729C578 729 580 729 582 729C584 728 588 724 589 724C589 725 587 731 586 733C585 735 584 736 583 739C583 741 582 751 581 751Z"/><path d="M526 570C526 569 534 564 537 563C540 563 545 564 548 566C550 568 554 575 553 576C553 578 547 576 544 575C542 575 539 574 537 573C534 572 526 572 526 570Z"/><path d="M459 737C459 736 462 733 464 731C465 730 467 729 469 727C470 725 475 719 476 719C477 719 475 726 474 729C474 731 474 732 474 734C475 736 480 743 480 744C479 745 473 740 471 739C469 737 467 737 466 737C464 737 459 738 459 737Z"/><path d="M358 542C359 541 360 544 361 546C361 547 362 550 362 552C362 555 365 561 364 562C363 562 356 558 355 556C353 554 353 549 353 547C354 545 356 542 358 542Z"/><path d="M501 564C501 563 508 565 510 566C512 566 513 567 515 568C516 569 519 571 519 572C519 573 517 574 516 575C515 575 511 576 509 576C507 576 504 576 503 576C503 575 505 573 506 572C506 571 507 570 506 569C505 568 500 564 501 564Z"/><path d="M584 589C585 590 586 595 586 597C585 599 584 601 583 604C581 606 576 614 574 614C573 614 573 605 574 602C574 599 576 595 578 593C579 591 583 589 584 589Z"/><path d="M409 576C409 577 404 578 401 578C399 578 396 576 393 575C390 574 383 570 383 568C383 567 393 567 396 568C398 568 400 569 402 570C404 571 409 575 409 576Z"/><path d="M479 556C478 555 484 551 485 549C486 548 486 548 485 546C485 544 480 539 481 538C481 537 486 540 488 541C490 542 493 544 494 544C495 545 498 546 498 547C498 549 497 551 495 552C494 553 490 554 487 554C485 555 479 556 479 556Z"/><path d="M407 762C407 763 405 765 405 767C404 768 403 769 404 771C404 773 409 779 408 779C408 780 401 775 399 774C397 773 395 771 394 770C393 769 390 767 390 767C390 766 393 765 394 764C396 764 399 764 400 763C402 763 406 762 407 762Z"/><path d="M505 526C505 526 510 529 512 529C513 530 515 530 517 529C518 528 523 523 523 523C524 524 522 531 521 533C521 536 520 538 519 540C519 541 517 544 517 544C516 544 514 541 513 540C512 539 512 537 511 535C510 533 505 527 505 526Z"/></g>
<g fill="#3c3846" opacity="0.7"><circle cx="475.2" cy="731.2" r="1.8"/><circle cx="442.0" cy="782.9" r="1.6"/><circle cx="349.5" cy="620.5" r="1.5"/><circle cx="332.9" cy="619.5" r="1.4"/><circle cx="367.3" cy="690.0" r="1.2"/><circle cx="351.3" cy="779.7" r="1.2"/><circle cx="564.3" cy="655.3" r="1.4"/><circle cx="404.6" cy="552.9" r="1.8"/><circle cx="496.5" cy="773.4" r="1.1"/><circle cx="361.4" cy="510.5" r="1.4"/><circle cx="540.1" cy="565.4" r="1.7"/><circle cx="586.2" cy="747.1" r="1.4"/><circle cx="557.1" cy="778.0" r="1.7"/><circle cx="558.3" cy="629.7" r="1.3"/><circle cx="476.8" cy="716.8" r="1.2"/><circle cx="580.2" cy="548.2" r="1.0"/><circle cx="364.7" cy="643.3" r="1.3"/><circle cx="490.0" cy="681.8" r="1.1"/><circle cx="443.3" cy="759.3" r="1.4"/><circle cx="545.2" cy="552.5" r="1.8"/><circle cx="509.9" cy="543.3" r="1.3"/><circle cx="600.7" cy="641.2" r="1.7"/><circle cx="509.7" cy="654.2" r="1.2"/><circle cx="469.6" cy="519.3" r="1.8"/><circle cx="341.6" cy="615.7" r="1.6"/><circle cx="370.6" cy="568.8" r="1.1"/><circle cx="509.3" cy="590.1" r="1.5"/><circle cx="387.1" cy="588.9" r="1.6"/><circle cx="392.1" cy="598.7" r="1.7"/><circle cx="502.1" cy="562.2" r="1.6"/><circle cx="337.7" cy="656.9" r="1.1"/><circle cx="579.1" cy="632.2" r="1.6"/><circle cx="498.2" cy="771.0" r="1.5"/><circle cx="420.3" cy="578.7" r="1.1"/><circle cx="564.8" cy="667.3" r="1.8"/><circle cx="339.1" cy="525.4" r="1.7"/><circle cx="588.5" cy="596.4" r="1.7"/><circle cx="459.3" cy="592.2" r="1.3"/><circle cx="363.5" cy="566.4" r="1.5"/><circle cx="553.0" cy="623.1" r="1.3"/><circle cx="369.2" cy="596.3" r="1.0"/><circle cx="507.2" cy="607.4" r="1.2"/><circle cx="597.4" cy="755.9" r="1.4"/><circle cx="586.3" cy="594.0" r="1.1"/><circle cx="544.1" cy="713.4" r="1.1"/><circle cx="376.8" cy="521.8" r="1.5"/><circle cx="358.7" cy="717.1" r="1.5"/><circle cx="386.6" cy="705.3" r="1.2"/><circle cx="355.8" cy="681.8" r="1.1"/><circle cx="498.4" cy="682.8" r="1.0"/><circle cx="404.4" cy="665.1" r="1.5"/><circle cx="348.8" cy="541.9" r="1.1"/><circle cx="562.8" cy="609.6" r="1.6"/><circle cx="524.2" cy="667.4" r="1.0"/><circle cx="338.4" cy="679.5" r="1.7"/><circle cx="567.9" cy="624.8" r="1.5"/><circle cx="383.8" cy="704.3" r="1.5"/><circle cx="544.7" cy="587.6" r="1.6"/><circle cx="585.3" cy="515.4" r="1.4"/><circle cx="445.6" cy="523.8" r="1.6"/><circle cx="403.9" cy="510.7" r="1.3"/><circle cx="418.5" cy="548.8" r="1.3"/><circle cx="542.6" cy="533.2" r="1.2"/><circle cx="389.8" cy="720.4" r="1.2"/><circle cx="374.0" cy="767.3" r="1.7"/><circle cx="391.6" cy="635.0" r="1.0"/><circle cx="558.1" cy="738.0" r="1.4"/><circle cx="562.7" cy="721.9" r="1.3"/><circle cx="493.8" cy="645.2" r="1.4"/><circle cx="601.0" cy="672.5" r="1.0"/><circle cx="446.2" cy="509.1" r="1.7"/><circle cx="422.8" cy="552.0" r="1.5"/><circle cx="578.9" cy="617.7" r="1.6"/><circle cx="596.0" cy="714.4" r="1.8"/><circle cx="453.4" cy="780.5" r="1.3"/><circle cx="462.8" cy="727.3" r="1.5"/><circle cx="335.4" cy="570.4" r="1.3"/><circle cx="376.0" cy="587.5" r="1.3"/><circle cx="335.6" cy="735.9" r="1.7"/><circle cx="479.8" cy="564.4" r="1.7"/><circle cx="519.8" cy="619.9" r="1.4"/><circle cx="572.4" cy="574.7" r="1.5"/><circle cx="384.3" cy="660.8" r="1.5"/><circle cx="383.1" cy="607.9" r="1.1"/><circle cx="590.4" cy="578.8" r="1.6"/><circle cx="471.8" cy="547.6" r="1.3"/><circle cx="379.3" cy="666.1" r="1.1"/><circle cx="566.3" cy="653.1" r="1.3"/><circle cx="540.3" cy="766.8" r="1.1"/><circle cx="420.9" cy="723.6" r="1.5"/><circle cx="535.1" cy="777.4" r="1.1"/><circle cx="388.0" cy="521.4" r="1.3"/><circle cx="440.8" cy="526.7" r="1.4"/><circle cx="522.9" cy="537.0" r="1.6"/><circle cx="381.3" cy="531.7" r="1.5"/><circle cx="376.8" cy="764.3" r="1.8"/><circle cx="410.9" cy="617.6" r="1.2"/><circle cx="488.2" cy="711.0" r="1.7"/><circle cx="388.2" cy="738.2" r="1.5"/><circle cx="342.5" cy="515.3" r="1.2"/><circle cx="366.5" cy="718.0" r="1.6"/><circle cx="393.6" cy="731.8" r="1.6"/><circle cx="547.1" cy="642.6" r="1.1"/><circle cx="499.4" cy="708.8" r="1.1"/><circle cx="515.3" cy="577.5" r="1.3"/><circle cx="383.3" cy="599.0" r="1.8"/><circle cx="400.8" cy="567.5" r="1.2"/><circle cx="534.5" cy="697.4" r="1.1"/><circle cx="422.3" cy="524.3" r="1.1"/><circle cx="504.1" cy="662.5" r="1.1"/><circle cx="511.9" cy="711.5" r="1.4"/><circle cx="533.4" cy="723.3" r="1.6"/><circle cx="354.0" cy="730.5" r="1.2"/><circle cx="433.8" cy="619.5" r="1.5"/><circle cx="437.6" cy="733.6" r="1.3"/><circle cx="448.4" cy="736.8" r="1.0"/><circle cx="360.3" cy="656.3" r="1.6"/><circle cx="571.5" cy="584.4" r="1.4"/><circle cx="451.6" cy="681.1" r="1.6"/><circle cx="553.7" cy="587.7" r="1.4"/><circle cx="424.2" cy="533.5" r="1.2"/><circle cx="555.6" cy="582.0" r="1.5"/><circle cx="593.8" cy="742.8" r="1.5"/><circle cx="560.9" cy="749.2" r="1.5"/><circle cx="493.9" cy="670.4" r="1.1"/><circle cx="338.4" cy="701.0" r="1.4"/><circle cx="552.7" cy="698.3" r="1.2"/><circle cx="518.7" cy="704.4" r="1.1"/><circle cx="531.3" cy="690.3" r="1.1"/><circle cx="439.9" cy="709.2" r="1.4"/><circle cx="607.3" cy="684.2" r="1.6"/><circle cx="428.7" cy="559.0" r="1.7"/><circle cx="370.5" cy="670.9" r="1.5"/><circle cx="452.6" cy="707.0" r="1.3"/><circle cx="536.8" cy="692.5" r="1.1"/><circle cx="400.4" cy="550.1" r="1.8"/><circle cx="462.6" cy="783.2" r="1.4"/><circle cx="556.9" cy="628.1" r="1.3"/><circle cx="554.4" cy="671.5" r="1.7"/><circle cx="596.0" cy="634.9" r="1.6"/><circle cx="597.5" cy="592.5" r="1.2"/><circle cx="550.0" cy="506.1" r="1.8"/><circle cx="427.2" cy="676.0" r="1.2"/><circle cx="500.6" cy="777.6" r="1.3"/><circle cx="600.9" cy="715.3" r="1.0"/><circle cx="440.8" cy="570.7" r="1.6"/><circle cx="558.7" cy="743.5" r="1.4"/><circle cx="511.9" cy="760.0" r="1.6"/><circle cx="404.8" cy="598.7" r="1.5"/><circle cx="485.2" cy="678.2" r="1.3"/><circle cx="579.8" cy="734.5" r="1.6"/><circle cx="541.5" cy="569.7" r="1.1"/><circle cx="469.0" cy="731.4" r="1.3"/><circle cx="357.8" cy="549.6" r="1.4"/><circle cx="510.5" cy="570.5" r="1.1"/><circle cx="580.1" cy="599.5" r="1.4"/><circle cx="398.9" cy="572.7" r="1.1"/><circle cx="488.2" cy="547.3" r="1.3"/><circle cx="399.3" cy="768.8" r="1.4"/><circle cx="515.4" cy="534.9" r="1.3"/></g>
<g fill="#2f2b38" opacity="0.55"><circle cx="502.2" cy="710.0" r="0.7"/><circle cx="587.1" cy="709.5" r="0.8"/><circle cx="344.3" cy="636.4" r="0.8"/><circle cx="509.1" cy="752.4" r="0.4"/><circle cx="461.3" cy="578.0" r="0.6"/><circle cx="489.2" cy="515.8" r="0.5"/><circle cx="410.9" cy="756.5" r="0.7"/><circle cx="379.0" cy="724.7" r="0.5"/><circle cx="500.7" cy="546.1" r="0.4"/><circle cx="568.2" cy="568.1" r="0.5"/><circle cx="597.7" cy="744.8" r="0.5"/><circle cx="592.2" cy="656.0" r="0.7"/><circle cx="391.0" cy="763.1" r="0.7"/><circle cx="593.5" cy="750.5" r="0.5"/><circle cx="432.6" cy="556.5" r="0.5"/><circle cx="353.9" cy="592.6" r="0.6"/><circle cx="337.5" cy="693.0" r="0.5"/><circle cx="419.0" cy="730.4" r="0.6"/><circle cx="420.5" cy="640.5" r="0.7"/><circle cx="351.8" cy="772.2" r="0.4"/><circle cx="535.9" cy="737.5" r="0.4"/><circle cx="546.0" cy="609.9" r="0.6"/><circle cx="339.0" cy="524.8" r="0.5"/><circle cx="590.5" cy="564.7" r="0.7"/><circle cx="583.7" cy="763.4" r="0.5"/><circle cx="430.9" cy="652.1" r="0.7"/><circle cx="365.3" cy="711.7" r="0.7"/><circle cx="565.1" cy="522.1" r="0.8"/><circle cx="360.8" cy="603.1" r="0.6"/><circle cx="580.6" cy="602.9" r="0.8"/><circle cx="481.5" cy="595.6" r="0.5"/><circle cx="383.8" cy="533.1" r="0.5"/><circle cx="519.8" cy="777.9" r="0.5"/><circle cx="349.5" cy="775.3" r="0.6"/><circle cx="444.5" cy="575.6" r="0.6"/><circle cx="556.2" cy="633.7" r="0.6"/><circle cx="351.4" cy="756.4" r="0.4"/><circle cx="467.8" cy="735.7" r="0.5"/><circle cx="531.1" cy="765.4" r="0.7"/><circle cx="546.1" cy="540.7" r="0.6"/><circle cx="376.3" cy="737.4" r="0.5"/><circle cx="457.0" cy="778.6" r="0.7"/><circle cx="596.0" cy="633.2" r="0.6"/><circle cx="530.5" cy="640.0" r="0.5"/><circle cx="443.9" cy="551.3" r="0.6"/><circle cx="599.3" cy="768.1" r="0.7"/><circle cx="469.3" cy="602.5" r="0.4"/><circle cx="409.0" cy="720.7" r="0.7"/><circle cx="432.6" cy="721.8" r="0.7"/><circle cx="521.2" cy="689.3" r="0.7"/><circle cx="433.2" cy="700.0" r="0.5"/><circle cx="465.7" cy="717.4" r="0.7"/><circle cx="414.7" cy="764.3" r="0.7"/><circle cx="490.9" cy="515.4" r="0.6"/><circle cx="403.2" cy="691.3" r="0.6"/><circle cx="553.7" cy="684.8" r="0.7"/><circle cx="429.1" cy="683.9" r="0.7"/><circle cx="556.7" cy="605.6" r="0.7"/><circle cx="567.8" cy="695.7" r="0.8"/><circle cx="590.8" cy="650.4" r="0.6"/><circle cx="380.8" cy="735.3" r="0.8"/><circle cx="463.5" cy="696.6" r="0.7"/><circle cx="530.7" cy="558.1" r="0.7"/><circle cx="491.0" cy="689.7" r="0.6"/><circle cx="502.4" cy="718.8" r="0.7"/><circle cx="528.1" cy="519.7" r="0.5"/><circle cx="453.8" cy="685.6" r="0.5"/><circle cx="518.9" cy="680.4" r="0.4"/><circle cx="461.9" cy="572.6" r="0.4"/><circle cx="372.1" cy="596.9" r="0.5"/><circle cx="388.0" cy="521.8" r="0.6"/><circle cx="437.7" cy="675.3" r="0.6"/><circle cx="399.8" cy="753.0" r="0.4"/><circle cx="444.3" cy="586.5" r="0.6"/><circle cx="367.2" cy="733.9" r="0.5"/><circle cx="346.2" cy="675.8" r="0.4"/><circle cx="481.5" cy="602.7" r="0.6"/><circle cx="591.3" cy="730.4" r="0.6"/><circle cx="552.7" cy="683.5" r="0.5"/><circle cx="374.4" cy="671.1" r="0.6"/><circle cx="591.0" cy="770.3" r="0.6"/><circle cx="429.9" cy="750.4" r="0.4"/><circle cx="365.3" cy="663.1" r="0.6"/><circle cx="374.0" cy="680.1" r="0.8"/><circle cx="436.5" cy="627.3" r="0.5"/><circle cx="414.1" cy="771.5" r="0.6"/><circle cx="592.1" cy="755.8" r="0.6"/><circle cx="405.7" cy="773.7" r="0.6"/><circle cx="447.0" cy="597.4" r="0.8"/><circle cx="467.3" cy="588.6" r="0.6"/><circle cx="369.0" cy="678.0" r="0.6"/><circle cx="414.5" cy="720.6" r="0.7"/><circle cx="340.1" cy="654.2" r="0.5"/><circle cx="585.2" cy="720.7" r="0.5"/><circle cx="407.8" cy="553.5" r="0.8"/><circle cx="414.5" cy="674.3" r="0.6"/><circle cx="508.0" cy="673.2" r="0.7"/><circle cx="368.0" cy="714.9" r="0.5"/><circle cx="478.4" cy="601.9" r="0.5"/><circle cx="477.4" cy="636.0" r="0.5"/><circle cx="534.6" cy="669.7" r="0.4"/><circle cx="403.7" cy="633.7" r="0.8"/><circle cx="572.6" cy="657.7" r="0.4"/><circle cx="543.5" cy="626.3" r="0.6"/><circle cx="524.8" cy="680.8" r="0.6"/><circle cx="578.9" cy="615.0" r="0.6"/><circle cx="563.0" cy="564.7" r="0.5"/><circle cx="557.2" cy="529.9" r="0.7"/><circle cx="521.2" cy="627.6" r="0.5"/><circle cx="544.1" cy="755.0" r="0.5"/><circle cx="463.8" cy="658.6" r="0.6"/><circle cx="424.5" cy="553.2" r="0.6"/><circle cx="552.4" cy="530.5" r="0.5"/><circle cx="554.4" cy="723.3" r="0.7"/><circle cx="343.4" cy="704.9" r="0.8"/><circle cx="602.0" cy="699.2" r="0.4"/><circle cx="560.4" cy="570.7" r="0.7"/><circle cx="589.7" cy="702.2" r="0.5"/><circle cx="414.3" cy="756.9" r="0.5"/><circle cx="498.9" cy="622.6" r="0.5"/><circle cx="502.0" cy="523.9" r="0.4"/><circle cx="437.4" cy="531.5" r="0.4"/><circle cx="489.5" cy="710.1" r="0.8"/><circle cx="372.3" cy="627.3" r="0.5"/><circle cx="496.1" cy="642.8" r="0.8"/><circle cx="436.1" cy="527.2" r="0.7"/><circle cx="376.8" cy="680.6" r="0.6"/><circle cx="578.6" cy="660.2" r="0.6"/><circle cx="406.6" cy="659.3" r="0.5"/><circle cx="536.1" cy="650.1" r="0.5"/><circle cx="398.9" cy="611.2" r="0.7"/><circle cx="384.3" cy="702.4" r="0.7"/><circle cx="359.3" cy="690.3" r="0.4"/><circle cx="369.8" cy="670.6" r="0.5"/><circle cx="569.7" cy="640.3" r="0.5"/><circle cx="548.3" cy="520.2" r="0.7"/><circle cx="350.9" cy="552.5" r="0.8"/><circle cx="517.6" cy="571.8" r="0.4"/><circle cx="595.1" cy="689.5" r="0.7"/><circle cx="373.7" cy="678.8" r="0.5"/><circle cx="399.1" cy="601.1" r="0.6"/><circle cx="429.3" cy="615.1" r="0.5"/><circle cx="557.5" cy="685.0" r="0.7"/><circle cx="451.8" cy="739.2" r="0.6"/><circle cx="494.1" cy="665.1" r="0.7"/><circle cx="441.7" cy="538.2" r="0.4"/><circle cx="390.4" cy="522.8" r="0.8"/><circle cx="464.4" cy="714.9" r="0.4"/><circle cx="461.6" cy="749.4" r="0.6"/><circle cx="450.5" cy="636.4" r="0.4"/><circle cx="377.7" cy="554.7" r="0.5"/><circle cx="439.1" cy="746.9" r="0.5"/><circle cx="404.1" cy="586.2" r="0.5"/><circle cx="412.9" cy="575.0" r="0.6"/><circle cx="345.1" cy="758.7" r="0.5"/><circle cx="585.9" cy="695.6" r="0.7"/><circle cx="462.0" cy="764.3" r="0.4"/><circle cx="514.3" cy="589.9" r="0.7"/><circle cx="530.4" cy="555.8" r="0.5"/><circle cx="343.2" cy="573.7" r="0.4"/><circle cx="443.2" cy="771.8" r="0.5"/><circle cx="419.5" cy="637.0" r="0.5"/><circle cx="531.3" cy="703.6" r="0.5"/><circle cx="400.5" cy="691.4" r="0.8"/><circle cx="508.3" cy="627.1" r="0.8"/><circle cx="338.3" cy="528.5" r="0.7"/><circle cx="445.6" cy="524.3" r="0.6"/><circle cx="599.6" cy="650.6" r="0.5"/><circle cx="361.5" cy="531.3" r="0.8"/><circle cx="467.2" cy="761.7" r="0.4"/><circle cx="401.3" cy="525.7" r="0.6"/><circle cx="352.6" cy="580.4" r="0.6"/><circle cx="417.9" cy="526.0" r="0.4"/><circle cx="594.9" cy="560.1" r="0.6"/><circle cx="443.5" cy="653.9" r="0.4"/><circle cx="420.0" cy="541.1" r="0.6"/><circle cx="581.5" cy="671.7" r="0.7"/><circle cx="393.6" cy="516.9" r="0.6"/><circle cx="465.9" cy="664.6" r="0.6"/><circle cx="502.8" cy="705.7" r="0.8"/><circle cx="418.4" cy="632.0" r="0.7"/><circle cx="396.1" cy="543.1" r="0.5"/><circle cx="359.9" cy="718.1" r="0.7"/><circle cx="419.8" cy="546.9" r="0.4"/><circle cx="401.7" cy="534.8" r="0.6"/><circle cx="490.0" cy="577.7" r="0.4"/><circle cx="522.8" cy="525.1" r="0.5"/><circle cx="412.6" cy="611.9" r="0.4"/><circle cx="448.4" cy="596.0" r="0.7"/><circle cx="484.4" cy="751.1" r="0.7"/><circle cx="538.5" cy="665.5" r="0.6"/><circle cx="553.7" cy="687.0" r="0.8"/><circle cx="530.1" cy="699.2" r="0.5"/><circle cx="552.4" cy="614.2" r="0.5"/><circle cx="354.1" cy="557.4" r="0.5"/><circle cx="516.3" cy="588.4" r="0.4"/><circle cx="539.6" cy="660.8" r="0.4"/><circle cx="350.1" cy="547.0" r="0.5"/><circle cx="565.1" cy="765.3" r="0.6"/><circle cx="398.0" cy="626.6" r="0.5"/></g>
<g filter="url(#cellgrain)"><circle cx="472.2" cy="570.9" r="7.2" fill="url(#rc)"/><circle cx="392.4" cy="597.6" r="8.0" fill="url(#rc)"/><circle cx="392.4" cy="621.6" r="9.6" fill="url(#rc)"/><circle cx="429.6" cy="618.9" r="8.0" fill="url(#rc)"/><circle cx="440.3" cy="642.9" r="9.3" fill="url(#rc)"/><circle cx="419.0" cy="698.8" r="8.0" fill="url(#rc)"/><circle cx="525.3" cy="665.5" r="6.6" fill="url(#rc)"/><circle cx="501.4" cy="594.9" r="8.0" fill="url(#rc)"/><circle cx="589.1" cy="730.8" r="6.9" fill="url(#rc)"/><circle cx="582.5" cy="554.9" r="8.0" fill="url(#rc)"/><circle cx="456.2" cy="538.9" r="5.8" fill="url(#rc)"/><circle cx="396.4" cy="532.3" r="7.4" fill="url(#rc)"/><circle cx="354.4" cy="562.9" r="6.6" fill="url(#rc)"/><circle cx="343.2" cy="656.2" r="6.9" fill="url(#rc)"/><circle cx="354.4" cy="678.9" r="6.9" fill="url(#rc)"/><circle cx="363.2" cy="696.2" r="5.8" fill="url(#rc)"/><circle cx="448.2" cy="698.8" r="6.4" fill="url(#rc)"/><circle cx="551.9" cy="630.9" r="4.8" fill="url(#rc)"/><circle cx="416.3" cy="742.8" r="6.9" fill="url(#rc)"/><circle cx="367.7" cy="762.8" r="8.0" fill="url(#rc)"/><circle cx="474.0" cy="772.1" r="6.4" fill="url(#rc)"/><circle cx="492.1" cy="769.5" r="5.8" fill="url(#rc)"/><circle cx="586.5" cy="534.4" r="6.4" fill="url(#rc)"/><circle cx="578.5" cy="521.1" r="5.8" fill="url(#rc)"/><circle cx="363.2" cy="730.8" r="7.4" fill="url(#rc)"/><circle cx="408.4" cy="570.9" r="6.9" fill="url(#rc)"/><circle cx="512.0" cy="736.2" r="6.4" fill="url(#rc)"/><circle cx="562.5" cy="645.5" r="5.8" fill="url(#rc)"/></g>
</g></g>
<g clip-path="url(#pc2)"><g filter="url(#lens)">
<rect x="632.5" y="512.3" width="271.6" height="266.5" fill="#6c626c"/>
<rect x="572.5" y="452.29999999999995" width="391.6" height="386.5" filter="url(#tx2)" transform="rotate(-55 768.3 645.55)"/>
<g filter="url(#soft)" fill="#6c626c" stroke="#c0b4b6" stroke-width="1.8" stroke-linejoin="round">
<path d="M890.2 576.1C886.6 586.0 878.2 591.8 870.4 598.1C862.6 604.4 852.8 611.0 843.2 613.8C833.7 616.6 822.2 617.9 813.3 614.8C804.5 611.6 795.2 603.0 790.2 595.0C785.1 587.0 784.0 576.4 782.9 566.6C781.7 556.8 779.6 544.3 783.2 535.9C786.9 527.5 796.3 520.6 804.8 516.2C813.3 511.7 825.6 506.5 834.1 509.2C842.6 511.8 846.4 527.2 855.9 532.1C865.5 537.0 885.8 531.3 891.5 538.6C897.2 546.0 893.7 566.2 890.2 576.1Z"/>
<path d="M888.0 569.3C893.1 571.6 894.3 577.0 898.6 582.6C902.8 588.2 913.9 596.7 913.5 602.9C913.0 609.0 900.5 614.5 895.8 619.6C891.0 624.7 890.2 632.0 884.9 633.5C879.6 635.1 871.1 629.7 864.0 628.9C856.8 628.1 844.8 632.4 841.9 628.6C839.0 624.7 848.5 613.1 846.4 605.7C844.2 598.3 828.4 589.5 829.1 584.2C829.8 578.8 844.1 576.2 850.6 573.6C857.0 571.0 861.4 569.4 867.6 568.7C873.9 568.0 882.8 567.0 888.0 569.3Z"/>
<path d="M829.3 540.0C828.0 543.1 816.2 544.2 812.0 545.7C807.9 547.3 807.2 549.3 804.3 549.5C801.5 549.7 798.3 547.7 794.9 547.1C791.5 546.6 786.5 548.3 784.1 546.2C781.8 544.1 781.1 538.2 780.8 534.4C780.5 530.7 780.5 526.9 782.4 523.8C784.3 520.6 788.8 517.7 792.2 515.6C795.7 513.5 799.8 509.9 802.9 511.0C806.1 512.1 808.0 519.6 810.9 522.3C813.8 525.0 817.0 524.4 820.1 527.4C823.2 530.3 830.7 536.9 829.3 540.0Z"/>
<path d="M854.2 641.3C850.3 640.5 848.3 638.9 844.9 638.1C841.4 637.4 835.2 639.0 833.5 636.9C831.9 634.8 834.7 628.9 835.0 625.6C835.3 622.3 834.2 619.2 835.5 617.1C836.8 615.0 840.3 615.3 842.8 613.1C845.3 610.9 848.1 604.0 850.7 603.7C853.2 603.5 855.3 609.4 858.2 611.7C861.0 614.0 866.8 614.9 867.8 617.4C868.8 619.9 864.1 622.4 864.2 626.8C864.3 631.1 870.0 640.9 868.4 643.3C866.7 645.8 858.1 642.2 854.2 641.3Z"/>
<path d="M682.4 644.0C682.3 648.6 677.4 653.1 674.4 657.4C671.4 661.6 668.6 668.0 664.5 669.6C660.4 671.3 654.8 667.9 649.5 667.4C644.1 666.9 635.0 669.3 632.5 666.6C630.0 664.0 634.6 656.0 634.4 651.7C634.1 647.5 630.3 644.3 631.0 641.2C631.8 638.1 636.6 637.8 638.8 633.1C640.9 628.4 640.0 615.5 643.8 612.9C647.7 610.3 656.5 614.6 661.7 617.4C666.9 620.3 671.4 625.4 674.9 629.8C678.3 634.2 682.5 639.4 682.4 644.0Z"/>
<path d="M689.3 629.0C686.8 630.8 681.9 630.4 678.5 630.4C675.2 630.5 671.1 631.1 669.0 629.3C666.9 627.5 667.1 622.5 666.0 619.5C664.9 616.5 661.7 613.8 662.3 611.4C662.9 609.0 667.6 607.0 669.7 605.0C671.7 603.0 672.5 600.3 674.7 599.6C676.8 598.9 679.6 600.6 682.7 600.8C685.7 601.0 691.7 599.1 692.9 600.9C694.1 602.8 689.9 608.9 690.0 612.0C690.1 615.1 693.7 616.9 693.6 619.7C693.4 622.5 691.8 627.2 689.3 629.0Z"/>
<path d="M721.8 661.2C723.0 663.4 720.9 666.8 721.6 669.4C722.3 672.0 726.2 674.2 726.2 676.7C726.2 679.2 723.6 682.8 721.4 684.4C719.2 686.0 715.5 686.8 713.0 686.3C710.5 685.8 708.5 682.5 706.3 681.2C704.1 680.0 701.4 680.2 699.7 678.6C698.0 677.1 696.4 674.3 696.1 671.7C695.8 669.1 696.3 664.4 698.0 662.8C699.7 661.2 703.8 663.1 706.5 662.0C709.2 661.0 711.5 656.4 714.0 656.3C716.6 656.1 720.5 659.0 721.8 661.2Z"/>
<path d="M645.2 709.0C641.4 705.5 636.5 704.6 634.3 701.4C632.1 698.3 631.5 693.7 632.1 690.1C632.7 686.4 636.0 684.1 637.8 679.5C639.6 674.8 639.9 663.3 643.2 662.4C646.4 661.5 652.5 672.3 657.2 674.0C661.9 675.6 669.5 670.0 671.6 672.2C673.7 674.4 669.2 683.0 669.7 687.2C670.3 691.3 675.5 694.5 674.8 697.3C674.0 700.1 667.9 699.6 665.0 703.9C662.1 708.1 660.8 721.7 657.5 722.6C654.2 723.4 649.1 712.5 645.2 709.0Z"/>
<path d="M730.9 511.1C732.7 510.4 738.9 519.5 742.2 520.9C745.5 522.3 749.2 518.3 750.8 519.4C752.4 520.4 750.9 524.6 751.9 527.2C752.9 529.8 756.6 532.7 756.6 535.0C756.6 537.3 753.8 538.9 751.8 540.9C749.8 542.8 747.0 546.4 744.5 546.8C741.9 547.1 739.9 543.8 736.4 543.2C733.0 542.5 725.3 544.7 723.6 542.8C722.0 540.9 725.3 534.6 726.5 531.7C727.8 528.7 730.5 528.6 731.2 525.2C731.9 521.8 729.1 511.8 730.9 511.1Z"/>
<path d="M684.3 551.6C685.5 553.8 683.7 557.8 682.6 560.5C681.5 563.1 679.9 565.8 677.9 567.4C675.9 569.0 673.2 569.2 670.6 570.0C668.0 570.8 664.7 572.9 662.1 572.3C659.5 571.6 656.3 568.5 654.8 566.3C653.4 564.0 652.9 561.3 653.2 558.8C653.6 556.4 656.0 554.1 657.1 551.5C658.1 548.9 657.7 544.9 659.6 543.2C661.5 541.6 666.0 541.1 668.7 541.7C671.3 542.4 673.1 545.6 675.7 547.3C678.3 548.9 683.2 549.4 684.3 551.6Z"/>
<path d="M697.8 689.3C697.9 691.9 700.3 697.1 699.1 698.6C697.9 700.1 693.3 698.1 690.7 698.4C688.1 698.7 686.4 700.0 683.5 700.4C680.5 700.8 674.8 702.4 673.0 700.8C671.2 699.1 672.6 693.3 672.9 690.4C673.1 687.5 673.7 685.6 674.6 683.4C675.6 681.1 676.8 679.1 678.7 676.9C680.7 674.7 683.8 670.1 686.2 670.0C688.7 670.0 691.3 674.5 693.3 676.6C695.3 678.7 697.4 680.7 698.1 682.8C698.9 684.9 697.6 686.7 697.8 689.3Z"/>
</g>
<g filter="url(#soft)" fill="#6c626c">
<path d="M887.8 575.6C884.4 585.1 876.3 590.7 868.8 596.7C861.3 602.7 851.9 609.1 842.7 611.8C833.6 614.4 822.5 615.7 814.0 612.7C805.5 609.7 796.7 601.4 791.8 593.7C786.9 586.0 785.9 575.9 784.8 566.5C783.7 557.0 781.6 545.0 785.1 537.0C788.6 528.9 797.7 522.3 805.8 518.1C814.0 513.8 825.8 508.8 834.0 511.3C842.1 513.9 845.7 528.6 854.9 533.3C864.1 538.0 883.6 532.6 889.0 539.6C894.5 546.6 891.1 566.0 887.8 575.6Z"/>
<path d="M887.3 570.6C892.2 572.8 893.4 577.9 897.4 583.3C901.5 588.7 912.2 596.9 911.7 602.8C911.3 608.7 899.3 613.9 894.8 618.8C890.2 623.7 889.4 630.7 884.3 632.2C879.2 633.7 871.1 628.6 864.2 627.8C857.3 627.0 845.8 631.2 843.0 627.4C840.2 623.7 849.4 612.6 847.3 605.5C845.3 598.4 830.0 590.0 830.7 584.8C831.4 579.7 845.2 577.1 851.4 574.7C857.5 572.2 861.7 570.7 867.7 570.0C873.7 569.3 882.3 568.4 887.3 570.6Z"/>
<path d="M828.2 539.7C826.9 542.7 815.6 543.7 811.6 545.3C807.6 546.8 806.9 548.6 804.2 548.9C801.4 549.1 798.4 547.1 795.1 546.6C791.9 546.1 787.0 547.7 784.8 545.7C782.5 543.7 781.9 538.0 781.6 534.4C781.3 530.8 781.3 527.2 783.1 524.2C785.0 521.2 789.3 518.3 792.6 516.3C795.9 514.3 799.9 510.8 802.9 511.9C805.9 513.0 807.8 520.1 810.5 522.8C813.2 525.4 816.4 524.8 819.3 527.6C822.3 530.4 829.5 536.8 828.2 539.7Z"/>
<path d="M854.0 640.7C850.3 639.8 848.4 638.3 845.1 637.6C841.8 636.9 835.8 638.4 834.2 636.4C832.6 634.4 835.3 628.7 835.6 625.6C835.9 622.4 834.9 619.4 836.1 617.4C837.3 615.4 840.7 615.7 843.1 613.5C845.5 611.4 848.2 604.8 850.6 604.6C853.1 604.3 855.1 610.0 857.8 612.2C860.6 614.4 866.2 615.3 867.1 617.7C868.1 620.1 863.5 622.5 863.6 626.7C863.7 630.8 869.2 640.2 867.6 642.6C866.0 644.9 857.8 641.5 854.0 640.7Z"/>
<path d="M681.2 644.1C681.1 648.5 676.3 652.8 673.5 656.9C670.6 661.0 668.0 667.1 664.0 668.7C660.0 670.3 654.7 667.0 649.6 666.6C644.4 666.1 635.7 668.3 633.3 665.8C630.8 663.3 635.3 655.6 635.0 651.5C634.8 647.4 631.2 644.3 631.9 641.3C632.6 638.4 637.2 638.1 639.3 633.6C641.3 629.1 640.5 616.7 644.2 614.2C647.8 611.7 656.3 615.9 661.3 618.6C666.3 621.3 670.6 626.2 673.9 630.4C677.2 634.7 681.2 639.7 681.2 644.1Z"/>
<path d="M688.8 628.4C686.4 630.1 681.8 629.7 678.5 629.7C675.3 629.8 671.4 630.4 669.4 628.7C667.4 626.9 667.6 622.1 666.5 619.2C665.4 616.4 662.4 613.8 662.9 611.5C663.5 609.2 668.1 607.2 670.0 605.3C672.0 603.4 672.7 600.8 674.8 600.2C676.9 599.5 679.6 601.1 682.5 601.3C685.5 601.5 691.2 599.6 692.3 601.4C693.5 603.2 689.4 609.0 689.5 612.0C689.6 615.1 693.1 616.7 693.0 619.5C692.8 622.2 691.2 626.7 688.8 628.4Z"/>
<path d="M721.4 661.6C722.6 663.7 720.5 667.0 721.2 669.5C721.9 672.0 725.6 674.1 725.6 676.5C725.6 678.9 723.1 682.4 721.0 683.9C718.9 685.4 715.3 686.2 712.9 685.7C710.5 685.2 708.6 682.1 706.5 680.9C704.4 679.7 701.8 679.9 700.2 678.4C698.5 676.9 697.0 674.2 696.7 671.7C696.5 669.2 696.9 664.8 698.5 663.2C700.2 661.7 704.1 663.5 706.7 662.5C709.2 661.4 711.5 657.1 713.9 656.9C716.4 656.8 720.2 659.5 721.4 661.6Z"/>
<path d="M645.6 708.3C641.9 704.9 637.2 704.1 635.1 701.0C633.0 698.0 632.4 693.6 633.0 690.1C633.5 686.6 636.7 684.3 638.5 679.9C640.2 675.5 640.5 664.4 643.6 663.5C646.7 662.7 652.5 673.1 657.1 674.6C661.6 676.2 668.9 670.8 670.9 672.9C672.9 675.1 668.6 683.3 669.1 687.3C669.6 691.3 674.7 694.4 673.9 697.0C673.2 699.7 667.3 699.3 664.6 703.3C661.8 707.4 660.5 720.5 657.4 721.3C654.2 722.1 649.3 711.7 645.6 708.3Z"/>
<path d="M731.3 511.9C733.1 511.2 739.0 520.0 742.1 521.3C745.3 522.6 748.8 518.8 750.4 519.8C751.9 520.8 750.5 524.9 751.5 527.4C752.4 529.9 756.0 532.7 756.0 534.8C756.0 537.0 753.3 538.6 751.4 540.5C749.4 542.3 746.8 545.7 744.3 546.1C741.9 546.5 740.0 543.3 736.6 542.7C733.3 542.1 725.9 544.2 724.3 542.3C722.7 540.5 725.9 534.5 727.1 531.6C728.3 528.8 730.9 528.7 731.6 525.4C732.3 522.1 729.5 512.6 731.3 511.9Z"/>
<path d="M683.7 551.8C684.8 553.9 683.0 557.8 682.0 560.3C681.0 562.9 679.4 565.5 677.5 567.0C675.6 568.6 673.0 568.7 670.5 569.5C668.0 570.3 664.9 572.3 662.3 571.7C659.8 571.1 656.8 568.1 655.4 565.9C653.9 563.8 653.5 561.1 653.8 558.8C654.2 556.4 656.5 554.2 657.5 551.8C658.5 549.3 658.1 545.4 659.9 543.8C661.8 542.2 666.1 541.7 668.6 542.4C671.2 543.0 672.9 546.1 675.4 547.7C677.9 549.2 682.6 549.7 683.7 551.8Z"/>
<path d="M697.3 689.2C697.5 691.8 699.7 696.7 698.6 698.2C697.5 699.6 693.0 697.7 690.5 698.0C688.0 698.3 686.4 699.6 683.6 700.0C680.8 700.3 675.3 701.9 673.6 700.3C671.9 698.7 673.2 693.1 673.4 690.3C673.7 687.5 674.2 685.7 675.1 683.6C676.1 681.4 677.2 679.5 679.1 677.4C680.9 675.2 683.9 670.8 686.3 670.7C688.6 670.7 691.2 675.0 693.1 677.1C695.0 679.1 697.0 681.0 697.7 683.0C698.4 685.1 697.2 686.7 697.3 689.2Z"/>
</g>
<g filter="url(#soft2)" fill="#312e3a" stroke="#c2b9b4" stroke-width="1.4" stroke-linejoin="round" opacity="1.0"><path d="M788 611C787 612 784 609 783 608C782 608 782 606 779 607C777 608 767 614 766 614C766 613 775 606 776 604C778 602 778 601 778 600C778 598 776 593 777 593C778 593 782 597 783 598C785 600 785 602 786 604C787 606 788 611 788 611Z"/><path d="M668 786C667 786 677 778 680 776C682 775 682 775 685 775C689 775 702 775 703 775C703 776 690 779 687 780C684 781 685 780 682 781C679 782 668 787 668 786Z"/><path d="M852 631C852 631 852 643 852 646C853 648 853 649 854 651C855 652 858 657 858 657C857 658 853 656 851 655C850 655 849 654 846 654C844 655 837 659 836 658C836 658 844 652 845 650C847 648 847 649 848 647C849 644 851 632 852 631Z"/><path d="M718 617C718 616 732 619 735 619C738 619 737 620 740 617C742 615 750 601 750 601C751 601 745 616 744 619C743 622 742 621 744 623C746 626 759 636 758 636C758 637 744 628 740 626C737 624 739 625 736 624C733 622 718 618 718 617Z"/><path d="M870 772C869 771 882 761 884 759C887 757 886 757 888 756C889 755 894 751 895 751C895 752 894 757 893 759C892 761 891 762 888 764C884 766 870 773 870 772Z"/><path d="M648 528C647 528 643 524 642 523C641 521 640 519 639 517C638 515 634 508 634 508C635 507 642 513 644 514C646 516 646 517 647 519C647 521 649 527 648 528Z"/><path d="M812 625C811 625 808 617 807 615C807 613 807 613 807 609C808 605 811 590 812 590C813 589 814 604 814 608C814 612 814 612 814 615C814 617 813 625 812 625Z"/><path d="M725 688C726 689 722 695 721 697C719 699 717 700 715 701C713 702 707 704 706 703C706 703 711 698 712 696C714 695 714 695 716 694C718 692 724 688 725 688Z"/><path d="M706 565C705 565 713 549 715 546C716 542 716 544 719 541C721 538 734 527 734 528C735 528 727 541 725 544C723 548 722 547 720 550C717 553 707 566 706 565Z"/><path d="M902 565C902 566 892 562 889 561C886 560 885 559 883 558C880 557 871 553 871 553C871 552 881 553 884 553C886 553 886 553 886 551C887 550 888 544 888 544C889 544 889 550 890 552C890 553 889 553 891 555C893 557 902 564 902 565Z"/><path d="M799 694C799 694 800 701 800 703C800 706 800 705 799 709C798 712 795 727 794 727C793 727 793 712 794 709C794 705 794 705 795 703C795 701 798 694 799 694Z"/><path d="M710 613C710 612 717 628 719 632C721 635 720 634 720 636C721 639 722 647 722 648C721 648 716 642 715 640C713 638 713 637 713 633C712 629 709 613 710 613Z"/><path d="M662 564C662 564 665 576 665 578C666 581 666 581 668 582C670 583 678 585 678 586C678 587 669 587 667 587C664 587 663 587 661 587C658 587 648 588 648 588C648 587 658 584 660 583C661 582 661 583 662 580C662 578 661 565 662 564Z"/><path d="M812 653C812 654 807 656 806 657C804 658 804 657 802 660C799 662 788 675 787 674C786 674 794 659 796 656C799 652 801 652 804 651C806 651 811 652 812 653Z"/><path d="M751 669C750 669 750 660 749 658C749 655 750 655 749 652C749 650 746 639 747 638C748 638 754 648 755 650C757 653 757 655 756 658C755 660 752 669 751 669Z"/><path d="M677 551C677 550 689 558 692 560C694 562 694 562 696 564C699 567 711 577 710 578C710 579 696 571 692 570C689 568 690 568 688 565C686 563 676 551 677 551Z"/><path d="M816 680C816 680 821 680 822 680C824 680 824 682 828 680C831 679 844 670 844 671C845 672 832 683 829 685C827 688 828 686 827 689C825 691 822 700 821 700C820 700 822 691 822 689C822 687 822 686 821 685C820 684 816 681 816 680Z"/><path d="M688 529C688 529 675 525 672 524C669 523 669 522 666 520C663 518 652 510 652 509C652 508 665 514 668 515C670 515 670 516 672 514C674 513 682 503 683 504C683 504 676 514 674 517C673 519 673 518 674 519C676 521 688 528 688 529Z"/><path d="M829 705C828 704 830 691 831 688C832 685 833 684 835 682C838 680 848 673 848 674C849 674 842 683 840 686C839 688 839 688 837 690C835 693 830 705 829 705Z"/><path d="M804 756C805 755 813 763 816 765C818 767 819 768 821 769C822 770 825 773 825 774C825 775 821 774 820 774C819 775 817 774 816 776C815 777 811 785 811 785C810 784 812 776 812 773C812 771 813 771 812 769C811 766 804 757 804 756Z"/><path d="M865 629C865 630 854 641 851 643C848 645 847 644 845 644C843 643 835 639 835 638C835 637 842 638 844 638C846 638 846 639 849 637C852 636 865 628 865 629Z"/><path d="M772 645C772 645 780 649 782 651C784 653 785 658 784 660C784 662 781 667 780 667C779 667 778 662 777 661C777 659 777 658 776 656C775 653 771 646 772 645Z"/><path d="M780 778C780 778 779 770 778 767C778 765 778 764 778 762C779 760 779 754 780 754C781 754 783 760 784 761C784 763 784 764 784 767C783 769 781 778 780 778Z"/><path d="M727 595C728 595 725 600 725 601C724 603 724 603 724 605C725 607 729 616 728 616C728 617 723 610 721 608C719 606 720 606 717 605C714 604 702 603 702 603C701 602 713 601 716 600C719 599 720 599 722 598C723 597 727 594 727 595Z"/><path d="M788 730C787 730 799 721 802 719C804 717 804 717 805 715C807 712 810 701 811 701C812 702 812 714 811 718C811 721 810 722 807 724C803 725 789 731 788 730Z"/><path d="M716 584C715 583 724 573 726 571C729 569 730 569 733 569C737 568 751 568 751 569C751 570 737 573 734 574C731 575 733 574 730 576C728 577 716 585 716 584Z"/><path d="M696 542C696 542 706 542 708 541C710 541 710 540 711 539C712 538 714 533 714 533C715 533 715 539 715 541C715 543 715 542 715 546C715 549 716 564 715 564C715 564 712 550 711 547C710 544 711 545 709 545C707 544 696 543 696 542Z"/><path d="M911 720C911 720 897 725 894 727C891 728 892 728 890 729C889 730 885 734 885 734C884 734 886 729 886 728C887 726 887 726 887 724C886 722 881 715 881 714C882 714 888 720 889 721C891 722 890 723 893 722C896 722 911 719 911 720Z"/><path d="M693 593C694 593 699 598 700 600C701 602 701 606 700 608C699 610 694 617 693 617C692 617 693 610 693 608C693 605 693 604 693 601C693 599 692 593 693 593Z"/><path d="M649 770C648 770 643 770 641 770C639 770 638 769 636 768C634 767 628 764 628 763C628 762 635 762 637 762C639 762 641 763 643 764C645 765 649 769 649 770Z"/><path d="M703 538C702 537 713 527 715 525C716 523 717 524 715 522C712 520 698 511 699 510C699 510 713 518 717 519C720 520 718 520 721 520C724 520 736 517 736 517C736 518 726 524 724 525C721 527 721 526 718 528C715 530 703 538 703 538Z"/><path d="M835 711C835 712 821 712 818 712C815 712 814 711 811 710C807 710 792 708 792 707C792 706 808 704 812 704C815 704 814 704 817 705C821 706 835 710 835 711Z"/><path d="M790 527C789 528 780 519 778 517C776 515 776 515 775 512C775 509 774 495 774 495C775 494 780 505 781 508C782 511 782 512 784 515C785 517 790 527 790 527Z"/><path d="M746 640C746 640 737 651 735 653C734 656 734 654 734 657C734 660 737 676 737 676C736 676 731 662 729 659C728 655 729 657 727 654C725 651 715 639 715 638C715 637 726 647 729 649C731 651 731 651 733 650C736 648 745 639 746 640Z"/><path d="M788 659C789 659 786 664 786 666C785 667 784 668 786 670C787 672 795 679 795 679C795 680 785 675 782 674C780 673 780 672 776 671C773 671 757 669 757 668C757 667 773 667 777 666C780 666 779 665 781 664C783 663 787 659 788 659Z"/><path d="M741 614C741 615 733 620 731 621C730 623 730 622 731 624C732 625 739 633 739 634C739 634 730 627 728 626C726 625 727 625 725 624C723 624 714 624 714 623C713 623 721 620 724 620C726 619 727 619 729 618C731 617 740 614 741 614Z"/><path d="M900 661C899 660 898 653 898 650C899 648 899 647 902 645C906 642 921 634 922 634C922 635 909 646 907 649C904 651 905 651 904 652C903 654 900 661 900 661Z"/><path d="M707 559C707 558 713 563 715 565C717 566 716 566 719 568C722 569 733 574 733 574C733 575 722 573 719 573C717 572 717 572 715 574C713 576 707 586 707 586C706 585 711 574 712 571C713 569 712 569 712 568C711 566 706 559 707 559Z"/><path d="M897 513C897 514 890 512 888 511C886 511 886 510 884 509C881 508 870 506 870 505C871 504 882 504 885 504C887 504 888 505 890 506C892 507 897 512 897 513Z"/><path d="M716 513C717 513 712 523 711 525C710 527 709 528 709 530C708 532 706 539 705 539C705 538 703 531 703 528C703 526 703 525 705 523C707 521 716 513 716 513Z"/><path d="M723 633C723 632 732 631 734 630C737 630 737 630 740 631C743 631 757 632 757 633C757 634 744 636 740 637C737 637 737 637 735 636C732 636 723 634 723 633Z"/><path d="M740 556C739 555 743 553 745 553C747 552 749 552 753 552C756 552 768 549 768 550C769 551 756 555 754 556C752 558 753 557 753 559C754 560 758 566 758 567C758 567 752 562 750 560C749 559 748 559 747 558C745 558 740 557 740 556Z"/><path d="M689 651C688 651 693 642 693 640C694 638 695 639 694 636C693 633 686 619 686 618C687 618 695 630 697 633C699 635 699 635 701 636C702 636 707 637 707 638C707 639 702 640 700 640C699 641 698 640 697 642C695 643 689 652 689 651Z"/><path d="M871 621C872 621 864 633 862 636C860 638 860 639 858 640C857 642 852 648 851 647C851 647 853 639 854 637C855 635 854 635 857 633C860 630 871 620 871 621Z"/><path d="M749 802C748 802 748 790 748 787C748 783 748 783 748 780C749 777 751 764 752 765C753 765 754 778 754 781C755 784 755 783 754 786C753 789 750 802 749 802Z"/><path d="M913 672C913 672 906 668 904 667C903 666 903 665 901 667C899 669 893 680 892 679C891 679 896 667 897 664C898 661 898 662 900 658C901 655 907 640 907 640C908 640 906 655 905 659C905 662 905 662 907 663C908 665 914 671 913 672Z"/><path d="M652 774C652 774 635 777 632 778C628 779 631 778 627 779C624 780 607 786 607 785C606 785 621 776 625 774C628 772 627 773 631 773C635 773 652 773 652 774Z"/><path d="M651 714C652 714 651 719 650 721C650 722 649 722 650 726C651 729 656 744 655 744C655 744 646 730 644 727C642 723 643 722 644 720C645 718 650 713 651 714Z"/><path d="M758 790C757 790 760 782 761 780C761 778 761 778 761 776C760 774 754 767 755 766C755 766 763 772 765 773C767 774 766 775 769 775C771 775 782 776 782 776C782 777 772 779 770 779C767 780 767 780 766 781C764 783 759 790 758 790Z"/><path d="M720 802C719 802 713 789 711 786C709 784 710 785 709 785C707 785 700 786 699 786C699 785 704 781 706 780C708 779 710 779 713 778C716 776 726 771 727 772C727 773 719 780 717 782C715 784 715 783 715 786C716 789 720 802 720 802Z"/><path d="M758 636C759 636 757 640 757 642C756 644 755 645 754 647C753 650 753 658 752 658C751 658 750 650 750 648C749 646 750 646 747 646C744 646 728 649 728 648C728 647 744 643 748 642C751 640 750 641 752 640C753 639 758 636 758 636Z"/><path d="M817 646C816 646 820 635 820 633C821 630 821 631 821 629C822 626 823 615 824 614C824 614 827 625 827 628C827 631 827 632 825 635C824 637 818 646 817 646Z"/><path d="M889 553C889 553 900 564 902 566C905 569 905 568 906 569C907 570 912 572 912 573C912 573 906 574 905 574C903 574 902 573 900 573C898 573 890 574 890 574C890 573 897 571 898 571C899 570 901 571 899 569C898 566 889 554 889 553Z"/><path d="M815 644C815 643 820 641 822 641C824 641 825 641 829 642C832 642 849 645 849 646C849 647 833 648 829 649C825 649 824 649 822 648C820 647 815 645 815 644Z"/><path d="M791 717C791 716 796 715 798 714C800 714 802 714 804 713C806 712 813 709 813 709C813 710 807 715 806 717C805 718 805 718 805 720C806 722 810 729 810 730C809 730 804 724 802 723C801 721 800 721 798 720C797 719 791 718 791 717Z"/><path d="M768 622C769 622 770 636 771 639C771 642 771 641 772 643C772 645 776 652 776 653C775 653 769 648 767 646C766 644 765 644 765 640C766 637 767 622 768 622Z"/><path d="M692 493C692 493 695 503 696 505C697 507 697 508 698 510C699 511 702 516 702 516C701 517 697 515 695 514C693 514 691 513 690 512C688 512 682 511 682 510C682 509 687 508 689 508C690 507 691 507 691 505C692 503 691 493 692 493Z"/><path d="M692 783C691 782 694 777 695 776C697 774 699 773 702 772C704 771 712 769 712 770C712 771 707 776 705 778C703 779 702 780 700 780C698 781 692 784 692 783Z"/><path d="M685 722C684 723 674 716 672 714C669 712 669 711 668 708C667 704 665 690 665 690C666 689 672 702 674 705C675 708 675 707 676 710C678 712 685 722 685 722Z"/><path d="M768 723C767 723 771 713 771 711C772 708 773 709 772 706C771 704 766 691 766 691C767 691 773 703 775 705C776 707 774 707 777 706C780 705 795 697 795 697C796 698 784 707 781 709C778 711 778 712 776 713C774 715 769 723 768 723Z"/><path d="M852 710C853 710 859 724 860 727C861 730 860 730 859 733C858 735 854 744 853 744C852 744 853 735 853 733C853 730 854 730 854 727C854 724 851 710 852 710Z"/><path d="M759 662C760 662 768 669 770 670C772 672 772 672 774 674C775 676 781 682 781 683C780 683 772 680 770 678C768 677 768 677 766 675C765 672 759 663 759 662Z"/><path d="M768 753C767 753 770 744 771 741C771 738 772 737 773 735C774 733 775 728 776 728C777 729 779 734 780 736C780 738 779 740 778 743C776 745 769 753 768 753Z"/><path d="M808 723C808 723 808 728 808 730C808 731 807 733 807 735C808 737 811 744 810 745C810 745 805 738 804 737C802 736 802 736 800 735C799 735 793 736 793 736C792 735 797 732 798 731C799 730 801 729 802 728C804 727 807 723 808 723Z"/><path d="M687 675C686 675 683 670 683 668C682 665 683 663 685 660C686 656 695 642 696 642C697 642 693 658 692 661C691 665 691 666 690 668C689 670 688 675 687 675Z"/><path d="M722 520C721 519 724 516 725 515C726 514 727 513 727 511C727 510 725 503 725 503C726 503 730 510 731 511C732 513 730 513 733 513C736 512 748 508 748 509C749 510 738 515 736 517C733 518 731 519 729 519C727 520 722 521 722 520Z"/><path d="M796 565C796 566 784 567 781 568C778 568 776 567 774 566C771 565 764 562 764 561C764 560 772 559 774 559C777 559 778 559 782 560C785 561 796 564 796 565Z"/><path d="M765 601C765 601 773 592 774 590C776 588 776 589 775 587C774 586 770 578 770 578C771 578 777 583 778 584C780 586 780 587 782 588C784 590 792 597 792 598C792 598 782 593 780 592C778 592 779 591 777 592C775 594 766 601 765 601Z"/><path d="M923 698C924 698 914 707 912 709C910 712 909 712 907 713C905 715 898 721 897 721C897 720 901 711 902 709C904 707 905 706 907 705C910 703 922 697 923 698Z"/><path d="M672 639C672 638 677 631 678 629C680 627 680 627 681 625C682 622 685 613 686 613C687 613 687 624 686 626C686 629 685 630 683 632C681 633 673 639 672 639Z"/><path d="M624 661C624 661 631 661 633 661C635 661 635 662 638 660C641 658 651 647 652 648C652 648 642 661 641 664C639 667 639 665 639 668C639 671 638 684 638 684C637 684 635 672 635 670C634 667 634 667 632 666C631 665 623 662 624 661Z"/><path d="M708 538C707 538 714 528 716 525C717 523 718 523 718 520C718 517 718 503 719 503C719 503 722 517 723 520C724 523 724 522 725 524C727 525 734 531 733 531C733 532 725 528 723 527C722 527 722 526 720 527C718 529 708 539 708 538Z"/><path d="M883 753C883 752 890 754 892 754C894 754 894 755 898 756C901 756 915 758 915 759C915 760 900 761 897 761C893 761 893 761 891 760C889 759 883 754 883 753Z"/><path d="M699 537C700 538 689 543 686 544C684 546 683 546 682 548C680 549 677 556 676 556C675 556 677 549 677 547C677 545 677 544 676 543C675 542 669 539 670 539C670 538 676 538 678 538C680 538 680 539 684 539C687 539 699 536 699 537Z"/><path d="M715 571C715 571 719 583 720 586C721 589 720 590 720 592C720 595 720 603 720 603C719 603 716 595 715 593C714 591 714 591 714 588C714 584 714 571 715 571Z"/><path d="M869 557C868 558 863 546 862 543C861 540 861 540 862 538C863 535 867 528 867 528C868 528 867 536 867 538C867 540 867 539 867 542C867 545 869 557 869 557Z"/><path d="M894 736C895 737 882 743 879 745C876 746 876 746 874 748C873 749 868 754 867 754C866 753 868 745 869 743C871 741 872 740 875 739C879 738 894 735 894 736Z"/><path d="M890 521C891 522 883 526 882 528C881 530 880 530 880 532C880 534 882 540 881 540C881 541 878 535 876 534C875 532 876 531 873 531C870 532 854 535 854 535C854 534 869 528 873 526C876 525 876 525 878 524C881 524 890 521 890 521Z"/><path d="M784 532C785 532 777 547 775 550C774 553 774 552 773 555C773 559 773 575 772 575C771 575 766 559 766 555C765 551 766 550 768 547C771 543 783 531 784 532Z"/><path d="M680 730C681 731 670 736 668 737C665 738 664 738 661 738C657 739 642 744 642 743C641 742 654 734 658 732C661 730 662 730 665 730C669 729 680 729 680 730Z"/><path d="M832 779C831 779 823 776 821 774C819 772 818 768 819 765C819 763 823 757 823 757C824 757 824 764 825 766C825 767 825 767 826 769C827 771 833 778 832 779Z"/><path d="M892 774C892 773 903 773 906 773C909 773 910 773 912 774C914 775 921 779 921 779C921 780 914 781 911 781C909 781 908 780 905 779C902 778 892 775 892 774Z"/><path d="M750 563C750 564 747 569 745 570C743 572 741 573 739 574C736 574 729 576 728 575C728 574 733 569 735 568C737 566 739 565 741 564C743 564 749 562 750 563Z"/><path d="M662 751C662 752 658 758 656 759C654 760 651 761 648 761C644 760 631 758 631 757C631 756 644 755 647 754C650 753 650 753 652 753C654 753 661 751 662 751Z"/><path d="M826 716C825 717 815 707 813 704C811 702 811 700 811 697C811 693 811 680 812 680C813 679 816 693 817 696C817 699 817 697 818 700C819 703 827 715 826 716Z"/><path d="M737 686C736 686 734 678 733 676C732 674 732 674 731 673C730 671 725 668 725 667C725 667 730 668 732 668C733 668 734 669 737 668C739 668 746 664 747 665C748 665 742 670 740 672C739 674 738 674 738 677C737 679 738 686 737 686Z"/><path d="M653 776C653 775 665 777 667 778C670 778 669 778 672 778C675 778 691 778 691 779C691 780 676 783 673 784C669 784 669 784 666 783C663 782 653 777 653 776Z"/><path d="M718 676C717 676 723 661 725 658C726 654 726 654 727 652C728 649 732 640 732 640C733 640 733 651 733 654C733 657 733 656 731 659C729 662 718 676 718 676Z"/><path d="M721 556C720 555 727 550 729 548C731 546 733 546 736 545C739 544 748 540 748 541C749 542 742 549 740 551C738 553 736 554 733 555C730 555 721 557 721 556Z"/><path d="M868 727C868 726 878 720 880 718C883 717 882 717 886 716C890 715 906 711 907 712C907 713 893 720 889 722C886 724 885 724 882 724C879 725 868 728 868 727Z"/><path d="M738 675C738 676 728 684 726 686C724 689 723 688 722 691C721 694 717 707 716 707C716 707 717 693 717 691C717 688 717 688 715 687C714 686 707 685 707 684C707 683 714 683 716 682C718 682 719 683 722 682C725 681 737 674 738 675Z"/><path d="M885 557C884 557 887 542 888 538C889 535 888 536 890 533C891 529 896 514 897 514C898 514 896 530 896 534C895 538 895 537 894 540C892 543 886 558 885 557Z"/><path d="M854 657C855 657 841 661 838 662C835 664 836 662 835 665C835 668 836 680 835 680C834 681 832 669 831 667C830 664 831 664 828 662C826 661 814 656 814 655C814 654 827 657 830 657C834 657 833 658 837 658C840 658 854 656 854 657Z"/><path d="M624 686C623 685 626 677 627 675C629 673 628 673 631 671C634 669 646 662 647 662C648 663 639 672 637 675C635 677 633 678 632 680C630 681 624 687 624 686Z"/><path d="M897 646C896 646 888 636 886 634C883 632 885 633 882 632C880 631 867 627 867 627C866 626 878 627 881 627C883 627 883 628 885 625C886 623 890 609 891 609C892 609 890 623 889 626C889 630 889 629 890 632C891 635 898 646 897 646Z"/><path d="M753 702C753 703 744 701 741 700C738 700 738 699 735 698C732 696 720 691 720 690C721 689 733 690 736 690C740 691 741 692 743 693C746 695 754 701 753 702Z"/><path d="M764 683C764 682 775 674 777 672C779 670 779 669 780 668C780 666 780 660 781 660C782 660 783 666 784 668C785 669 785 670 787 672C788 673 796 678 795 679C795 679 787 676 785 676C783 676 783 675 780 676C777 677 765 683 764 683Z"/><path d="M817 684C816 685 803 675 800 673C797 671 799 672 796 671C793 671 776 671 776 670C776 670 792 666 796 665C800 665 800 665 803 668C806 671 817 684 817 684Z"/><path d="M639 559C639 558 649 569 651 571C653 573 651 572 654 573C657 573 671 574 671 574C672 575 658 576 655 576C652 577 653 576 652 578C651 580 647 590 646 590C645 591 647 581 647 578C647 576 647 575 646 572C645 570 638 559 639 559Z"/><path d="M759 587C759 587 772 590 774 590C777 590 776 590 778 589C780 588 786 581 787 581C787 581 783 589 782 590C781 592 780 592 782 594C784 596 793 603 793 604C792 604 781 598 778 597C776 596 777 596 774 595C771 593 759 588 759 587Z"/><path d="M825 756C825 756 835 768 838 770C840 773 839 772 841 772C843 773 852 774 852 775C853 776 845 777 843 777C841 778 840 778 838 779C837 780 834 785 833 784C833 784 834 778 834 777C834 775 836 775 834 772C833 770 824 757 825 756Z"/><path d="M616 572C616 572 629 566 631 564C634 563 633 564 635 562C638 560 648 549 648 550C649 550 641 560 640 563C638 565 638 564 640 567C641 569 653 580 653 580C652 580 639 570 636 569C634 567 636 567 633 568C630 568 616 573 616 572Z"/><path d="M920 707C920 708 903 711 899 711C896 712 895 711 893 710C891 708 883 701 883 701C883 700 893 704 895 704C897 705 896 705 899 706C903 706 920 707 920 707Z"/><path d="M807 635C806 635 811 632 813 631C814 630 817 630 820 631C823 631 834 631 834 632C834 633 822 636 820 637C817 638 817 637 815 637C813 637 807 636 807 635Z"/><path d="M869 525C869 524 881 513 884 511C887 509 887 509 889 509C891 509 898 509 898 510C899 510 893 513 891 514C890 515 889 514 886 516C883 517 870 526 869 525Z"/><path d="M730 546C730 546 745 549 748 549C751 549 750 550 752 548C754 546 761 537 761 538C762 538 757 549 755 551C754 554 755 553 753 556C751 559 743 573 742 573C742 573 748 559 748 556C749 553 750 554 747 553C745 551 730 547 730 546Z"/><path d="M765 705C765 706 756 707 753 708C751 709 750 709 748 709C746 710 741 712 740 711C740 710 744 705 746 704C748 703 749 702 752 702C754 702 765 704 765 705Z"/><path d="M858 570C858 569 872 567 875 566C877 565 877 565 878 563C880 560 883 548 884 549C885 549 882 561 882 564C882 567 881 566 884 568C886 569 897 576 897 577C897 577 885 573 882 572C879 571 879 571 876 571C873 570 858 571 858 570Z"/><path d="M810 671C810 670 814 665 816 664C818 663 822 663 825 664C828 664 838 668 838 669C837 670 826 670 824 670C821 670 821 670 819 670C817 670 811 671 810 671Z"/><path d="M877 576C877 575 882 564 883 561C884 558 885 557 886 555C887 553 890 544 891 544C892 544 891 553 891 555C891 557 891 558 893 559C894 560 901 563 901 564C900 564 893 563 892 563C890 563 890 562 888 564C885 565 878 576 877 576Z"/></g>
<g fill="#3c3846" opacity="0.7"><circle cx="782.7" cy="602.9" r="1.7"/><circle cx="683.4" cy="777.2" r="1.3"/><circle cx="848.4" cy="649.6" r="1.1"/><circle cx="739.0" cy="623.0" r="1.0"/><circle cx="887.2" cy="760.2" r="1.4"/><circle cx="643.0" cy="518.1" r="1.7"/><circle cx="810.3" cy="612.4" r="1.5"/><circle cx="715.8" cy="697.5" r="1.0"/><circle cx="718.7" cy="544.3" r="1.2"/><circle cx="886.9" cy="554.3" r="1.6"/><circle cx="798.1" cy="705.4" r="1.4"/><circle cx="717.9" cy="635.4" r="1.2"/><circle cx="663.7" cy="582.9" r="1.7"/><circle cx="802.3" cy="655.4" r="1.2"/><circle cx="752.3" cy="655.1" r="1.2"/><circle cx="691.1" cy="564.6" r="1.6"/><circle cx="826.1" cy="685.9" r="1.4"/><circle cx="669.9" cy="519.2" r="1.6"/><circle cx="836.1" cy="686.8" r="1.4"/><circle cx="815.3" cy="770.9" r="1.0"/><circle cx="847.1" cy="640.9" r="1.3"/><circle cx="780.3" cy="655.9" r="1.7"/><circle cx="781.5" cy="765.3" r="1.7"/><circle cx="722.0" cy="603.7" r="1.2"/><circle cx="807.7" cy="718.4" r="1.7"/><circle cx="730.4" cy="572.3" r="1.3"/><circle cx="712.8" cy="543.5" r="1.4"/><circle cx="890.9" cy="726.3" r="1.4"/><circle cx="697.4" cy="605.1" r="1.5"/><circle cx="639.9" cy="766.6" r="1.5"/><circle cx="718.1" cy="522.4" r="1.3"/><circle cx="815.3" cy="707.0" r="1.6"/><circle cx="778.5" cy="513.3" r="1.4"/><circle cx="730.9" cy="654.0" r="1.8"/><circle cx="780.8" cy="669.3" r="1.5"/><circle cx="727.0" cy="622.1" r="1.4"/><circle cx="901.8" cy="648.0" r="1.2"/><circle cx="715.5" cy="568.0" r="1.2"/><circle cx="887.0" cy="507.8" r="1.6"/><circle cx="706.2" cy="526.5" r="1.2"/><circle cx="737.8" cy="634.5" r="1.2"/><circle cx="749.6" cy="555.9" r="1.1"/><circle cx="697.4" cy="637.7" r="1.7"/><circle cx="857.9" cy="636.3" r="1.2"/><circle cx="750.9" cy="783.1" r="1.1"/><circle cx="902.4" cy="662.0" r="1.5"/><circle cx="629.4" cy="776.4" r="1.3"/><circle cx="647.2" cy="723.3" r="1.4"/><circle cx="764.7" cy="776.4" r="1.4"/><circle cx="710.2" cy="782.3" r="1.1"/><circle cx="751.9" cy="644.0" r="1.5"/><circle cx="823.8" cy="630.5" r="1.5"/><circle cx="901.6" cy="570.8" r="1.4"/><circle cx="825.1" cy="644.4" r="1.5"/><circle cx="801.3" cy="717.5" r="1.5"/><circle cx="769.1" cy="641.7" r="1.2"/><circle cx="694.1" cy="508.6" r="1.5"/><circle cx="701.1" cy="776.1" r="1.2"/><circle cx="673.0" cy="709.2" r="1.7"/><circle cx="776.1" cy="709.2" r="1.3"/><circle cx="856.6" cy="729.8" r="1.6"/><circle cx="770.6" cy="674.5" r="1.1"/><circle cx="775.8" cy="739.7" r="1.1"/><circle cx="803.4" cy="731.6" r="1.4"/><circle cx="686.8" cy="663.4" r="1.1"/><circle cx="730.8" cy="514.6" r="1.7"/><circle cx="778.6" cy="563.9" r="1.6"/><circle cx="778.5" cy="588.7" r="1.3"/><circle cx="906.2" cy="709.0" r="1.4"/><circle cx="683.0" cy="628.5" r="1.5"/><circle cx="636.2" cy="665.1" r="1.4"/><circle cx="720.9" cy="524.1" r="1.5"/><circle cx="894.1" cy="758.4" r="1.7"/><circle cx="681.7" cy="541.9" r="1.6"/><circle cx="717.2" cy="589.6" r="1.5"/><circle cx="864.5" cy="539.5" r="1.2"/><circle cx="873.3" cy="743.5" r="1.3"/><circle cx="876.8" cy="528.0" r="1.2"/><circle cx="771.0" cy="551.8" r="1.7"/><circle cx="663.1" cy="734.6" r="1.1"/><circle cx="822.0" cy="768.0" r="1.5"/><circle cx="907.7" cy="776.4" r="1.7"/><circle cx="740.2" cy="569.7" r="1.1"/><circle cx="650.4" cy="755.5" r="1.3"/><circle cx="814.9" cy="699.6" r="1.4"/><circle cx="735.2" cy="672.3" r="1.6"/><circle cx="669.7" cy="781.0" r="1.3"/><circle cx="730.6" cy="656.7" r="1.7"/><circle cx="734.3" cy="549.3" r="1.8"/><circle cx="884.7" cy="719.7" r="1.5"/><circle cx="719.6" cy="686.8" r="1.2"/><circle cx="892.6" cy="536.9" r="1.4"/><circle cx="832.7" cy="661.6" r="1.0"/><circle cx="630.2" cy="674.6" r="1.6"/><circle cx="885.5" cy="630.1" r="1.4"/><circle cx="739.9" cy="695.5" r="1.3"/><circle cx="781.5" cy="672.5" r="1.7"/><circle cx="797.8" cy="668.4" r="1.3"/><circle cx="650.9" cy="573.9" r="1.5"/><circle cx="777.3" cy="592.1" r="1.2"/><circle cx="836.9" cy="774.0" r="1.5"/><circle cx="635.1" cy="565.3" r="1.2"/><circle cx="896.5" cy="708.3" r="1.8"/><circle cx="816.8" cy="634.9" r="1.3"/><circle cx="887.8" cy="512.5" r="1.1"/><circle cx="751.6" cy="552.7" r="1.1"/><circle cx="749.8" cy="705.9" r="1.4"/><circle cx="879.7" cy="567.9" r="1.1"/><circle cx="820.6" cy="667.2" r="1.5"/><circle cx="888.6" cy="559.4" r="1.5"/></g>
<g fill="#2a2632" opacity="0.55"><circle cx="758.3" cy="611.8" r="0.5"/><circle cx="867.9" cy="514.0" r="0.6"/><circle cx="876.5" cy="533.8" r="0.6"/><circle cx="800.0" cy="523.2" r="0.6"/><circle cx="823.6" cy="632.8" r="0.7"/><circle cx="675.2" cy="575.7" r="0.4"/><circle cx="770.0" cy="758.5" r="0.6"/><circle cx="842.8" cy="614.5" r="0.7"/><circle cx="660.1" cy="589.9" r="0.7"/><circle cx="829.6" cy="624.7" r="0.4"/><circle cx="704.9" cy="568.2" r="0.5"/><circle cx="852.4" cy="565.5" r="0.8"/><circle cx="871.3" cy="526.9" r="0.6"/><circle cx="766.0" cy="518.6" r="0.6"/><circle cx="878.7" cy="542.2" r="0.6"/><circle cx="665.4" cy="666.5" r="0.8"/><circle cx="687.6" cy="514.5" r="0.4"/><circle cx="779.1" cy="517.0" r="0.4"/><circle cx="767.4" cy="757.7" r="0.6"/><circle cx="740.6" cy="682.5" r="0.4"/><circle cx="790.0" cy="558.3" r="0.6"/><circle cx="892.8" cy="526.7" r="0.6"/><circle cx="797.2" cy="552.1" r="0.5"/><circle cx="902.7" cy="778.3" r="0.4"/><circle cx="824.1" cy="765.7" r="0.5"/><circle cx="798.5" cy="523.8" r="0.5"/><circle cx="815.6" cy="669.6" r="0.7"/><circle cx="656.1" cy="604.8" r="0.7"/><circle cx="791.2" cy="632.6" r="0.6"/><circle cx="900.3" cy="665.4" r="0.4"/><circle cx="849.6" cy="599.9" r="0.6"/><circle cx="690.5" cy="630.6" r="0.5"/><circle cx="656.6" cy="680.1" r="0.4"/><circle cx="845.5" cy="519.1" r="0.7"/><circle cx="851.8" cy="644.8" r="0.7"/><circle cx="699.9" cy="708.9" r="0.6"/><circle cx="695.2" cy="769.2" r="0.6"/><circle cx="733.8" cy="741.5" r="0.5"/><circle cx="813.8" cy="557.9" r="0.7"/><circle cx="702.8" cy="525.8" r="0.8"/><circle cx="679.4" cy="764.5" r="0.8"/><circle cx="797.2" cy="515.5" r="0.4"/><circle cx="689.2" cy="615.9" r="0.6"/><circle cx="895.0" cy="606.8" r="0.5"/><circle cx="785.1" cy="548.9" r="0.4"/><circle cx="783.5" cy="697.8" r="0.4"/><circle cx="755.1" cy="699.9" r="0.7"/><circle cx="736.5" cy="748.7" r="0.5"/><circle cx="826.8" cy="718.0" r="0.8"/><circle cx="766.8" cy="538.7" r="0.4"/><circle cx="776.1" cy="558.5" r="0.7"/><circle cx="655.4" cy="720.2" r="0.5"/><circle cx="636.0" cy="559.2" r="0.6"/><circle cx="784.4" cy="615.8" r="0.5"/><circle cx="763.4" cy="764.5" r="0.6"/><circle cx="888.2" cy="520.0" r="0.8"/><circle cx="874.0" cy="657.4" r="0.6"/><circle cx="778.4" cy="754.7" r="0.4"/><circle cx="807.1" cy="656.8" r="0.5"/><circle cx="829.4" cy="704.4" r="0.4"/><circle cx="822.5" cy="633.2" r="0.6"/><circle cx="805.4" cy="526.4" r="0.6"/><circle cx="733.8" cy="746.5" r="0.5"/><circle cx="856.1" cy="706.7" r="0.6"/><circle cx="870.4" cy="521.9" r="0.6"/><circle cx="799.1" cy="693.0" r="0.6"/><circle cx="651.2" cy="562.7" r="0.6"/><circle cx="681.7" cy="529.6" r="0.5"/><circle cx="760.2" cy="655.0" r="0.4"/><circle cx="843.1" cy="601.3" r="0.7"/><circle cx="634.8" cy="766.6" r="0.6"/><circle cx="897.7" cy="775.2" r="0.7"/><circle cx="661.4" cy="605.2" r="0.5"/><circle cx="844.3" cy="563.5" r="0.5"/><circle cx="662.5" cy="544.3" r="0.8"/><circle cx="897.6" cy="611.6" r="0.7"/><circle cx="759.5" cy="651.4" r="0.5"/><circle cx="804.9" cy="575.2" r="0.5"/><circle cx="773.1" cy="564.9" r="0.6"/><circle cx="888.9" cy="518.2" r="0.4"/><circle cx="849.8" cy="527.7" r="0.5"/><circle cx="863.8" cy="673.6" r="0.5"/><circle cx="648.4" cy="585.6" r="0.5"/><circle cx="849.9" cy="772.3" r="0.7"/><circle cx="877.4" cy="760.3" r="0.8"/><circle cx="882.4" cy="770.1" r="0.4"/><circle cx="718.8" cy="578.2" r="0.6"/><circle cx="766.0" cy="604.8" r="0.7"/><circle cx="740.9" cy="568.0" r="0.5"/><circle cx="757.9" cy="675.0" r="0.6"/><circle cx="752.0" cy="562.0" r="0.6"/><circle cx="720.8" cy="557.8" r="0.6"/><circle cx="683.7" cy="701.9" r="0.7"/><circle cx="669.9" cy="679.0" r="0.5"/><circle cx="753.9" cy="673.9" r="0.7"/><circle cx="872.5" cy="707.8" r="0.5"/><circle cx="779.7" cy="601.7" r="0.4"/><circle cx="782.5" cy="637.7" r="0.7"/><circle cx="720.4" cy="734.4" r="0.6"/><circle cx="659.4" cy="703.4" r="0.5"/><circle cx="777.4" cy="531.3" r="0.4"/><circle cx="882.6" cy="523.5" r="0.5"/><circle cx="676.9" cy="537.9" r="0.7"/><circle cx="902.8" cy="685.3" r="0.6"/><circle cx="873.8" cy="647.2" r="0.5"/><circle cx="820.0" cy="608.0" r="0.5"/><circle cx="719.5" cy="614.9" r="0.5"/><circle cx="798.9" cy="743.7" r="0.6"/><circle cx="635.1" cy="694.6" r="0.4"/><circle cx="762.5" cy="743.0" r="0.7"/><circle cx="879.2" cy="713.4" r="0.5"/><circle cx="671.5" cy="632.6" r="0.7"/><circle cx="695.5" cy="600.5" r="0.7"/><circle cx="726.9" cy="672.4" r="0.6"/><circle cx="884.8" cy="519.3" r="0.5"/><circle cx="844.0" cy="690.6" r="0.4"/><circle cx="669.0" cy="568.5" r="0.6"/><circle cx="877.6" cy="570.0" r="0.5"/><circle cx="818.8" cy="625.1" r="0.7"/><circle cx="903.8" cy="761.8" r="0.7"/><circle cx="767.3" cy="528.5" r="0.7"/><circle cx="740.7" cy="635.8" r="0.7"/><circle cx="894.3" cy="660.5" r="0.8"/><circle cx="894.4" cy="534.9" r="0.5"/><circle cx="873.8" cy="716.8" r="0.8"/><circle cx="683.1" cy="653.9" r="0.8"/><circle cx="779.1" cy="691.0" r="0.8"/><circle cx="679.6" cy="527.4" r="0.7"/><circle cx="790.3" cy="565.7" r="0.7"/><circle cx="709.5" cy="546.9" r="0.5"/><circle cx="642.3" cy="620.4" r="0.7"/><circle cx="755.8" cy="769.4" r="0.4"/><circle cx="679.5" cy="550.6" r="0.6"/><circle cx="686.7" cy="690.1" r="0.6"/><circle cx="790.3" cy="737.5" r="0.7"/><circle cx="883.0" cy="552.8" r="0.6"/><circle cx="893.3" cy="618.0" r="0.5"/><circle cx="763.4" cy="560.5" r="0.7"/><circle cx="805.2" cy="537.5" r="0.8"/><circle cx="773.8" cy="579.9" r="0.6"/><circle cx="890.4" cy="604.7" r="0.4"/><circle cx="686.2" cy="527.9" r="0.6"/><circle cx="717.1" cy="739.2" r="0.5"/><circle cx="636.6" cy="636.1" r="0.4"/><circle cx="716.8" cy="572.4" r="0.5"/><circle cx="805.3" cy="761.8" r="0.5"/><circle cx="805.9" cy="598.4" r="0.8"/><circle cx="782.7" cy="520.1" r="0.7"/><circle cx="689.5" cy="524.8" r="0.4"/><circle cx="860.7" cy="701.5" r="0.5"/><circle cx="783.9" cy="700.3" r="0.4"/><circle cx="824.2" cy="701.2" r="0.8"/><circle cx="648.6" cy="664.9" r="0.6"/><circle cx="862.3" cy="609.3" r="0.7"/><circle cx="876.1" cy="605.2" r="0.6"/><circle cx="875.2" cy="521.4" r="0.8"/><circle cx="717.5" cy="634.2" r="0.5"/><circle cx="849.2" cy="654.3" r="0.7"/><circle cx="660.7" cy="746.9" r="0.7"/><circle cx="817.3" cy="571.7" r="0.5"/></g>
<g filter="url(#cellgrain)"><circle cx="697.8" cy="731.5" r="7.8" fill="url(#rc2)"/><circle cx="784.0" cy="675.2" r="8.2" fill="url(#rc2)"/><circle cx="768.5" cy="739.1" r="9.1" fill="url(#rc2)"/><circle cx="777.5" cy="566.9" r="6.7" fill="url(#rc2)"/><circle cx="686.9" cy="661.6" r="8.4" fill="url(#rc2)"/><circle cx="843.5" cy="659.4" r="9.1" fill="url(#rc2)"/><circle cx="760.6" cy="696.7" r="7.3" fill="url(#rc2)"/><circle cx="839.1" cy="713.8" r="6.5" fill="url(#rc2)"/><circle cx="656.4" cy="758.6" r="7.6" fill="url(#rc2)"/><circle cx="703.5" cy="718.0" r="7.0" fill="url(#rc2)"/><circle cx="825.9" cy="672.5" r="7.2" fill="url(#rc2)"/><circle cx="707.5" cy="633.2" r="8.1" fill="url(#rc2)"/><circle cx="651.7" cy="517.3" r="6.8" fill="url(#rc2)"/><circle cx="757.5" cy="642.4" r="8.6" fill="url(#rc2)"/><circle cx="735.3" cy="711.3" r="8.4" fill="url(#rc2)"/><circle cx="806.2" cy="731.7" r="7.0" fill="url(#rc2)"/><circle cx="802.0" cy="766.8" r="8.4" fill="url(#rc2)"/><circle cx="779.9" cy="690.4" r="8.0" fill="url(#rc2)"/><circle cx="811.6" cy="660.7" r="8.4" fill="url(#rc2)"/><circle cx="724.7" cy="684.0" r="7.9" fill="url(#rc2)"/><circle cx="728.8" cy="572.5" r="8.3" fill="url(#rc2)"/><circle cx="858.3" cy="652.7" r="7.3" fill="url(#rc2)"/><circle cx="746.3" cy="651.2" r="8.4" fill="url(#rc2)"/><circle cx="869.0" cy="693.7" r="6.7" fill="url(#rc2)"/><circle cx="794.8" cy="741.5" r="6.9" fill="url(#rc2)"/><circle cx="753.6" cy="754.3" r="7.9" fill="url(#rc2)"/><circle cx="712.4" cy="607.5" r="9.0" fill="url(#rc2)"/><circle cx="770.9" cy="627.3" r="8.3" fill="url(#rc2)"/><circle cx="798.4" cy="625.4" r="6.6" fill="url(#rc2)"/><circle cx="829.6" cy="642.0" r="8.0" fill="url(#rc2)"/><circle cx="707.8" cy="765.0" r="8.0" fill="url(#rc2)"/><circle cx="805.9" cy="700.3" r="7.2" fill="url(#rc2)"/><circle cx="743.9" cy="635.5" r="6.9" fill="url(#rc2)"/><circle cx="887.7" cy="741.4" r="9.1" fill="url(#rc2)"/><circle cx="893.9" cy="651.3" r="7.3" fill="url(#rc2)"/><circle cx="859.1" cy="757.2" r="8.1" fill="url(#rc2)"/><circle cx="640.0" cy="594.4" r="7.3" fill="url(#rc2)"/><circle cx="735.8" cy="618.2" r="7.1" fill="url(#rc2)"/><circle cx="670.0" cy="530.1" r="6.5" fill="url(#rc2)"/><circle cx="756.6" cy="620.0" r="8.4" fill="url(#rc2)"/><circle cx="816.8" cy="777.1" r="7.4" fill="url(#rc2)"/><circle cx="741.9" cy="678.8" r="6.6" fill="url(#rc2)"/><circle cx="770.7" cy="588.6" r="7.6" fill="url(#rc2)"/><circle cx="634.8" cy="745.0" r="6.8" fill="url(#rc2)"/><circle cx="728.4" cy="750.8" r="7.7" fill="url(#rc2)"/><circle cx="747.4" cy="728.0" r="8.7" fill="url(#rc2)"/><circle cx="880.5" cy="637.9" r="7.4" fill="url(#rc2)"/><circle cx="761.9" cy="516.7" r="8.1" fill="url(#rc2)"/><circle cx="679.6" cy="763.3" r="7.4" fill="url(#rc2)"/><circle cx="657.9" cy="614.3" r="8.2" fill="url(#rc2)"/><circle cx="719.0" cy="698.7" r="8.3" fill="url(#rc2)"/><circle cx="680.0" cy="748.6" r="7.7" fill="url(#rc2)"/><circle cx="819.7" cy="628.6" r="9.2" fill="url(#rc2)"/><circle cx="644.6" cy="715.5" r="7.0" fill="url(#rc2)"/><circle cx="679.7" cy="638.0" r="7.3" fill="url(#rc2)"/><circle cx="777.9" cy="658.3" r="7.5" fill="url(#rc2)"/><circle cx="723.1" cy="717.3" r="9.0" fill="url(#rc2)"/><circle cx="745.0" cy="567.8" r="8.6" fill="url(#rc2)"/><circle cx="888.3" cy="704.6" r="9.1" fill="url(#rc2)"/><circle cx="755.7" cy="668.5" r="6.9" fill="url(#rc2)"/><circle cx="693.1" cy="545.0" r="7.7" fill="url(#rc2)"/><circle cx="816.4" cy="645.3" r="9.0" fill="url(#rc2)"/><circle cx="673.3" cy="686.4" r="7.4" fill="url(#rc2)"/><circle cx="756.6" cy="575.0" r="8.4" fill="url(#rc2)"/><circle cx="711.4" cy="740.2" r="7.1" fill="url(#rc2)"/><circle cx="678.4" cy="592.5" r="7.5" fill="url(#rc2)"/><circle cx="643.4" cy="769.3" r="8.6" fill="url(#rc2)"/><circle cx="835.9" cy="749.9" r="7.3" fill="url(#rc2)"/><circle cx="731.4" cy="663.2" r="8.3" fill="url(#rc2)"/><circle cx="801.6" cy="606.2" r="8.1" fill="url(#rc2)"/><circle cx="803.1" cy="681.6" r="6.5" fill="url(#rc2)"/><circle cx="818.6" cy="608.3" r="9.0" fill="url(#rc2)"/><circle cx="782.8" cy="540.5" r="8.5" fill="url(#rc2)"/><circle cx="791.6" cy="645.3" r="8.8" fill="url(#rc2)"/><circle cx="674.7" cy="717.1" r="9.0" fill="url(#rc2)"/><circle cx="823.6" cy="702.2" r="7.9" fill="url(#rc2)"/><circle cx="703.3" cy="649.4" r="6.5" fill="url(#rc2)"/><circle cx="655.6" cy="579.3" r="8.2" fill="url(#rc2)"/><circle cx="783.4" cy="615.6" r="9.2" fill="url(#rc2)"/><circle cx="870.6" cy="772.2" r="8.8" fill="url(#rc2)"/><circle cx="748.1" cy="704.6" r="7.3" fill="url(#rc2)"/><circle cx="661.8" cy="712.5" r="8.0" fill="url(#rc2)"/><circle cx="664.9" cy="590.3" r="7.4" fill="url(#rc2)"/><circle cx="828.0" cy="768.7" r="8.0" fill="url(#rc2)"/><circle cx="879.7" cy="544.3" r="8.1" fill="url(#rc2)"/><circle cx="868.8" cy="531.0" r="7.6" fill="url(#rc2)"/><circle cx="890.5" cy="533.6" r="7.6" fill="url(#rc2)"/><circle cx="876.9" cy="525.6" r="7.1" fill="url(#rc2)"/><circle cx="741.1" cy="549.6" r="8.1" fill="url(#rc2)"/><circle cx="768.3" cy="523.0" r="7.1" fill="url(#rc2)"/><circle cx="711.3" cy="525.6" r="7.6" fill="url(#rc2)"/></g>
<rect x="632.5" y="512.3" width="271.6" height="266.5" fill="url(#vg)"/>
</g></g>
<g clip-path="url(#pc3)"><g filter="url(#lens)">
<rect x="927.8" y="512.3" width="272.2" height="266.5" fill="#6c6270"/>
<rect x="927.8" y="512.3" width="272.2" height="266.5" filter="url(#tx3)"/>
<g filter="url(#soft)" fill="#6c6270" stroke="#a69aa4" stroke-width="1.8" stroke-linejoin="round">
<path d="M1096.1 633.2C1094.0 638.1 1089.3 644.2 1084.2 647.5C1079.1 650.8 1071.6 653.6 1065.4 653.2C1059.2 652.8 1051.9 649.0 1047.0 645.1C1042.0 641.1 1037.9 635.3 1035.8 629.5C1033.7 623.7 1032.4 615.7 1034.3 610.4C1036.3 605.1 1042.6 601.0 1047.6 597.7C1052.6 594.4 1058.7 591.7 1064.2 590.6C1069.8 589.4 1075.4 588.7 1080.9 590.6C1086.4 592.5 1094.4 597.5 1097.0 602.1C1099.6 606.7 1096.6 613.1 1096.4 618.3C1096.3 623.4 1098.1 628.3 1096.1 633.2Z"/>
<path d="M1052.1 559.1C1056.0 561.5 1056.3 568.3 1059.8 571.1C1063.3 573.8 1071.6 572.8 1072.9 575.7C1074.2 578.5 1069.1 584.3 1067.4 588.1C1065.8 591.9 1065.3 596.5 1063.1 598.4C1060.8 600.2 1057.1 598.6 1053.8 599.1C1050.5 599.5 1045.8 602.2 1043.2 601.1C1040.6 600.1 1040.0 595.4 1038.1 592.8C1036.1 590.2 1031.8 588.3 1031.6 585.6C1031.3 583.0 1035.6 581.6 1036.4 576.8C1037.2 571.9 1033.7 559.5 1036.3 556.6C1038.9 553.7 1048.2 556.7 1052.1 559.1Z"/>
<path d="M1112.1 652.4C1112.1 657.6 1106.1 662.1 1104.8 666.5C1103.5 670.9 1106.9 676.8 1104.3 678.9C1101.6 680.9 1094.1 677.4 1089.1 678.8C1084.2 680.2 1077.9 688.0 1074.5 687.3C1071.1 686.7 1070.5 679.0 1068.7 674.9C1066.9 670.8 1063.8 666.5 1063.8 662.7C1063.8 658.9 1067.1 655.6 1068.8 652.2C1070.6 648.9 1071.3 643.9 1074.4 642.6C1077.5 641.3 1082.3 645.5 1087.3 644.2C1092.4 643.0 1100.6 633.7 1104.7 635.1C1108.9 636.4 1112.1 647.1 1112.1 652.4Z"/>
<path d="M1116.0 699.8C1114.3 694.5 1113.6 690.1 1113.5 684.5C1113.5 678.8 1112.8 669.3 1116.0 665.9C1119.1 662.5 1127.0 666.4 1132.7 663.9C1138.4 661.3 1145.7 649.3 1150.1 650.6C1154.5 652.0 1156.6 666.3 1159.3 672.0C1162.1 677.6 1165.3 679.9 1166.4 684.4C1167.5 688.9 1167.7 694.1 1166.0 699.1C1164.2 704.1 1160.1 711.8 1155.8 714.2C1151.6 716.6 1145.7 713.1 1140.3 713.5C1134.9 713.8 1127.5 718.6 1123.5 716.3C1119.4 714.0 1117.6 705.1 1116.0 699.8Z"/>
<path d="M1091.7 669.5C1094.6 667.1 1097.3 666.4 1100.3 664.4C1103.3 662.5 1106.7 658.2 1109.9 657.8C1113.1 657.5 1116.4 660.0 1119.4 662.3C1122.4 664.6 1126.9 668.5 1128.0 671.8C1129.1 675.0 1126.8 677.7 1125.9 681.6C1125.0 685.5 1125.2 692.6 1122.7 695.3C1120.3 698.0 1114.8 698.1 1111.3 697.8C1107.7 697.4 1104.6 694.8 1101.4 693.4C1098.2 691.9 1095.0 691.5 1091.9 689.0C1088.8 686.5 1083.0 681.6 1082.9 678.4C1082.9 675.1 1088.8 671.8 1091.7 669.5Z"/>
<path d="M1096.1 751.5C1098.7 745.9 1099.3 739.1 1103.0 735.7C1106.6 732.4 1113.1 731.5 1118.0 731.3C1122.9 731.1 1127.0 733.7 1132.3 734.7C1137.7 735.7 1148.0 733.6 1150.1 737.1C1152.1 740.7 1144.6 750.2 1144.6 756.1C1144.5 762.0 1150.8 768.0 1149.7 772.5C1148.6 777.1 1142.4 782.3 1137.8 783.6C1133.2 784.9 1126.5 781.7 1122.0 780.2C1117.5 778.6 1116.5 776.2 1110.8 774.4C1105.0 772.6 1089.9 773.1 1087.4 769.2C1085.0 765.4 1093.5 757.1 1096.1 751.5Z"/>
<path d="M1165.2 753.9C1161.9 753.9 1159.0 753.2 1155.8 752.5C1152.7 751.8 1148.6 751.4 1146.4 749.6C1144.2 747.9 1143.6 744.9 1142.8 741.7C1141.9 738.6 1139.6 733.3 1141.1 731.0C1142.6 728.7 1148.9 730.5 1151.7 727.8C1154.5 725.1 1155.4 715.0 1157.9 714.7C1160.4 714.4 1163.3 723.6 1166.6 726.0C1169.9 728.5 1176.0 727.1 1177.6 729.5C1179.1 731.9 1176.2 736.6 1175.9 740.4C1175.6 744.2 1177.5 750.3 1175.7 752.5C1173.9 754.8 1168.5 753.9 1165.2 753.9Z"/>
<path d="M936.1 658.3C934.9 656.0 934.7 652.7 934.6 649.9C934.6 647.1 934.6 644.1 936.0 641.4C937.5 638.7 940.5 635.2 943.4 633.7C946.3 632.2 950.3 631.6 953.3 632.4C956.4 633.1 958.7 635.8 961.6 638.1C964.6 640.4 970.4 643.0 970.9 646.1C971.5 649.3 966.4 653.3 965.0 657.0C963.6 660.7 964.7 665.9 962.4 668.2C960.0 670.4 954.5 671.3 951.1 670.6C947.7 669.8 944.5 665.7 942.0 663.7C939.5 661.6 937.4 660.6 936.1 658.3Z"/>
<path d="M1138.8 521.1C1141.0 518.8 1148.1 519.9 1151.9 520.2C1155.7 520.4 1159.2 520.5 1161.4 522.5C1163.6 524.5 1163.1 529.2 1165.0 532.1C1166.9 535.0 1172.0 536.8 1172.6 539.7C1173.3 542.6 1170.9 547.2 1168.8 549.8C1166.6 552.3 1162.8 554.2 1159.8 555.0C1156.8 555.8 1153.8 555.3 1150.6 554.6C1147.4 553.9 1143.3 552.6 1140.6 550.8C1137.9 548.9 1134.9 546.6 1134.5 543.7C1134.1 540.9 1137.6 537.6 1138.3 533.8C1139.0 530.0 1136.5 523.3 1138.8 521.1Z"/>
<path d="M1187.3 562.4C1189.5 562.9 1190.3 566.4 1192.9 567.7C1195.5 569.0 1202.1 568.3 1202.9 570.1C1203.6 571.8 1197.8 575.1 1197.3 578.3C1196.8 581.5 1201.3 587.5 1199.9 589.3C1198.5 591.1 1192.2 588.7 1189.1 589.1C1185.9 589.5 1183.0 592.5 1180.9 591.6C1178.9 590.7 1178.5 585.9 1176.7 583.6C1175.0 581.2 1170.5 579.6 1170.4 577.5C1170.4 575.4 1175.0 573.2 1176.5 571.1C1178.0 569.0 1177.7 566.3 1179.5 564.9C1181.3 563.5 1185.1 561.9 1187.3 562.4Z"/>
<path d="M1027.0 684.3C1025.1 686.1 1023.5 688.2 1021.5 689.0C1019.5 689.9 1016.8 690.0 1014.9 689.2C1013.0 688.5 1011.2 686.0 1009.9 684.4C1008.7 682.9 1007.6 681.5 1007.2 679.7C1006.8 677.9 1007.0 675.3 1007.7 673.6C1008.4 671.9 1009.7 670.8 1011.2 669.7C1012.7 668.7 1014.6 667.8 1016.9 667.3C1019.1 666.7 1022.9 665.7 1024.7 666.5C1026.5 667.3 1026.3 669.8 1027.6 671.8C1028.9 673.8 1032.6 676.5 1032.5 678.6C1032.4 680.7 1028.8 682.6 1027.0 684.3Z"/>
<path d="M952.1 530.8C953.9 529.4 955.0 528.7 957.0 528.1C959.0 527.6 962.0 527.1 964.0 527.8C966.0 528.4 967.1 530.5 968.8 532.1C970.4 533.7 973.8 535.6 973.8 537.4C973.8 539.1 969.9 540.8 968.7 542.6C967.6 544.3 968.2 546.5 966.7 547.9C965.3 549.3 962.6 550.5 960.3 550.9C957.9 551.3 954.6 551.5 952.7 550.4C950.8 549.3 949.8 546.5 948.6 544.2C947.5 541.8 945.2 538.7 945.7 536.5C946.3 534.3 950.2 532.2 952.1 530.8Z"/>
<path d="M1022.2 751.8C1023.3 754.3 1022.5 757.0 1023.0 759.9C1023.4 762.7 1026.4 767.3 1025.0 769.0C1023.5 770.6 1017.2 768.2 1014.3 769.5C1011.4 770.7 1009.7 776.3 1007.4 776.5C1005.1 776.8 1003.5 772.6 1000.7 771.0C997.8 769.3 990.9 769.0 990.4 766.7C989.9 764.4 996.3 760.1 997.8 757.3C999.4 754.5 998.1 752.2 999.6 750.0C1001.2 747.9 1004.3 745.2 1007.0 744.4C1009.8 743.5 1013.7 743.7 1016.2 744.9C1018.8 746.2 1021.1 749.3 1022.2 751.8Z"/>
<path d="M1182.1 511.2C1184.8 511.6 1186.7 515.4 1189.3 516.3C1191.9 517.2 1196.1 515.5 1197.8 516.7C1199.5 517.8 1198.9 520.9 1199.5 523.4C1200.2 525.9 1202.6 529.5 1201.7 531.7C1200.9 533.9 1197.1 535.6 1194.5 536.9C1192.0 538.2 1189.3 539.6 1186.6 539.5C1184.0 539.4 1180.8 537.8 1178.8 536.4C1176.9 535.1 1175.9 533.5 1175.0 531.4C1174.2 529.3 1173.9 526.9 1173.6 523.9C1173.2 520.9 1171.5 515.5 1172.9 513.4C1174.4 511.3 1179.3 510.7 1182.1 511.2Z"/>
</g>
<g filter="url(#soft)" fill="#6c6270">
<path d="M1095.0 632.6C1093.0 637.3 1088.5 643.2 1083.6 646.4C1078.7 649.6 1071.6 652.2 1065.6 651.8C1059.7 651.4 1052.6 647.8 1047.9 644.0C1043.1 640.3 1039.2 634.6 1037.1 629.1C1035.1 623.5 1033.9 615.9 1035.7 610.8C1037.6 605.7 1043.7 601.7 1048.5 598.5C1053.3 595.4 1059.1 592.8 1064.4 591.7C1069.7 590.5 1075.2 589.9 1080.4 591.7C1085.7 593.6 1093.4 598.3 1095.9 602.8C1098.4 607.2 1095.5 613.3 1095.3 618.3C1095.2 623.3 1097.0 627.9 1095.0 632.6Z"/>
<path d="M1052.0 560.1C1055.8 562.4 1056.1 569.0 1059.4 571.6C1062.7 574.3 1070.8 573.3 1072.0 576.0C1073.2 578.7 1068.3 584.3 1066.7 588.0C1065.2 591.6 1064.7 596.1 1062.6 597.8C1060.4 599.6 1056.8 598.0 1053.6 598.5C1050.4 598.9 1046.0 601.5 1043.5 600.4C1041.0 599.4 1040.4 594.9 1038.6 592.4C1036.7 590.0 1032.6 588.1 1032.3 585.6C1032.1 583.0 1036.2 581.7 1037.0 577.1C1037.8 572.4 1034.4 560.5 1036.9 557.7C1039.4 554.9 1048.3 557.8 1052.0 560.1Z"/>
<path d="M1111.0 652.7C1111.0 657.8 1105.3 662.1 1104.1 666.3C1102.8 670.5 1106.0 676.2 1103.5 678.2C1101.0 680.2 1093.7 676.8 1089.0 678.1C1084.2 679.5 1078.2 686.9 1075.0 686.3C1071.7 685.7 1071.1 678.3 1069.4 674.4C1067.7 670.4 1064.6 666.3 1064.7 662.6C1064.7 659.0 1067.8 655.8 1069.5 652.6C1071.2 649.4 1071.9 644.6 1074.9 643.4C1077.8 642.1 1082.4 646.1 1087.3 644.9C1092.1 643.7 1100.0 634.8 1104.0 636.1C1107.9 637.4 1111.0 647.7 1111.0 652.7Z"/>
<path d="M1117.0 699.3C1115.4 694.3 1114.6 690.0 1114.6 684.6C1114.6 679.2 1113.9 670.1 1116.9 666.8C1120.0 663.5 1127.5 667.3 1133.0 664.8C1138.4 662.4 1145.4 650.8 1149.7 652.1C1154.0 653.4 1156.0 667.2 1158.6 672.6C1161.2 678.0 1164.3 680.2 1165.4 684.6C1166.4 688.9 1166.6 693.9 1164.9 698.7C1163.2 703.4 1159.3 710.8 1155.2 713.1C1151.1 715.4 1145.5 712.1 1140.3 712.5C1135.1 712.8 1128.0 717.4 1124.2 715.2C1120.3 713.0 1118.5 704.4 1117.0 699.3Z"/>
<path d="M1092.3 669.8C1095.1 667.5 1097.7 666.8 1100.6 664.9C1103.5 663.1 1106.7 659.0 1109.8 658.6C1112.9 658.3 1116.0 660.7 1118.9 662.9C1121.8 665.1 1126.1 668.9 1127.1 672.0C1128.2 675.1 1126.0 677.7 1125.2 681.4C1124.3 685.2 1124.5 692.0 1122.1 694.6C1119.8 697.1 1114.5 697.3 1111.1 697.0C1107.7 696.7 1104.7 694.1 1101.6 692.7C1098.5 691.3 1095.5 690.9 1092.5 688.5C1089.6 686.1 1083.9 681.5 1083.9 678.3C1083.9 675.2 1089.5 672.0 1092.3 669.8Z"/>
<path d="M1097.2 751.7C1099.7 746.4 1100.3 739.8 1103.8 736.6C1107.3 733.4 1113.6 732.5 1118.3 732.3C1123.0 732.2 1126.8 734.7 1132.0 735.6C1137.1 736.6 1147.0 734.5 1149.0 737.9C1151.0 741.4 1143.8 750.5 1143.7 756.2C1143.7 761.8 1149.7 767.5 1148.7 771.9C1147.6 776.3 1141.7 781.3 1137.3 782.6C1132.8 783.8 1126.4 780.7 1122.1 779.2C1117.7 777.8 1116.8 775.4 1111.3 773.7C1105.8 772.0 1091.2 772.4 1088.9 768.8C1086.5 765.1 1094.7 757.1 1097.2 751.7Z"/>
<path d="M1164.9 753.3C1161.8 753.3 1159.0 752.6 1156.0 752.0C1153.0 751.3 1149.0 750.9 1146.9 749.2C1144.8 747.5 1144.3 744.6 1143.4 741.6C1142.6 738.6 1140.4 733.6 1141.8 731.3C1143.2 729.1 1149.3 730.8 1152.0 728.2C1154.6 725.6 1155.6 715.9 1157.9 715.6C1160.3 715.4 1163.1 724.2 1166.3 726.5C1169.4 728.9 1175.3 727.5 1176.8 729.8C1178.3 732.1 1175.5 736.6 1175.2 740.3C1174.9 744.0 1176.7 749.8 1175.0 752.0C1173.3 754.1 1168.1 753.3 1164.9 753.3Z"/>
<path d="M936.7 658.0C935.5 655.8 935.3 652.6 935.2 649.9C935.2 647.2 935.2 644.4 936.6 641.8C938.0 639.2 940.9 635.9 943.6 634.4C946.4 633.0 950.2 632.4 953.2 633.1C956.1 633.8 958.3 636.4 961.2 638.6C964.0 640.8 969.5 643.3 970.1 646.3C970.6 649.3 965.8 653.2 964.4 656.8C963.0 660.3 964.1 665.3 961.8 667.5C959.6 669.7 954.3 670.5 951.0 669.8C947.8 669.1 944.7 665.1 942.3 663.2C939.9 661.2 937.8 660.2 936.7 658.0Z"/>
<path d="M1139.4 521.8C1141.5 519.6 1148.4 520.7 1152.0 520.9C1155.6 521.1 1159.0 521.3 1161.1 523.2C1163.2 525.1 1162.7 529.6 1164.5 532.4C1166.3 535.1 1171.3 536.8 1171.9 539.7C1172.5 542.5 1170.2 546.9 1168.2 549.3C1166.1 551.8 1162.5 553.6 1159.6 554.4C1156.6 555.2 1153.8 554.7 1150.7 554.0C1147.6 553.3 1143.7 552.0 1141.1 550.3C1138.5 548.5 1135.7 546.2 1135.3 543.5C1134.9 540.8 1138.2 537.6 1138.9 534.0C1139.6 530.4 1137.2 524.0 1139.4 521.8Z"/>
<path d="M1187.2 562.9C1189.4 563.4 1190.1 566.8 1192.6 568.0C1195.1 569.3 1201.5 568.6 1202.2 570.3C1202.9 572.0 1197.3 575.2 1196.9 578.2C1196.4 581.3 1200.7 587.0 1199.3 588.8C1198.0 590.5 1192.0 588.2 1189.0 588.6C1185.9 589.0 1183.1 591.9 1181.1 591.0C1179.2 590.1 1178.8 585.5 1177.1 583.3C1175.4 581.0 1171.1 579.5 1171.1 577.5C1171.0 575.5 1175.4 573.3 1176.9 571.3C1178.3 569.2 1178.0 566.7 1179.8 565.4C1181.5 564.0 1185.1 562.5 1187.2 562.9Z"/>
<path d="M1026.6 684.1C1024.8 685.7 1023.3 687.8 1021.4 688.6C1019.5 689.4 1016.9 689.5 1015.0 688.8C1013.2 688.0 1011.5 685.7 1010.3 684.2C1009.0 682.6 1008.0 681.4 1007.6 679.6C1007.3 677.9 1007.4 675.4 1008.1 673.8C1008.7 672.2 1010.0 671.1 1011.5 670.1C1012.9 669.0 1014.7 668.2 1016.9 667.7C1019.0 667.2 1022.7 666.2 1024.4 666.9C1026.1 667.7 1025.9 670.1 1027.2 672.1C1028.4 674.0 1032.0 676.5 1031.9 678.5C1031.8 680.5 1028.3 682.4 1026.6 684.1Z"/>
<path d="M952.4 531.1C954.2 529.8 955.2 529.1 957.1 528.6C959.0 528.1 962.0 527.6 963.9 528.2C965.7 528.8 966.9 530.8 968.4 532.4C970.0 533.9 973.3 535.8 973.3 537.4C973.3 539.1 969.5 540.7 968.4 542.4C967.3 544.1 967.9 546.2 966.5 547.6C965.1 548.9 962.5 550.0 960.3 550.4C958.0 550.8 954.9 551.0 953.0 549.9C951.1 548.8 950.2 546.2 949.1 543.9C948.0 541.7 945.8 538.7 946.3 536.6C946.9 534.5 950.6 532.4 952.4 531.1Z"/>
<path d="M1021.7 752.2C1022.8 754.5 1022.0 757.1 1022.4 759.9C1022.9 762.6 1025.7 767.1 1024.3 768.6C1023.0 770.1 1016.9 767.9 1014.1 769.1C1011.3 770.3 1009.7 775.6 1007.5 775.9C1005.3 776.1 1003.7 772.1 1001.0 770.6C998.3 769.0 991.6 768.6 991.2 766.4C990.7 764.2 996.8 760.1 998.3 757.4C999.8 754.7 998.6 752.5 1000.0 750.4C1001.5 748.4 1004.5 745.8 1007.1 745.0C1009.8 744.2 1013.5 744.4 1016.0 745.6C1018.4 746.8 1020.6 749.8 1021.7 752.2Z"/>
<path d="M1182.2 511.7C1184.8 512.2 1186.7 515.8 1189.2 516.7C1191.7 517.5 1195.7 515.9 1197.3 517.0C1199.0 518.2 1198.4 521.1 1199.0 523.5C1199.6 525.9 1201.9 529.3 1201.1 531.5C1200.3 533.6 1196.6 535.2 1194.2 536.4C1191.8 537.7 1189.2 539.0 1186.6 538.9C1184.1 538.8 1181.0 537.3 1179.1 536.0C1177.3 534.7 1176.3 533.1 1175.5 531.1C1174.6 529.1 1174.4 526.8 1174.1 523.9C1173.8 521.1 1172.1 515.9 1173.5 513.9C1174.8 511.9 1179.6 511.3 1182.2 511.7Z"/>
</g>
<g fill="#3a3542" opacity="0.55"><circle cx="998.3" cy="694.9" r="0.6"/><circle cx="1159.0" cy="561.8" r="0.5"/><circle cx="967.9" cy="572.3" r="0.6"/><circle cx="963.2" cy="653.9" r="0.5"/><circle cx="1008.0" cy="627.3" r="0.7"/><circle cx="1093.4" cy="516.1" r="0.5"/><circle cx="967.7" cy="744.5" r="0.6"/><circle cx="1147.2" cy="732.5" r="0.6"/><circle cx="1186.2" cy="723.8" r="0.5"/><circle cx="1159.2" cy="642.0" r="0.6"/><circle cx="1081.4" cy="626.8" r="0.5"/><circle cx="1044.8" cy="595.9" r="0.4"/><circle cx="1150.9" cy="725.0" r="0.7"/><circle cx="1115.9" cy="660.0" r="0.6"/><circle cx="964.5" cy="692.7" r="0.5"/><circle cx="975.9" cy="566.3" r="0.6"/><circle cx="996.8" cy="634.7" r="0.6"/><circle cx="1035.5" cy="547.2" r="0.5"/><circle cx="991.9" cy="575.1" r="0.5"/><circle cx="1027.5" cy="531.8" r="0.6"/><circle cx="1187.4" cy="616.2" r="0.6"/><circle cx="1181.8" cy="523.8" r="0.4"/><circle cx="1147.2" cy="735.7" r="0.6"/><circle cx="971.3" cy="622.5" r="0.7"/><circle cx="1169.0" cy="726.3" r="0.5"/><circle cx="1160.2" cy="612.2" r="0.6"/><circle cx="965.1" cy="771.2" r="0.6"/><circle cx="1124.5" cy="568.7" r="0.6"/><circle cx="1085.9" cy="669.9" r="0.5"/><circle cx="1125.9" cy="603.3" r="0.5"/><circle cx="972.6" cy="694.6" r="0.4"/><circle cx="989.2" cy="530.7" r="0.6"/><circle cx="1079.2" cy="657.1" r="0.4"/><circle cx="1047.5" cy="603.7" r="0.4"/><circle cx="928.6" cy="778.2" r="0.4"/><circle cx="1009.9" cy="584.0" r="0.6"/><circle cx="948.9" cy="637.5" r="0.5"/><circle cx="1155.0" cy="513.8" r="0.5"/><circle cx="1063.0" cy="770.7" r="0.6"/><circle cx="1056.9" cy="690.7" r="0.5"/><circle cx="936.4" cy="645.9" r="0.7"/><circle cx="1128.8" cy="581.1" r="0.6"/><circle cx="1158.9" cy="581.2" r="0.6"/><circle cx="1024.6" cy="577.4" r="0.5"/><circle cx="983.3" cy="605.8" r="0.4"/><circle cx="1036.0" cy="535.4" r="0.6"/><circle cx="1091.1" cy="513.4" r="0.6"/><circle cx="979.6" cy="640.4" r="0.6"/><circle cx="1018.4" cy="589.4" r="0.5"/><circle cx="965.1" cy="742.4" r="0.4"/><circle cx="1152.0" cy="570.5" r="0.5"/><circle cx="1033.5" cy="521.2" r="0.4"/><circle cx="1026.1" cy="630.1" r="0.7"/><circle cx="1197.2" cy="523.9" r="0.6"/><circle cx="963.0" cy="726.5" r="0.5"/><circle cx="1170.8" cy="657.6" r="0.4"/><circle cx="929.1" cy="578.4" r="0.7"/><circle cx="968.6" cy="639.9" r="0.5"/><circle cx="1021.7" cy="726.0" r="0.5"/><circle cx="1123.3" cy="689.9" r="0.7"/><circle cx="1069.3" cy="757.6" r="0.5"/><circle cx="1083.8" cy="677.7" r="0.7"/><circle cx="1172.1" cy="543.0" r="0.4"/><circle cx="1073.1" cy="728.8" r="0.6"/><circle cx="1009.3" cy="768.6" r="0.5"/><circle cx="951.4" cy="526.2" r="0.4"/><circle cx="1125.7" cy="540.9" r="0.6"/><circle cx="1163.6" cy="778.7" r="0.6"/><circle cx="1043.3" cy="678.1" r="0.6"/><circle cx="1122.7" cy="589.7" r="0.6"/><circle cx="957.6" cy="594.5" r="0.7"/><circle cx="1056.1" cy="583.7" r="0.6"/><circle cx="1050.3" cy="513.3" r="0.4"/><circle cx="998.3" cy="600.8" r="0.7"/><circle cx="995.1" cy="738.8" r="0.7"/><circle cx="1041.1" cy="777.0" r="0.6"/><circle cx="1059.6" cy="582.0" r="0.5"/><circle cx="1173.3" cy="655.3" r="0.5"/><circle cx="1030.0" cy="639.2" r="0.5"/><circle cx="1083.8" cy="521.4" r="0.6"/><circle cx="976.4" cy="539.7" r="0.6"/><circle cx="1011.4" cy="748.2" r="0.5"/><circle cx="1069.7" cy="734.7" r="0.5"/><circle cx="1130.7" cy="685.3" r="0.5"/><circle cx="1188.9" cy="518.2" r="0.7"/><circle cx="966.8" cy="736.1" r="0.4"/><circle cx="942.4" cy="645.7" r="0.7"/><circle cx="997.9" cy="641.9" r="0.6"/><circle cx="994.1" cy="653.6" r="0.4"/><circle cx="1050.1" cy="714.8" r="0.5"/><circle cx="987.8" cy="525.8" r="0.6"/><circle cx="1044.1" cy="755.9" r="0.6"/><circle cx="955.1" cy="755.9" r="0.7"/><circle cx="1150.2" cy="733.8" r="0.6"/><circle cx="1124.0" cy="690.1" r="0.6"/><circle cx="997.8" cy="547.9" r="0.6"/><circle cx="1090.2" cy="527.3" r="0.6"/><circle cx="1093.9" cy="648.6" r="0.6"/><circle cx="1166.3" cy="613.9" r="0.6"/><circle cx="1063.7" cy="664.7" r="0.5"/><circle cx="1181.8" cy="630.7" r="0.7"/><circle cx="1019.9" cy="691.5" r="0.7"/><circle cx="1113.9" cy="612.3" r="0.4"/><circle cx="1058.0" cy="622.7" r="0.6"/><circle cx="1141.3" cy="775.1" r="0.5"/><circle cx="1039.5" cy="662.7" r="0.6"/><circle cx="949.6" cy="569.7" r="0.4"/><circle cx="1016.2" cy="592.2" r="0.7"/><circle cx="984.3" cy="761.1" r="0.5"/><circle cx="983.3" cy="772.0" r="0.4"/><circle cx="958.5" cy="546.6" r="0.4"/><circle cx="1033.0" cy="568.9" r="0.4"/><circle cx="932.1" cy="698.4" r="0.4"/><circle cx="990.8" cy="663.0" r="0.7"/><circle cx="1107.3" cy="701.2" r="0.6"/><circle cx="1144.8" cy="739.6" r="0.4"/><circle cx="942.5" cy="677.8" r="0.6"/><circle cx="1069.6" cy="720.7" r="0.5"/><circle cx="1120.0" cy="626.0" r="0.5"/><circle cx="994.4" cy="587.3" r="0.6"/></g>
<g filter="url(#cellgrain)"><circle cx="1037.8" cy="565.6" r="7.7" fill="url(#rc3)"/><circle cx="995.4" cy="714.8" r="7.8" fill="url(#rc3)"/><circle cx="1032.1" cy="694.7" r="8.4" fill="url(#rc3)"/><circle cx="1183.2" cy="642.7" r="8.2" fill="url(#rc3)"/><circle cx="1094.7" cy="570.0" r="9.1" fill="url(#rc3)"/><circle cx="1029.6" cy="615.7" r="8.6" fill="url(#rc3)"/><circle cx="969.2" cy="688.3" r="9.0" fill="url(#rc3)"/><circle cx="1071.7" cy="718.7" r="8.2" fill="url(#rc3)"/><circle cx="929.9" cy="566.6" r="9.2" fill="url(#rc3)"/><circle cx="1172.8" cy="673.7" r="9.2" fill="url(#rc3)"/><circle cx="1025.1" cy="569.8" r="9.1" fill="url(#rc3)"/><circle cx="971.6" cy="723.3" r="8.5" fill="url(#rc3)"/><circle cx="1195.3" cy="763.9" r="8.6" fill="url(#rc3)"/><circle cx="937.9" cy="518.5" r="8.3" fill="url(#rc3)"/><circle cx="1043.6" cy="535.2" r="7.9" fill="url(#rc3)"/><circle cx="929.3" cy="600.2" r="8.3" fill="url(#rc3)"/><circle cx="942.9" cy="568.6" r="7.8" fill="url(#rc3)"/><circle cx="1037.8" cy="715.9" r="8.0" fill="url(#rc3)"/><circle cx="963.4" cy="742.5" r="8.5" fill="url(#rc3)"/><circle cx="966.9" cy="558.7" r="7.7" fill="url(#rc3)"/><circle cx="978.4" cy="531.6" r="7.9" fill="url(#rc3)"/><circle cx="1087.2" cy="525.0" r="7.8" fill="url(#rc3)"/><circle cx="1036.4" cy="731.5" r="8.1" fill="url(#rc3)"/><circle cx="1179.1" cy="704.6" r="8.1" fill="url(#rc3)"/><circle cx="1012.4" cy="745.3" r="8.7" fill="url(#rc3)"/><circle cx="987.3" cy="728.0" r="8.6" fill="url(#rc3)"/><circle cx="995.8" cy="591.3" r="8.8" fill="url(#rc3)"/><circle cx="949.6" cy="629.0" r="9.2" fill="url(#rc3)"/><circle cx="997.5" cy="646.4" r="9.1" fill="url(#rc3)"/><circle cx="1165.9" cy="722.4" r="8.4" fill="url(#rc3)"/><circle cx="1167.8" cy="621.4" r="8.6" fill="url(#rc3)"/><circle cx="1094.1" cy="587.5" r="8.6" fill="url(#rc3)"/><circle cx="1092.3" cy="775.4" r="8.6" fill="url(#rc3)"/><circle cx="1169.4" cy="604.3" r="8.6" fill="url(#rc3)"/><circle cx="1106.7" cy="710.3" r="9.0" fill="url(#rc3)"/><circle cx="990.7" cy="741.6" r="8.0" fill="url(#rc3)"/><circle cx="1072.5" cy="512.6" r="7.9" fill="url(#rc3)"/><circle cx="1055.2" cy="653.8" r="8.5" fill="url(#rc3)"/><circle cx="1137.1" cy="565.7" r="7.4" fill="url(#rc3)"/><circle cx="956.4" cy="594.2" r="8.5" fill="url(#rc3)"/><circle cx="1189.4" cy="623.4" r="8.1" fill="url(#rc3)"/><circle cx="1079.5" cy="765.0" r="8.5" fill="url(#rc3)"/><circle cx="1197.8" cy="723.8" r="8.1" fill="url(#rc3)"/><circle cx="974.7" cy="635.1" r="7.6" fill="url(#rc3)"/><circle cx="1041.6" cy="766.6" r="7.7" fill="url(#rc3)"/><circle cx="1083.7" cy="749.4" r="8.1" fill="url(#rc3)"/><circle cx="1152.8" cy="762.0" r="8.3" fill="url(#rc3)"/><circle cx="1170.9" cy="749.3" r="8.3" fill="url(#rc3)"/><circle cx="1127.5" cy="664.1" r="8.4" fill="url(#rc3)"/><circle cx="1117.1" cy="623.6" r="8.9" fill="url(#rc3)"/><circle cx="1002.8" cy="609.6" r="8.4" fill="url(#rc3)"/><circle cx="981.8" cy="661.3" r="8.7" fill="url(#rc3)"/><circle cx="1105.4" cy="729.6" r="7.5" fill="url(#rc3)"/><circle cx="951.3" cy="714.6" r="8.6" fill="url(#rc3)"/><circle cx="1020.4" cy="526.4" r="8.0" fill="url(#rc3)"/><circle cx="1063.0" cy="769.9" r="8.7" fill="url(#rc3)"/><circle cx="931.2" cy="612.7" r="8.6" fill="url(#rc3)"/><circle cx="991.9" cy="630.6" r="8.9" fill="url(#rc3)"/><circle cx="1029.4" cy="595.8" r="7.4" fill="url(#rc3)"/><circle cx="971.0" cy="763.8" r="9.0" fill="url(#rc3)"/><circle cx="1148.2" cy="591.1" r="7.6" fill="url(#rc3)"/><circle cx="1014.2" cy="601.5" r="8.0" fill="url(#rc3)"/><circle cx="1153.5" cy="521.5" r="8.9" fill="url(#rc3)"/><circle cx="1116.6" cy="517.2" r="9.0" fill="url(#rc3)"/><circle cx="1067.2" cy="752.5" r="7.8" fill="url(#rc3)"/><circle cx="985.6" cy="684.9" r="7.7" fill="url(#rc3)"/><circle cx="982.8" cy="752.3" r="7.7" fill="url(#rc3)"/><circle cx="1009.6" cy="775.9" r="7.8" fill="url(#rc3)"/><circle cx="928.7" cy="683.8" r="8.3" fill="url(#rc3)"/><circle cx="1182.8" cy="772.6" r="7.5" fill="url(#rc3)"/><circle cx="1128.7" cy="578.5" r="9.0" fill="url(#rc3)"/><circle cx="1110.8" cy="646.7" r="9.0" fill="url(#rc3)"/><circle cx="1075.7" cy="574.9" r="8.3" fill="url(#rc3)"/><circle cx="1070.5" cy="531.6" r="7.8" fill="url(#rc3)"/><circle cx="1136.6" cy="601.4" r="7.7" fill="url(#rc3)"/><circle cx="1007.5" cy="583.8" r="9.1" fill="url(#rc3)"/><circle cx="997.2" cy="666.1" r="7.9" fill="url(#rc3)"/><circle cx="1125.3" cy="542.7" r="8.0" fill="url(#rc3)"/><circle cx="1155.0" cy="613.5" r="8.0" fill="url(#rc3)"/><circle cx="1134.8" cy="531.1" r="7.4" fill="url(#rc3)"/><circle cx="1174.0" cy="582.3" r="8.7" fill="url(#rc3)"/><circle cx="994.1" cy="760.2" r="7.8" fill="url(#rc3)"/><circle cx="1016.6" cy="539.6" r="9.0" fill="url(#rc3)"/><circle cx="932.4" cy="710.5" r="7.5" fill="url(#rc3)"/><circle cx="946.3" cy="758.9" r="8.2" fill="url(#rc3)"/><circle cx="951.0" cy="517.6" r="8.4" fill="url(#rc3)"/><circle cx="1100.4" cy="742.1" r="7.7" fill="url(#rc3)"/><circle cx="1168.2" cy="687.6" r="8.5" fill="url(#rc3)"/><circle cx="933.1" cy="725.3" r="7.8" fill="url(#rc3)"/><circle cx="1109.6" cy="777.0" r="7.4" fill="url(#rc3)"/><circle cx="1199.5" cy="700.4" r="7.5" fill="url(#rc3)"/><circle cx="1157.0" cy="712.6" r="8.1" fill="url(#rc3)"/><circle cx="1196.4" cy="554.5" r="7.9" fill="url(#rc3)"/><circle cx="1153.3" cy="579.1" r="8.1" fill="url(#rc3)"/><circle cx="987.0" cy="777.9" r="8.8" fill="url(#rc3)"/><circle cx="1011.3" cy="631.7" r="8.3" fill="url(#rc3)"/><circle cx="1100.5" cy="634.7" r="7.6" fill="url(#rc3)"/><circle cx="1064.6" cy="675.8" r="8.5" fill="url(#rc3)"/><circle cx="1019.7" cy="721.6" r="8.1" fill="url(#rc3)"/><circle cx="1181.8" cy="719.3" r="7.9" fill="url(#rc3)"/><circle cx="1120.5" cy="558.5" r="8.4" fill="url(#rc3)"/><circle cx="1102.3" cy="536.0" r="7.6" fill="url(#rc3)"/><circle cx="1092.4" cy="703.7" r="9.2" fill="url(#rc3)"/><circle cx="962.7" cy="524.5" r="8.4" fill="url(#rc3)"/><circle cx="1187.8" cy="661.0" r="8.9" fill="url(#rc3)"/><circle cx="974.9" cy="600.0" r="9.2" fill="url(#rc3)"/><circle cx="1008.3" cy="690.3" r="8.0" fill="url(#rc3)"/><circle cx="981.9" cy="554.3" r="7.7" fill="url(#rc3)"/><circle cx="953.0" cy="616.5" r="9.0" fill="url(#rc3)"/><circle cx="1195.0" cy="606.0" r="7.5" fill="url(#rc3)"/><circle cx="992.3" cy="545.4" r="8.6" fill="url(#rc3)"/><circle cx="1073.4" cy="550.3" r="8.1" fill="url(#rc3)"/><circle cx="1024.4" cy="767.3" r="9.2" fill="url(#rc3)"/><circle cx="945.4" cy="733.0" r="8.7" fill="url(#rc3)"/><circle cx="1063.0" cy="703.7" r="7.8" fill="url(#rc3)"/><circle cx="1169.6" cy="770.9" r="9.1" fill="url(#rc3)"/><circle cx="1077.3" cy="589.2" r="8.5" fill="url(#rc3)"/><circle cx="1134.6" cy="716.0" r="7.9" fill="url(#rc3)"/><circle cx="976.1" cy="580.0" r="9.0" fill="url(#rc3)"/><circle cx="1010.4" cy="512.3" r="7.7" fill="url(#rc3)"/><circle cx="932.6" cy="653.2" r="7.8" fill="url(#rc3)"/><circle cx="1037.0" cy="747.9" r="8.1" fill="url(#rc3)"/><circle cx="1082.1" cy="696.4" r="7.4" fill="url(#rc3)"/><circle cx="1138.3" cy="654.1" r="8.0" fill="url(#rc3)"/><circle cx="1189.3" cy="678.3" r="7.6" fill="url(#rc3)"/><circle cx="1095.1" cy="719.9" r="8.3" fill="url(#rc3)"/><circle cx="929.6" cy="635.2" r="8.3" fill="url(#rc3)"/><circle cx="1179.9" cy="513.2" r="8.1" fill="url(#rc3)"/><circle cx="1058.9" cy="722.6" r="8.6" fill="url(#rc3)"/><circle cx="1166.2" cy="518.4" r="7.5" fill="url(#rc3)"/><circle cx="936.8" cy="775.4" r="8.2" fill="url(#rc3)"/><circle cx="944.1" cy="588.9" r="8.0" fill="url(#rc3)"/><circle cx="992.9" cy="578.5" r="8.2" fill="url(#rc3)"/><circle cx="958.6" cy="671.7" r="8.9" fill="url(#rc3)"/><circle cx="1114.5" cy="596.7" r="8.1" fill="url(#rc3)"/><circle cx="1190.0" cy="746.3" r="8.2" fill="url(#rc3)"/><circle cx="931.8" cy="535.5" r="7.4" fill="url(#rc3)"/><circle cx="951.6" cy="532.2" r="7.5" fill="url(#rc3)"/><circle cx="1144.8" cy="730.4" r="8.8" fill="url(#rc3)"/><circle cx="975.2" cy="615.0" r="7.4" fill="url(#rc3)"/><circle cx="1053.9" cy="758.4" r="8.0" fill="url(#rc3)"/><circle cx="1047.8" cy="674.4" r="8.5" fill="url(#rc3)"/><circle cx="931.7" cy="761.9" r="8.8" fill="url(#rc3)"/><circle cx="1036.4" cy="668.0" r="8.3" fill="url(#rc3)"/><circle cx="1141.4" cy="550.7" r="8.9" fill="url(#rc3)"/><circle cx="1127.1" cy="631.9" r="8.8" fill="url(#rc3)"/><circle cx="1131.0" cy="515.0" r="8.0" fill="url(#rc3)"/><circle cx="961.0" cy="638.2" r="8.2" fill="url(#rc3)"/><circle cx="1151.1" cy="635.7" r="9.0" fill="url(#rc3)"/><circle cx="1100.3" cy="599.9" r="7.7" fill="url(#rc3)"/><circle cx="937.0" cy="671.6" r="7.5" fill="url(#rc3)"/><circle cx="1177.4" cy="548.7" r="7.6" fill="url(#rc3)"/><circle cx="949.0" cy="687.3" r="7.9" fill="url(#rc3)"/><circle cx="1053.7" cy="553.6" r="7.6" fill="url(#rc3)"/><circle cx="1016.5" cy="648.0" r="9.0" fill="url(#rc3)"/><circle cx="1091.4" cy="555.4" r="7.4" fill="url(#rc3)"/><circle cx="1032.2" cy="631.1" r="7.7" fill="url(#rc3)"/><circle cx="1142.4" cy="743.4" r="7.4" fill="url(#rc3)"/><circle cx="977.2" cy="702.2" r="9.2" fill="url(#rc3)"/><circle cx="1108.5" cy="582.8" r="8.3" fill="url(#rc3)"/><circle cx="1188.0" cy="691.7" r="7.7" fill="url(#rc3)"/><circle cx="1049.9" cy="736.7" r="7.6" fill="url(#rc3)"/><circle cx="1114.5" cy="699.5" r="8.0" fill="url(#rc3)"/><circle cx="1169.9" cy="660.0" r="8.6" fill="url(#rc3)"/><circle cx="1162.2" cy="647.6" r="8.7" fill="url(#rc3)"/><circle cx="1197.0" cy="643.7" r="9.1" fill="url(#rc3)"/><circle cx="960.7" cy="580.4" r="7.4" fill="url(#rc3)"/><circle cx="1199.4" cy="631.4" r="8.5" fill="url(#rc3)"/><circle cx="1016.6" cy="557.3" r="7.8" fill="url(#rc3)"/><circle cx="1117.1" cy="720.6" r="7.5" fill="url(#rc3)"/><circle cx="947.0" cy="548.4" r="8.6" fill="url(#rc3)"/><circle cx="1083.5" cy="537.8" r="8.0" fill="url(#rc3)"/><circle cx="1093.9" cy="758.6" r="9.1" fill="url(#rc3)"/><circle cx="1041.9" cy="646.8" r="8.3" fill="url(#rc3)"/><circle cx="1104.4" cy="561.2" r="7.5" fill="url(#rc3)"/><circle cx="1103.2" cy="518.1" r="8.9" fill="url(#rc3)"/><circle cx="1157.6" cy="567.2" r="8.1" fill="url(#rc3)"/><circle cx="1036.7" cy="548.4" r="7.7" fill="url(#rc3)"/><circle cx="1199.8" cy="583.8" r="8.5" fill="url(#rc3)"/><circle cx="1146.6" cy="774.1" r="8.9" fill="url(#rc3)"/><circle cx="987.9" cy="604.9" r="7.6" fill="url(#rc3)"/><circle cx="1056.1" cy="688.7" r="7.4" fill="url(#rc3)"/><circle cx="1150.7" cy="660.9" r="9.0" fill="url(#rc3)"/><circle cx="1045.4" cy="702.4" r="7.7" fill="url(#rc3)"/><circle cx="1107.7" cy="610.1" r="7.9" fill="url(#rc3)"/><circle cx="955.2" cy="564.3" r="9.0" fill="url(#rc3)"/><circle cx="1169.4" cy="562.1" r="7.6" fill="url(#rc3)"/><circle cx="1185.3" cy="593.0" r="8.5" fill="url(#rc3)"/><circle cx="1116.3" cy="531.4" r="9.2" fill="url(#rc3)"/><circle cx="1046.4" cy="522.4" r="9.0" fill="url(#rc3)"/><circle cx="961.1" cy="776.6" r="7.8" fill="url(#rc3)"/><circle cx="1169.8" cy="532.3" r="8.8" fill="url(#rc3)"/><circle cx="1010.2" cy="667.9" r="7.7" fill="url(#rc3)"/><circle cx="1125.7" cy="734.0" r="7.9" fill="url(#rc3)"/><circle cx="1001.0" cy="728.3" r="9.0" fill="url(#rc3)"/><circle cx="1141.6" cy="621.2" r="8.8" fill="url(#rc3)"/><circle cx="973.7" cy="672.2" r="8.5" fill="url(#rc3)"/><circle cx="993.9" cy="520.7" r="9.2" fill="url(#rc3)"/><circle cx="990.6" cy="700.1" r="8.1" fill="url(#rc3)"/><circle cx="932.7" cy="698.0" r="8.1" fill="url(#rc3)"/><circle cx="999.1" cy="562.8" r="7.9" fill="url(#rc3)"/><circle cx="1013.0" cy="708.2" r="7.9" fill="url(#rc3)"/><circle cx="1199.8" cy="537.1" r="9.2" fill="url(#rc3)"/><circle cx="1043.1" cy="687.1" r="7.9" fill="url(#rc3)"/><circle cx="959.8" cy="699.0" r="8.7" fill="url(#rc3)"/><circle cx="929.8" cy="582.7" r="9.0" fill="url(#rc3)"/><circle cx="983.7" cy="646.2" r="8.2" fill="url(#rc3)"/><circle cx="1079.8" cy="734.2" r="8.3" fill="url(#rc3)"/><circle cx="1036.6" cy="778.5" r="9.2" fill="url(#rc3)"/><circle cx="933.4" cy="740.2" r="7.5" fill="url(#rc3)"/><circle cx="950.6" cy="746.8" r="8.9" fill="url(#rc3)"/><circle cx="1089.5" cy="682.6" r="7.6" fill="url(#rc3)"/><circle cx="1027.5" cy="582.5" r="8.5" fill="url(#rc3)"/><circle cx="1181.3" cy="759.1" r="8.6" fill="url(#rc3)"/><circle cx="933.4" cy="553.8" r="8.9" fill="url(#rc3)"/><circle cx="1026.0" cy="707.7" r="8.6" fill="url(#rc3)"/><circle cx="1001.9" cy="534.3" r="7.8" fill="url(#rc3)"/><circle cx="964.8" cy="658.3" r="8.6" fill="url(#rc3)"/><circle cx="1043.5" cy="600.7" r="7.8" fill="url(#rc3)"/><circle cx="966.1" cy="710.7" r="8.6" fill="url(#rc3)"/><circle cx="1066.2" cy="561.7" r="7.9" fill="url(#rc3)"/><circle cx="1063.9" cy="637.6" r="8.2" fill="url(#rc3)"/><circle cx="1093.8" cy="600.2" r="8.2" fill="url(#rc3)"/><circle cx="1107.5" cy="618.9" r="7.6" fill="url(#rc3)"/><circle cx="1058.5" cy="600.2" r="7.6" fill="url(#rc3)"/><circle cx="1137.4" cy="698.8" r="7.1" fill="url(#rc3)"/><circle cx="1145.6" cy="704.2" r="7.1" fill="url(#rc3)"/></g>
</g></g>
<text transform="translate(166.60 500.00) scale(1.03 1)" font-size="27.8" font-weight="bold" text-anchor="middle" fill="#000" stroke="#000" stroke-width="0.35">Ctrl</text>
<text transform="translate(465.60 500.00) scale(1.03 1)" font-size="27.8" font-weight="bold" text-anchor="middle" fill="#000" stroke="#000" stroke-width="0.35">12h</text>
<text transform="translate(764.60 500.00) scale(1.03 1)" font-size="27.8" font-weight="bold" text-anchor="middle" fill="#000" stroke="#000" stroke-width="0.35">24h</text>
<text transform="translate(1057.60 500.00) scale(1.03 1)" font-size="27.8" font-weight="bold" text-anchor="middle" fill="#000" stroke="#000" stroke-width="0.35">36h</text>
</g>
<g id="panelD">
<polyline points="124.50,1095.75 169.10,1074.25 213.70,1065.50 258.30,1046.75 302.90,1022.40 347.50,1004.60 392.10,990.40 436.70,953.00" fill="none" stroke="#00ffff" stroke-width="3.1" stroke-linejoin="round"/>
<polygon points="120.50,1095.75 124.50,1091.75 128.50,1095.75 124.50,1099.75" fill="#00ffff"/>
<polygon points="165.10,1074.25 169.10,1070.25 173.10,1074.25 169.10,1078.25" fill="#00ffff"/>
<polygon points="209.70,1065.50 213.70,1061.50 217.70,1065.50 213.70,1069.50" fill="#00ffff"/>
<polygon points="254.30,1046.75 258.30,1042.75 262.30,1046.75 258.30,1050.75" fill="#00ffff"/>
<polygon points="298.90,1022.40 302.90,1018.40 306.90,1022.40 302.90,1026.40" fill="#00ffff"/>
<polygon points="343.50,1004.60 347.50,1000.60 351.50,1004.60 347.50,1008.60" fill="#00ffff"/>
<polygon points="388.10,990.40 392.10,986.40 396.10,990.40 392.10,994.40" fill="#00ffff"/>
<polygon points="432.70,953.00 436.70,949.00 440.70,953.00 436.70,957.00" fill="#00ffff"/>
<polyline points="124.50,1095.75 169.10,1085.00 213.70,1081.25 258.30,1066.75 302.90,1049.25 347.50,1032.40 392.10,1016.40 436.70,993.00" fill="none" stroke="#ff0000" stroke-width="3.1" stroke-linejoin="round"/>
<polygon points="120.10,1092.73 128.90,1092.73 124.50,1099.93" fill="#ff0000"/>
<polygon points="164.70,1081.98 173.50,1081.98 169.10,1089.18" fill="#ff0000"/>
<polygon points="209.30,1078.23 218.10,1078.23 213.70,1085.43" fill="#ff0000"/>
<polygon points="253.90,1063.73 262.70,1063.73 258.30,1070.93" fill="#ff0000"/>
<polygon points="298.50,1046.23 307.30,1046.23 302.90,1053.43" fill="#ff0000"/>
<polygon points="343.10,1029.38 351.90,1029.38 347.50,1036.58" fill="#ff0000"/>
<polygon points="387.70,1013.38 396.50,1013.38 392.10,1020.58" fill="#ff0000"/>
<polygon points="432.30,989.98 441.10,989.98 436.70,997.18" fill="#ff0000"/>
<polyline points="124.50,1095.75 169.10,1083.75 213.70,1074.25 258.30,1055.50 302.90,1030.60 347.50,1016.60 392.10,1001.20 436.70,971.50" fill="none" stroke="#800080" stroke-width="3.1" stroke-linejoin="round"/>
<polygon points="119.90,1098.94 129.10,1098.94 124.50,1091.34" fill="#800080"/>
<polygon points="164.50,1086.94 173.70,1086.94 169.10,1079.34" fill="#800080"/>
<polygon points="209.10,1077.44 218.30,1077.44 213.70,1069.84" fill="#800080"/>
<polygon points="253.70,1058.69 262.90,1058.69 258.30,1051.09" fill="#800080"/>
<polygon points="298.30,1033.79 307.50,1033.79 302.90,1026.19" fill="#800080"/>
<polygon points="342.90,1019.79 352.10,1019.79 347.50,1012.19" fill="#800080"/>
<polygon points="387.50,1004.39 396.70,1004.39 392.10,996.79" fill="#800080"/>
<polygon points="432.10,974.69 441.30,974.69 436.70,967.09" fill="#800080"/>
<polyline points="124.50,1095.75 169.10,1083.25 213.70,1068.75 258.30,1040.50 302.90,1017.00 347.50,1002.00 392.10,987.30 436.70,952.80" fill="none" stroke="#22ff00" stroke-width="3.1" stroke-linejoin="round"/>
<rect x="120.20" y="1091.45" width="8.60" height="8.60" fill="#22ff00"/>
<rect x="164.80" y="1078.95" width="8.60" height="8.60" fill="#22ff00"/>
<rect x="209.40" y="1064.45" width="8.60" height="8.60" fill="#22ff00"/>
<rect x="254.00" y="1036.20" width="8.60" height="8.60" fill="#22ff00"/>
<rect x="298.60" y="1012.70" width="8.60" height="8.60" fill="#22ff00"/>
<rect x="343.20" y="997.70" width="8.60" height="8.60" fill="#22ff00"/>
<rect x="387.80" y="983.00" width="8.60" height="8.60" fill="#22ff00"/>
<rect x="432.40" y="948.50" width="8.60" height="8.60" fill="#22ff00"/>
<polyline points="124.50,1095.75 169.10,1079.00 213.70,1061.25 258.30,1033.30 302.90,998.60 347.50,972.90 392.10,941.20 436.70,873.90" fill="none" stroke="#0000ff" stroke-width="3.1" stroke-linejoin="round"/>
<circle cx="124.50" cy="1095.75" r="4.20" fill="#0000ff"/>
<circle cx="169.10" cy="1079.00" r="4.20" fill="#0000ff"/>
<circle cx="213.70" cy="1061.25" r="4.20" fill="#0000ff"/>
<circle cx="258.30" cy="1033.30" r="4.20" fill="#0000ff"/>
<circle cx="302.90" cy="998.60" r="4.20" fill="#0000ff"/>
<circle cx="347.50" cy="972.90" r="4.20" fill="#0000ff"/>
<circle cx="392.10" cy="941.20" r="4.20" fill="#0000ff"/>
<circle cx="436.70" cy="873.90" r="4.20" fill="#0000ff"/>
<line x1="102.20" y1="861.30" x2="102.20" y2="1139.40" stroke="#000" stroke-width="4.0" stroke-linecap="butt"/>
<line x1="92.20" y1="1137.50" x2="447.00" y2="1137.50" stroke="#000" stroke-width="3.8" stroke-linecap="butt"/>
<line x1="92.20" y1="1069.10" x2="102.20" y2="1069.10" stroke="#000" stroke-width="3.5" stroke-linecap="butt"/>
<line x1="92.20" y1="1000.70" x2="102.20" y2="1000.70" stroke="#000" stroke-width="3.5" stroke-linecap="butt"/>
<line x1="92.20" y1="932.30" x2="102.20" y2="932.30" stroke="#000" stroke-width="3.5" stroke-linecap="butt"/>
<line x1="92.20" y1="863.90" x2="102.20" y2="863.90" stroke="#000" stroke-width="3.5" stroke-linecap="butt"/>
<line x1="124.50" y1="1137.50" x2="124.50" y2="1147.40" stroke="#000" stroke-width="4.1" stroke-linecap="butt"/>
<line x1="169.10" y1="1137.50" x2="169.10" y2="1147.40" stroke="#000" stroke-width="4.1" stroke-linecap="butt"/>
<line x1="213.70" y1="1137.50" x2="213.70" y2="1147.40" stroke="#000" stroke-width="4.1" stroke-linecap="butt"/>
<line x1="258.30" y1="1137.50" x2="258.30" y2="1147.40" stroke="#000" stroke-width="4.1" stroke-linecap="butt"/>
<line x1="302.90" y1="1137.50" x2="302.90" y2="1147.40" stroke="#000" stroke-width="4.1" stroke-linecap="butt"/>
<line x1="347.50" y1="1137.50" x2="347.50" y2="1147.40" stroke="#000" stroke-width="4.1" stroke-linecap="butt"/>
<line x1="392.10" y1="1137.50" x2="392.10" y2="1147.40" stroke="#000" stroke-width="4.1" stroke-linecap="butt"/>
<line x1="436.70" y1="1137.50" x2="436.70" y2="1147.40" stroke="#000" stroke-width="4.1" stroke-linecap="butt"/>
<text transform="translate(91.20 1145.00) scale(1.07 1)" font-size="19.5" font-weight="bold" text-anchor="end" fill="#000" stroke="#000" stroke-width="0.35">0</text>
<text transform="translate(91.20 1076.60) scale(1.07 1)" font-size="19.5" font-weight="bold" text-anchor="end" fill="#000" stroke="#000" stroke-width="0.35">200</text>
<text transform="translate(91.20 1008.20) scale(1.07 1)" font-size="19.5" font-weight="bold" text-anchor="end" fill="#000" stroke="#000" stroke-width="0.35">400</text>
<text transform="translate(91.20 939.80) scale(1.07 1)" font-size="19.5" font-weight="bold" text-anchor="end" fill="#000" stroke="#000" stroke-width="0.35">600</text>
<text transform="translate(91.20 871.40) scale(1.07 1)" font-size="19.5" font-weight="bold" text-anchor="end" fill="#000" stroke="#000" stroke-width="0.35">800</text>
<text transform="translate(124.50 1167.50) scale(1.07 1)" font-size="19.5" font-weight="bold" text-anchor="middle" fill="#000" stroke="#000" stroke-width="0.35">1</text>
<text transform="translate(169.10 1167.50) scale(1.07 1)" font-size="19.5" font-weight="bold" text-anchor="middle" fill="#000" stroke="#000" stroke-width="0.35">3</text>
<text transform="translate(213.70 1167.50) scale(1.07 1)" font-size="19.5" font-weight="bold" text-anchor="middle" fill="#000" stroke="#000" stroke-width="0.35">5</text>
<text transform="translate(258.30 1167.50) scale(1.07 1)" font-size="19.5" font-weight="bold" text-anchor="middle" fill="#000" stroke="#000" stroke-width="0.35">7</text>
<text transform="translate(302.90 1167.50) scale(1.07 1)" font-size="19.5" font-weight="bold" text-anchor="middle" fill="#000" stroke="#000" stroke-width="0.35">9</text>
<text transform="translate(347.50 1167.50) scale(1.07 1)" font-size="19.5" font-weight="bold" text-anchor="middle" fill="#000" stroke="#000" stroke-width="0.35">11</text>
<text transform="translate(392.10 1167.50) scale(1.07 1)" font-size="19.5" font-weight="bold" text-anchor="middle" fill="#000" stroke="#000" stroke-width="0.35">13</text>
<text transform="translate(436.70 1167.50) scale(1.07 1)" font-size="19.5" font-weight="bold" text-anchor="middle" fill="#000" stroke="#000" stroke-width="0.35">15</text>
<text transform="translate(277.00 1197.00) scale(1.07 1)" font-size="21.4" font-weight="bold" text-anchor="middle" fill="#000" stroke="#000" stroke-width="0.35">Days of treatment</text>
<text transform="translate(32.80 1002.00) scale(1.07 1) rotate(-90)" font-size="21.85" font-weight="bold" text-anchor="middle" fill="#000" stroke="#000" stroke-width="0.35">Tumor volume(mm<tspan font-size="14.2" dy="-8.5">3</tspan><tspan dy="8.5">)</tspan></text>
<line x1="456.00" y1="862.00" x2="488.00" y2="862.00" stroke="#0000ff" stroke-width="3" stroke-linecap="butt"/>
<circle cx="472.00" cy="862.00" r="4.20" fill="#0000ff"/>
<text transform="translate(504.00 868.50) scale(1.07 1)" font-size="18.2" font-weight="normal" text-anchor="start" fill="#000">Control</text>
<line x1="456.00" y1="885.00" x2="488.00" y2="885.00" stroke="#22ff00" stroke-width="3" stroke-linecap="butt"/>
<rect x="467.70" y="880.70" width="8.60" height="8.60" fill="#22ff00"/>
<text transform="translate(504.00 891.50) scale(1.07 1)" font-size="18.2" font-weight="normal" text-anchor="start" fill="#000">7.5mg/kg Sal</text>
<line x1="456.00" y1="908.00" x2="488.00" y2="908.00" stroke="#800080" stroke-width="3" stroke-linecap="butt"/>
<polygon points="467.40,911.19 476.60,911.19 472.00,903.59" fill="#800080"/>
<text transform="translate(504.00 914.50) scale(1.07 1)" font-size="18.2" font-weight="normal" text-anchor="start" fill="#000">10mg/kg Sal</text>
<line x1="456.00" y1="934.00" x2="488.00" y2="934.00" stroke="#ff0000" stroke-width="3" stroke-linecap="butt"/>
<polygon points="467.60,930.98 476.40,930.98 472.00,938.18" fill="#ff0000"/>
<text transform="translate(504.00 940.50) scale(1.07 1)" font-size="18.2" font-weight="normal" text-anchor="start" fill="#000">12.5mg/kg Sal</text>
<line x1="456.00" y1="959.50" x2="488.00" y2="959.50" stroke="#00ffff" stroke-width="3" stroke-linecap="butt"/>
<polygon points="468.00,959.50 472.00,955.50 476.00,959.50 472.00,963.50" fill="#00ffff"/>
<text transform="translate(504.00 966.00) scale(1.07 1)" font-size="18.2" font-weight="normal" text-anchor="start" fill="#000">5mg/kg DDP</text>
</g>
<g id="panelE">
<rect x="788.10" y="899.30" width="52.00" height="200.00" fill="#000000"/>
<line x1="814.10" y1="848.70" x2="814.10" y2="900.30" stroke="#000" stroke-width="3" stroke-linecap="butt"/>
<line x1="800.10" y1="848.70" x2="828.10" y2="848.70" stroke="#000" stroke-width="3" stroke-linecap="butt"/>
<rect x="866.15" y="974.70" width="52.00" height="124.60" fill="#8e8d92"/>
<line x1="892.15" y1="935.50" x2="892.15" y2="975.70" stroke="#000" stroke-width="3" stroke-linecap="butt"/>
<line x1="878.15" y1="935.50" x2="906.15" y2="935.50" stroke="#000" stroke-width="3" stroke-linecap="butt"/>
<text transform="translate(893.15 937.00) scale(1.07 1)" font-size="23" font-weight="normal" text-anchor="middle" fill="#000">**</text>
<rect x="944.20" y="981.30" width="52.00" height="118.00" fill="#6e6e6e"/>
<line x1="970.20" y1="958.70" x2="970.20" y2="982.30" stroke="#000" stroke-width="3" stroke-linecap="butt"/>
<line x1="956.20" y1="958.70" x2="984.20" y2="958.70" stroke="#000" stroke-width="3" stroke-linecap="butt"/>
<text transform="translate(971.20 962.20) scale(1.07 1)" font-size="23" font-weight="normal" text-anchor="middle" fill="#000">**</text>
<rect x="1022.25" y="1006.70" width="52.00" height="92.60" fill="#c8c8c8"/>
<line x1="1048.25" y1="981.30" x2="1048.25" y2="1007.70" stroke="#000" stroke-width="3" stroke-linecap="butt"/>
<line x1="1034.25" y1="981.30" x2="1062.25" y2="981.30" stroke="#000" stroke-width="3" stroke-linecap="butt"/>
<text transform="translate(1049.25 983.50) scale(1.07 1)" font-size="23" font-weight="normal" text-anchor="middle" fill="#000">***</text>
<rect x="1100.30" y="975.70" width="52.00" height="123.60" fill="#4f4f4f"/>
<line x1="1126.30" y1="963.70" x2="1126.30" y2="976.70" stroke="#000" stroke-width="3" stroke-linecap="butt"/>
<line x1="1112.30" y1="963.70" x2="1140.30" y2="963.70" stroke="#000" stroke-width="3" stroke-linecap="butt"/>
<text transform="translate(1127.30 964.70) scale(1.07 1)" font-size="23" font-weight="normal" text-anchor="middle" fill="#000">**</text>
<line x1="774.75" y1="847.00" x2="774.75" y2="1101.20" stroke="#000" stroke-width="4.0" stroke-linecap="butt"/>
<line x1="764.25" y1="1099.30" x2="1165.00" y2="1099.30" stroke="#000" stroke-width="3.8" stroke-linecap="butt"/>
<line x1="764.25" y1="1049.30" x2="774.75" y2="1049.30" stroke="#000" stroke-width="3.5" stroke-linecap="butt"/>
<line x1="764.25" y1="999.30" x2="774.75" y2="999.30" stroke="#000" stroke-width="3.5" stroke-linecap="butt"/>
<line x1="764.25" y1="949.30" x2="774.75" y2="949.30" stroke="#000" stroke-width="3.5" stroke-linecap="butt"/>
<line x1="764.25" y1="899.30" x2="774.75" y2="899.30" stroke="#000" stroke-width="3.5" stroke-linecap="butt"/>
<line x1="764.25" y1="849.30" x2="774.75" y2="849.30" stroke="#000" stroke-width="3.5" stroke-linecap="butt"/>
<line x1="814.10" y1="1099.30" x2="814.10" y2="1109.20" stroke="#000" stroke-width="4.1" stroke-linecap="butt"/>
<line x1="892.15" y1="1099.30" x2="892.15" y2="1109.20" stroke="#000" stroke-width="4.1" stroke-linecap="butt"/>
<line x1="970.20" y1="1099.30" x2="970.20" y2="1109.20" stroke="#000" stroke-width="4.1" stroke-linecap="butt"/>
<line x1="1048.25" y1="1099.30" x2="1048.25" y2="1109.20" stroke="#000" stroke-width="4.1" stroke-linecap="butt"/>
<line x1="1126.30" y1="1099.30" x2="1126.30" y2="1109.20" stroke="#000" stroke-width="4.1" stroke-linecap="butt"/>
<text transform="translate(764.80 1106.50) scale(1.07 1)" font-size="19.5" font-weight="bold" text-anchor="end" fill="#000" stroke="#000" stroke-width="0.35">0</text>
<text transform="translate(764.80 1056.50) scale(1.07 1)" font-size="19.5" font-weight="bold" text-anchor="end" fill="#000" stroke="#000" stroke-width="0.35">25</text>
<text transform="translate(764.80 1006.50) scale(1.07 1)" font-size="19.5" font-weight="bold" text-anchor="end" fill="#000" stroke="#000" stroke-width="0.35">50</text>
<text transform="translate(764.80 956.50) scale(1.07 1)" font-size="19.5" font-weight="bold" text-anchor="end" fill="#000" stroke="#000" stroke-width="0.35">75</text>
<text transform="translate(764.80 906.50) scale(1.07 1)" font-size="19.5" font-weight="bold" text-anchor="end" fill="#000" stroke="#000" stroke-width="0.35">100</text>
<text transform="translate(764.80 856.50) scale(1.07 1)" font-size="19.5" font-weight="bold" text-anchor="end" fill="#000" stroke="#000" stroke-width="0.35">125</text>
<text transform="translate(702.20 975.00) scale(1.07 1) rotate(-90)" font-size="20.1" font-weight="bold" text-anchor="middle" fill="#000" stroke="#000" stroke-width="0.35">V<tspan font-size="13.5" dy="5">T</tspan><tspan dy="-5"> / V</tspan><tspan font-size="13.5" dy="5">C</tspan><tspan dy="-5">(%)</tspan></text>
<text transform="translate(818.60 1122.90) scale(1.07 1) rotate(-45)" font-size="20.4" font-weight="bold" text-anchor="end" fill="#000" stroke="#000" stroke-width="0.35">Control</text>
<text transform="translate(896.65 1122.90) scale(1.07 1) rotate(-45)" font-size="20.4" font-weight="bold" text-anchor="end" fill="#000" stroke="#000" stroke-width="0.35">7.5mg/kg Sal</text>
<text transform="translate(974.70 1122.90) scale(1.07 1) rotate(-45)" font-size="20.4" font-weight="bold" text-anchor="end" fill="#000" stroke="#000" stroke-width="0.35">10mg/kg Sal</text>
<text transform="translate(1052.75 1122.90) scale(1.07 1) rotate(-45)" font-size="20.4" font-weight="bold" text-anchor="end" fill="#000" stroke="#000" stroke-width="0.35">12.5mg/kg Sal</text>
<text transform="translate(1130.80 1122.90) scale(1.07 1) rotate(-45)" font-size="20.4" font-weight="bold" text-anchor="end" fill="#000" stroke="#000" stroke-width="0.35">5mg/kg DDP</text>
</g>
<g id="panelF">
<circle cx="128.00" cy="1295.00" r="5.12" fill="#0000ff"/>
<circle cx="143.75" cy="1297.00" r="5.12" fill="#0000ff"/>
<circle cx="160.00" cy="1295.00" r="5.12" fill="#0000ff"/>
<circle cx="143.75" cy="1350.50" r="5.12" fill="#0000ff"/>
<circle cx="143.75" cy="1370.75" r="5.12" fill="#0000ff"/>
<circle cx="128.00" cy="1377.00" r="5.12" fill="#0000ff"/>
<circle cx="143.75" cy="1390.00" r="5.12" fill="#0000ff"/>
<circle cx="160.00" cy="1387.50" r="5.12" fill="#0000ff"/>
<line x1="116.20" y1="1345.00" x2="171.30" y2="1345.00" stroke="#000" stroke-width="2.8" stroke-linecap="butt"/>
<rect x="221.50" y="1311.75" width="10.49" height="10.49" fill="#22ff00"/>
<rect x="221.50" y="1336.95" width="10.49" height="10.49" fill="#22ff00"/>
<rect x="205.35" y="1346.55" width="10.49" height="10.49" fill="#22ff00"/>
<rect x="237.05" y="1342.35" width="10.49" height="10.49" fill="#22ff00"/>
<rect x="221.50" y="1353.55" width="10.49" height="10.49" fill="#22ff00"/>
<rect x="205.35" y="1397.55" width="10.49" height="10.49" fill="#22ff00"/>
<rect x="237.05" y="1402.75" width="10.49" height="10.49" fill="#22ff00"/>
<rect x="221.50" y="1410.95" width="10.49" height="10.49" fill="#22ff00"/>
<line x1="199.00" y1="1367.60" x2="254.00" y2="1367.60" stroke="#000" stroke-width="2.8" stroke-linecap="butt"/>
<polygon points="303.59,1346.39 314.81,1346.39 309.20,1337.12" fill="#800080"/>
<polygon points="311.59,1346.89 322.81,1346.89 317.20,1337.62" fill="#800080"/>
<polygon points="295.69,1361.89 306.91,1361.89 301.30,1352.62" fill="#800080"/>
<polygon points="303.59,1392.29 314.81,1392.29 309.20,1383.02" fill="#800080"/>
<polygon points="324.59,1415.29 335.81,1415.29 330.20,1406.02" fill="#800080"/>
<polygon points="282.39,1425.19 293.61,1425.19 288.00,1415.92" fill="#800080"/>
<polygon points="296.49,1427.99 307.71,1427.99 302.10,1418.72" fill="#800080"/>
<polygon points="310.69,1427.19 321.91,1427.19 316.30,1417.92" fill="#800080"/>
<line x1="282.00" y1="1388.40" x2="336.70" y2="1388.40" stroke="#000" stroke-width="2.8" stroke-linecap="butt"/>
<polygon points="378.63,1364.91 389.37,1364.91 384.00,1373.69" fill="#ff8010"/>
<polygon points="394.53,1367.11 405.27,1367.11 399.90,1375.89" fill="#ff8010"/>
<polygon points="386.63,1382.21 397.37,1382.21 392.00,1390.99" fill="#ff8010"/>
<polygon points="378.63,1403.11 389.37,1403.11 384.00,1411.89" fill="#ff8010"/>
<polygon points="394.53,1415.91 405.27,1415.91 399.90,1424.69" fill="#ff8010"/>
<polygon points="370.73,1422.11 381.47,1422.11 376.10,1430.89" fill="#ff8010"/>
<polygon points="386.63,1436.61 397.37,1436.61 392.00,1445.39" fill="#ff8010"/>
<polygon points="402.43,1436.61 413.17,1436.61 407.80,1445.39" fill="#ff8010"/>
<line x1="364.80" y1="1408.00" x2="419.40" y2="1408.00" stroke="#000" stroke-width="2.8" stroke-linecap="butt"/>
<polygon points="469.82,1351.00 474.70,1346.12 479.58,1351.00 474.70,1355.88" fill="#00ffff"/>
<polygon points="477.72,1359.20 482.60,1354.32 487.48,1359.20 482.60,1364.08" fill="#00ffff"/>
<polygon points="461.92,1367.20 466.80,1362.32 471.68,1367.20 466.80,1372.08" fill="#00ffff"/>
<polygon points="477.72,1385.90 482.60,1381.02 487.48,1385.90 482.60,1390.78" fill="#00ffff"/>
<polygon points="461.92,1383.90 466.80,1379.02 471.68,1383.90 466.80,1388.78" fill="#00ffff"/>
<polygon points="453.92,1398.30 458.80,1393.42 463.68,1398.30 458.80,1403.18" fill="#00ffff"/>
<polygon points="469.82,1402.60 474.70,1397.72 479.58,1402.60 474.70,1407.48" fill="#00ffff"/>
<polygon points="485.72,1402.60 490.60,1397.72 495.48,1402.60 490.60,1407.48" fill="#00ffff"/>
<line x1="447.20" y1="1381.20" x2="502.20" y2="1381.20" stroke="#000" stroke-width="2.8" stroke-linecap="butt"/>
<line x1="102.20" y1="1232.50" x2="102.20" y2="1489.20" stroke="#000" stroke-width="4.0" stroke-linecap="butt"/>
<line x1="92.20" y1="1487.30" x2="515.80" y2="1487.30" stroke="#000" stroke-width="3.8" stroke-linecap="butt"/>
<line x1="92.20" y1="1436.80" x2="102.20" y2="1436.80" stroke="#000" stroke-width="3.5" stroke-linecap="butt"/>
<line x1="92.20" y1="1386.30" x2="102.20" y2="1386.30" stroke="#000" stroke-width="3.5" stroke-linecap="butt"/>
<line x1="92.20" y1="1335.80" x2="102.20" y2="1335.80" stroke="#000" stroke-width="3.5" stroke-linecap="butt"/>
<line x1="92.20" y1="1285.30" x2="102.20" y2="1285.30" stroke="#000" stroke-width="3.5" stroke-linecap="butt"/>
<line x1="92.20" y1="1234.80" x2="102.20" y2="1234.80" stroke="#000" stroke-width="3.5" stroke-linecap="butt"/>
<line x1="143.40" y1="1487.30" x2="143.40" y2="1497.20" stroke="#000" stroke-width="4.1" stroke-linecap="butt"/>
<line x1="226.20" y1="1487.30" x2="226.20" y2="1497.20" stroke="#000" stroke-width="4.1" stroke-linecap="butt"/>
<line x1="309.00" y1="1487.30" x2="309.00" y2="1497.20" stroke="#000" stroke-width="4.1" stroke-linecap="butt"/>
<line x1="391.80" y1="1487.30" x2="391.80" y2="1497.20" stroke="#000" stroke-width="4.1" stroke-linecap="butt"/>
<line x1="474.60" y1="1487.30" x2="474.60" y2="1497.20" stroke="#000" stroke-width="4.1" stroke-linecap="butt"/>
<text transform="translate(91.20 1494.60) scale(1.07 1)" font-size="19.5" font-weight="bold" text-anchor="end" fill="#000" stroke="#000" stroke-width="0.35">0.0</text>
<text transform="translate(91.20 1444.10) scale(1.07 1)" font-size="19.5" font-weight="bold" text-anchor="end" fill="#000" stroke="#000" stroke-width="0.35">0.2</text>
<text transform="translate(91.20 1393.60) scale(1.07 1)" font-size="19.5" font-weight="bold" text-anchor="end" fill="#000" stroke="#000" stroke-width="0.35">0.4</text>
<text transform="translate(91.20 1343.10) scale(1.07 1)" font-size="19.5" font-weight="bold" text-anchor="end" fill="#000" stroke="#000" stroke-width="0.35">0.6</text>
<text transform="translate(91.20 1292.60) scale(1.07 1)" font-size="19.5" font-weight="bold" text-anchor="end" fill="#000" stroke="#000" stroke-width="0.35">0.8</text>
<text transform="translate(91.20 1242.10) scale(1.07 1)" font-size="19.5" font-weight="bold" text-anchor="end" fill="#000" stroke="#000" stroke-width="0.35">1.0</text>
<text transform="translate(34.40 1361.90) scale(1.12 1) rotate(-90)" font-size="20.0" font-weight="bold" text-anchor="middle" fill="#000" stroke="#000" stroke-width="0.35">Tumor weight(g)</text>
<text transform="translate(148.90 1511.20) scale(1.07 1) rotate(-45)" font-size="20.4" font-weight="bold" text-anchor="end" fill="#000" stroke="#000" stroke-width="0.35">Control</text>
<text transform="translate(231.70 1511.20) scale(1.07 1) rotate(-45)" font-size="20.4" font-weight="bold" text-anchor="end" fill="#000" stroke="#000" stroke-width="0.35">7.5mg/kg Sal</text>
<text transform="translate(314.50 1511.20) scale(1.07 1) rotate(-45)" font-size="20.4" font-weight="bold" text-anchor="end" fill="#000" stroke="#000" stroke-width="0.35">10mg/kg Sal</text>
<text transform="translate(397.30 1511.20) scale(1.07 1) rotate(-45)" font-size="20.4" font-weight="bold" text-anchor="end" fill="#000" stroke="#000" stroke-width="0.35">12.5mg/kg Sal</text>
<text transform="translate(480.10 1511.20) scale(1.07 1) rotate(-45)" font-size="20.4" font-weight="bold" text-anchor="end" fill="#000" stroke="#000" stroke-width="0.35">5mg/kg DDP</text>
</g>
<g id="panelG">
<line x1="813.50" y1="1437.90" x2="813.50" y2="1488.10" stroke="#000" stroke-width="3" stroke-linecap="butt"/>
<line x1="799.75" y1="1437.90" x2="827.25" y2="1437.90" stroke="#000" stroke-width="3" stroke-linecap="butt"/>
<rect x="864.85" y="1407.15" width="51.40" height="79.95" fill="#8e8d92"/>
<line x1="890.55" y1="1351.80" x2="890.55" y2="1408.15" stroke="#000" stroke-width="3" stroke-linecap="butt"/>
<line x1="876.80" y1="1351.80" x2="904.30" y2="1351.80" stroke="#000" stroke-width="3" stroke-linecap="butt"/>
<rect x="941.90" y="1363.28" width="51.40" height="123.82" fill="#6e6e6e"/>
<line x1="967.60" y1="1301.37" x2="967.60" y2="1364.28" stroke="#000" stroke-width="3" stroke-linecap="butt"/>
<line x1="953.85" y1="1301.37" x2="981.35" y2="1301.37" stroke="#000" stroke-width="3" stroke-linecap="butt"/>
<text transform="translate(968.60 1304.00) scale(1.07 1)" font-size="23" font-weight="normal" text-anchor="middle" fill="#000">*</text>
<rect x="1018.95" y="1311.62" width="51.40" height="175.48" fill="#c8c8c8"/>
<line x1="1044.65" y1="1270.62" x2="1044.65" y2="1312.62" stroke="#000" stroke-width="3" stroke-linecap="butt"/>
<line x1="1030.90" y1="1270.62" x2="1058.40" y2="1270.62" stroke="#000" stroke-width="3" stroke-linecap="butt"/>
<text transform="translate(1045.65 1272.70) scale(1.07 1)" font-size="23" font-weight="normal" text-anchor="middle" fill="#000">**</text>
<rect x="1096.00" y="1385.01" width="51.40" height="102.09" fill="#4f4f4f"/>
<line x1="1121.70" y1="1339.91" x2="1121.70" y2="1386.01" stroke="#000" stroke-width="3" stroke-linecap="butt"/>
<line x1="1107.95" y1="1339.91" x2="1135.45" y2="1339.91" stroke="#000" stroke-width="3" stroke-linecap="butt"/>
<text transform="translate(1122.70 1342.00) scale(1.07 1)" font-size="23" font-weight="normal" text-anchor="middle" fill="#000">*</text>
<line x1="774.75" y1="1240.00" x2="774.75" y2="1489.00" stroke="#000" stroke-width="4.0" stroke-linecap="butt"/>
<line x1="764.25" y1="1487.10" x2="1160.70" y2="1487.10" stroke="#000" stroke-width="3.8" stroke-linecap="butt"/>
<line x1="764.25" y1="1405.10" x2="774.75" y2="1405.10" stroke="#000" stroke-width="3.5" stroke-linecap="butt"/>
<line x1="764.25" y1="1323.10" x2="774.75" y2="1323.10" stroke="#000" stroke-width="3.5" stroke-linecap="butt"/>
<line x1="764.25" y1="1241.10" x2="774.75" y2="1241.10" stroke="#000" stroke-width="3.5" stroke-linecap="butt"/>
<line x1="813.50" y1="1487.10" x2="813.50" y2="1497.00" stroke="#000" stroke-width="4.1" stroke-linecap="butt"/>
<line x1="890.55" y1="1487.10" x2="890.55" y2="1497.00" stroke="#000" stroke-width="4.1" stroke-linecap="butt"/>
<line x1="967.60" y1="1487.10" x2="967.60" y2="1497.00" stroke="#000" stroke-width="4.1" stroke-linecap="butt"/>
<line x1="1044.65" y1="1487.10" x2="1044.65" y2="1497.00" stroke="#000" stroke-width="4.1" stroke-linecap="butt"/>
<line x1="1121.70" y1="1487.10" x2="1121.70" y2="1497.00" stroke="#000" stroke-width="4.1" stroke-linecap="butt"/>
<text transform="translate(765.20 1494.00) scale(1.07 1)" font-size="18.5" font-weight="bold" text-anchor="end" fill="#000" stroke="#000" stroke-width="0.35">0</text>
<text transform="translate(765.20 1412.00) scale(1.07 1)" font-size="18.5" font-weight="bold" text-anchor="end" fill="#000" stroke="#000" stroke-width="0.35">20</text>
<text transform="translate(765.20 1330.00) scale(1.07 1)" font-size="18.5" font-weight="bold" text-anchor="end" fill="#000" stroke="#000" stroke-width="0.35">40</text>
<text transform="translate(765.20 1248.00) scale(1.07 1)" font-size="18.5" font-weight="bold" text-anchor="end" fill="#000" stroke="#000" stroke-width="0.35">60</text>
<text transform="translate(711.80 1364.20) scale(1.07 1) rotate(-90)" font-size="19.4" font-weight="bold" text-anchor="middle" fill="#000" stroke="#000" stroke-width="0.35">Tumor weight inhibition rate(%)</text>
<text transform="translate(819.10 1509.30) scale(1.07 1) rotate(-45)" font-size="18.9" font-weight="bold" text-anchor="end" fill="#000" stroke="#000" stroke-width="0.35">Control</text>
<text transform="translate(896.15 1509.30) scale(1.07 1) rotate(-45)" font-size="18.9" font-weight="bold" text-anchor="end" fill="#000" stroke="#000" stroke-width="0.35">7.5mg/kg Sal</text>
<text transform="translate(973.20 1509.30) scale(1.07 1) rotate(-45)" font-size="18.9" font-weight="bold" text-anchor="end" fill="#000" stroke="#000" stroke-width="0.35">10mg/kg Sal</text>
<text transform="translate(1050.25 1509.30) scale(1.07 1) rotate(-45)" font-size="18.9" font-weight="bold" text-anchor="end" fill="#000" stroke="#000" stroke-width="0.35">12.5mg/kg Sal</text>
<text transform="translate(1127.30 1509.30) scale(1.07 1) rotate(-45)" font-size="18.9" font-weight="bold" text-anchor="end" fill="#000" stroke="#000" stroke-width="0.35">5mg/kg DDP</text>
</g>
</svg></body></html>
